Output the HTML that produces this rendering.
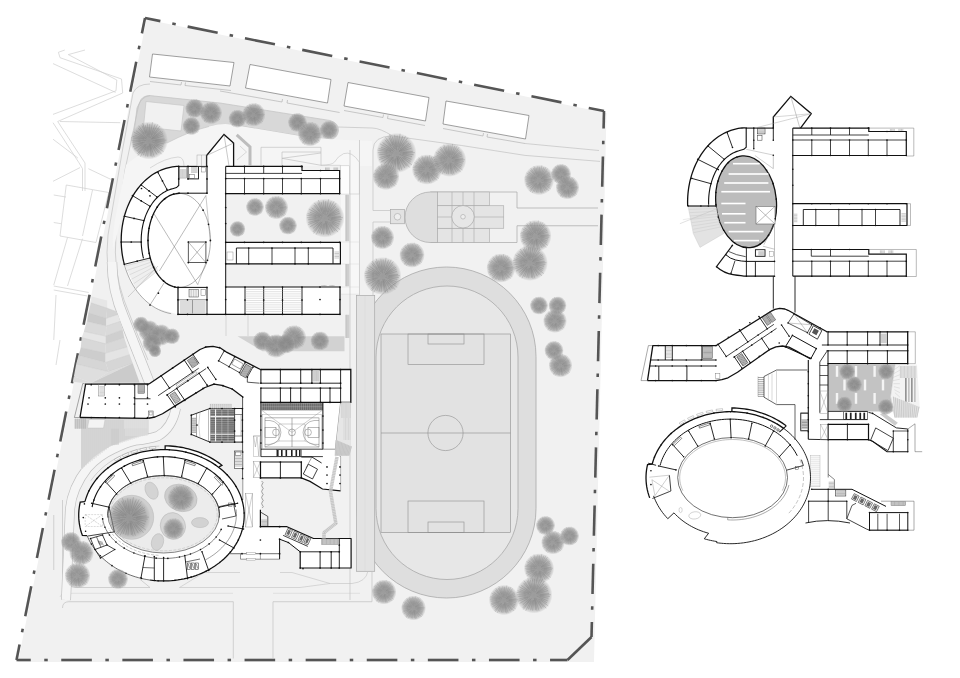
<!DOCTYPE html>
<html lang="en"><head><meta charset="utf-8"><title>Site plan</title>
<style>html,body{margin:0;padding:0;background:#fff;}body{width:960px;height:678px;overflow:hidden;font-family:"Liberation Sans",sans-serif;}svg{display:block;}</style>
</head><body>
<svg width="960" height="678" viewBox="0 0 960 678">
<defs><filter id="b1" x="-30%" y="-30%" width="160%" height="160%"><feGaussianBlur stdDeviation="0.6"/></filter><filter id="b2" x="-30%" y="-30%" width="160%" height="160%"><feGaussianBlur stdDeviation="1.2"/></filter></defs>
<g id="part_context">
<polyline points="64.8,50 58.4,52.3 60,57.7 121.5,79 122.7,93 57.7,121.5 85,163 85,191" fill="none" stroke="#cfcfcf" stroke-width="0.7" />
<polyline points="85,50 68.3,54.6 116.8,80 116,90.8 53,114.4" fill="none" stroke="#cfcfcf" stroke-width="0.7" />
<polyline points="53,63.6 115.6,92.4" fill="none" stroke="#cfcfcf" stroke-width="0.7" />
<polyline points="60,121.5 120.3,122.7" fill="none" stroke="#cfcfcf" stroke-width="0.7" />
<polyline points="53,122.7 79,162.8 82.5,168.7 82.5,191" fill="none" stroke="#cfcfcf" stroke-width="0.7" />
<polyline points="53,139.2 77.8,158" fill="none" stroke="#cfcfcf" stroke-width="0.7" />
<polyline points="53,181.3 80,167.6" fill="none" stroke="#cfcfcf" stroke-width="0.7" />
<polyline points="88.4,168.7 110.9,179.4" fill="none" stroke="#cfcfcf" stroke-width="0.7" />
<polygon points="66.25,185 108.75,192.5 96,242.5 60,236" fill="none" stroke="#cfcfcf" stroke-width="0.7" />
<polyline points="92.5,190 82.5,236" fill="none" stroke="#cfcfcf" stroke-width="0.7" />
<polyline points="53.75,195 66,197" fill="none" stroke="#cfcfcf" stroke-width="0.7" />
<polyline points="53.75,222.5 61,223.7" fill="none" stroke="#cfcfcf" stroke-width="0.7" />
<polyline points="67.5,237.5 53.75,285" fill="none" stroke="#cfcfcf" stroke-width="0.7" />
<polyline points="82.5,238.7 67.5,286" fill="none" stroke="#cfcfcf" stroke-width="0.7" />
<polyline points="53.75,286 88.75,292.5" fill="none" stroke="#cfcfcf" stroke-width="0.7" />
<polyline points="53.75,290 87.5,296" fill="none" stroke="#cfcfcf" stroke-width="0.7" />
<polyline points="56,295 53.75,340" fill="none" stroke="#cfcfcf" stroke-width="0.7" />
<polyline points="60,340 56,365" fill="none" stroke="#cfcfcf" stroke-width="0.7" />
</g>
<g id="part_base">
<polygon points="146.5,19.5 606.5,113 594,662 18,662" fill="#f1f1f1" stroke="none" stroke-width="1" filter="url(#b1)"/>
<path d="M357,356.5 A89.5,89.5 0 0 1 536,356.5 L536,508.5 A89.5,89.5 0 0 1 357,508.5 Z" fill="#dedede" stroke="#a8a8a8" stroke-width="0.8" />
<path d="M376,357 A71,71 0 0 1 518,357 L518,508.5 A71,71 0 0 1 376,508.5 Z" fill="#e7e7e7" stroke="#a8a8a8" stroke-width="0.8" />
<rect x="356.5" y="295.5" width="18.2" height="275.8" fill="#e3e3e3" stroke="#a8a8a8" stroke-width="0.7" />
<line x1="365" y1="296" x2="365" y2="571" stroke="#d6d6d6" stroke-width="0.5" />
<rect x="381" y="334" width="129.5" height="198.5" fill="#e2e2e2" stroke="#8e8e8e" stroke-width="0.6" />
<rect x="408" y="334" width="76" height="30.5" fill="none" stroke="#8e8e8e" stroke-width="0.6" />
<rect x="428" y="334" width="36" height="10" fill="none" stroke="#8e8e8e" stroke-width="0.6" />
<rect x="408" y="501" width="76" height="31.5" fill="none" stroke="#8e8e8e" stroke-width="0.6" />
<rect x="428" y="522" width="36" height="10.5" fill="none" stroke="#8e8e8e" stroke-width="0.6" />
<line x1="381" y1="433" x2="510.5" y2="433" stroke="#8e8e8e" stroke-width="0.6" />
<circle cx="445.5" cy="433" r="17.6" fill="none" stroke="#8e8e8e" stroke-width="0.6" />
<path d="M430.25,192 L517,192 L517,208 L598,208 M598,225.75 L517,225.75 L517,242.5 L430.25,242.5" fill="none" stroke="#a8a8a8" stroke-width="0.7" />
<path d="M430.25,192 A25.25,25.25 0 0 0 430.25,242.5 L437.5,242.5 L437.5,192 Z" fill="#dedede" stroke="#a8a8a8" stroke-width="0.7" />
<rect x="437.5" y="192" width="52" height="13.75" fill="#e4e4e4" stroke="#a8a8a8" stroke-width="0.6" />
<rect x="437.5" y="228.25" width="52" height="14.25" fill="#e4e4e4" stroke="#a8a8a8" stroke-width="0.6" />
<rect x="437.5" y="205.75" width="66.25" height="22.5" fill="#e4e4e4" stroke="#a8a8a8" stroke-width="0.6" />
<line x1="452" y1="192" x2="452" y2="242.5" stroke="#a8a8a8" stroke-width="0.6" />
<line x1="463" y1="192" x2="463" y2="242.5" stroke="#a8a8a8" stroke-width="0.6" />
<line x1="474" y1="192" x2="474" y2="242.5" stroke="#a8a8a8" stroke-width="0.6" />
<line x1="437.5" y1="217" x2="503.75" y2="217" stroke="#a8a8a8" stroke-width="0.6" />
<circle cx="463" cy="216.75" r="11.25" fill="#e6e6e6" stroke="#a8a8a8" stroke-width="0.7" />
<circle cx="463" cy="216.75" r="2.3" fill="#eee" stroke="#a8a8a8" stroke-width="0.6" />
<rect x="390.5" y="209.5" width="14" height="14.25" fill="#e2e2e2" stroke="#a8a8a8" stroke-width="0.7" />
<circle cx="397.5" cy="216.75" r="3.3" fill="#eee" stroke="#a8a8a8" stroke-width="0.6" />
<polygon points="152.5,54 234,62.5 230,86 149.5,77" fill="#fff" stroke="#777" stroke-width="0.7" />
<polygon points="250,64.5 331,79.5 327.5,103 245.5,88" fill="#fff" stroke="#777" stroke-width="0.7" />
<polygon points="348,82.5 429,97.5 425.5,121 344,106" fill="#fff" stroke="#777" stroke-width="0.7" />
<polygon points="446,101 529,115.5 525.5,139 443,124" fill="#fff" stroke="#777" stroke-width="0.7" />
<line x1="145" y1="18" x2="160.36" y2="21.11" stroke="#555" stroke-width="2.6" />
<line x1="172.3" y1="23.53" x2="175.73" y2="24.23" stroke="#555" stroke-width="2.6" />
<line x1="187.66" y1="26.64" x2="217.65" y2="32.72" stroke="#555" stroke-width="2.6" />
<line x1="229.59" y1="35.14" x2="233.02" y2="35.83" stroke="#555" stroke-width="2.6" />
<line x1="244.96" y1="38.25" x2="274.95" y2="44.33" stroke="#555" stroke-width="2.6" />
<line x1="286.89" y1="46.75" x2="290.32" y2="47.44" stroke="#555" stroke-width="2.6" />
<line x1="302.25" y1="49.86" x2="332.25" y2="55.94" stroke="#555" stroke-width="2.6" />
<line x1="344.18" y1="58.36" x2="347.61" y2="59.05" stroke="#555" stroke-width="2.6" />
<line x1="359.55" y1="61.47" x2="389.54" y2="67.55" stroke="#555" stroke-width="2.6" />
<line x1="401.48" y1="69.97" x2="404.91" y2="70.66" stroke="#555" stroke-width="2.6" />
<line x1="416.85" y1="73.08" x2="446.84" y2="79.16" stroke="#555" stroke-width="2.6" />
<line x1="458.77" y1="81.58" x2="462.2" y2="82.27" stroke="#555" stroke-width="2.6" />
<line x1="474.14" y1="84.69" x2="504.13" y2="90.77" stroke="#555" stroke-width="2.6" />
<line x1="516.07" y1="93.18" x2="519.5" y2="93.88" stroke="#555" stroke-width="2.6" />
<line x1="531.44" y1="96.3" x2="561.43" y2="102.37" stroke="#555" stroke-width="2.6" />
<line x1="573.37" y1="104.79" x2="576.8" y2="105.49" stroke="#555" stroke-width="2.6" />
<line x1="588.73" y1="107.91" x2="604" y2="111" stroke="#555" stroke-width="2.6" />
<line x1="145" y1="18" x2="141.92" y2="33.37" stroke="#555" stroke-width="2.6" />
<line x1="139.44" y1="45.8" x2="138.75" y2="49.23" stroke="#555" stroke-width="2.6" />
<line x1="136.26" y1="61.66" x2="130.26" y2="91.66" stroke="#555" stroke-width="2.6" />
<line x1="127.77" y1="104.09" x2="127.08" y2="107.52" stroke="#555" stroke-width="2.6" />
<line x1="124.59" y1="119.95" x2="118.59" y2="149.96" stroke="#555" stroke-width="2.6" />
<line x1="116.1" y1="162.39" x2="115.41" y2="165.82" stroke="#555" stroke-width="2.6" />
<line x1="112.93" y1="178.25" x2="106.92" y2="208.25" stroke="#555" stroke-width="2.6" />
<line x1="104.43" y1="220.68" x2="103.75" y2="224.11" stroke="#555" stroke-width="2.6" />
<line x1="101.26" y1="236.54" x2="95.25" y2="266.55" stroke="#555" stroke-width="2.6" />
<line x1="92.76" y1="278.97" x2="92.08" y2="282.41" stroke="#555" stroke-width="2.6" />
<line x1="89.59" y1="294.83" x2="83.58" y2="324.84" stroke="#555" stroke-width="2.6" />
<line x1="81.1" y1="337.27" x2="80.41" y2="340.7" stroke="#555" stroke-width="2.6" />
<line x1="77.92" y1="353.13" x2="71.92" y2="383.13" stroke="#555" stroke-width="2.6" />
<line x1="69.43" y1="395.56" x2="68.74" y2="398.99" stroke="#555" stroke-width="2.6" />
<line x1="66.25" y1="411.42" x2="60.25" y2="441.43" stroke="#555" stroke-width="2.6" />
<line x1="57.76" y1="453.86" x2="57.07" y2="457.29" stroke="#555" stroke-width="2.6" />
<line x1="54.59" y1="469.72" x2="48.58" y2="499.72" stroke="#555" stroke-width="2.6" />
<line x1="46.09" y1="512.15" x2="45.41" y2="515.58" stroke="#555" stroke-width="2.6" />
<line x1="42.92" y1="528.01" x2="36.91" y2="558.01" stroke="#555" stroke-width="2.6" />
<line x1="34.43" y1="570.44" x2="33.74" y2="573.87" stroke="#555" stroke-width="2.6" />
<line x1="31.25" y1="586.3" x2="25.25" y2="616.31" stroke="#555" stroke-width="2.6" />
<line x1="22.76" y1="628.74" x2="22.07" y2="632.17" stroke="#555" stroke-width="2.6" />
<line x1="19.58" y1="644.6" x2="16.5" y2="660" stroke="#555" stroke-width="2.6" />
<line x1="604" y1="111" x2="603.58" y2="128.55" stroke="#555" stroke-width="2.6" />
<line x1="603.29" y1="140.74" x2="603.21" y2="144.24" stroke="#555" stroke-width="2.6" />
<line x1="602.92" y1="156.44" x2="602.2" y2="186.73" stroke="#555" stroke-width="2.6" />
<line x1="601.91" y1="198.93" x2="601.83" y2="202.42" stroke="#555" stroke-width="2.6" />
<line x1="601.54" y1="214.62" x2="600.82" y2="244.91" stroke="#555" stroke-width="2.6" />
<line x1="600.53" y1="257.11" x2="600.44" y2="260.61" stroke="#555" stroke-width="2.6" />
<line x1="600.15" y1="272.8" x2="599.43" y2="303.1" stroke="#555" stroke-width="2.6" />
<line x1="599.15" y1="315.29" x2="599.06" y2="318.79" stroke="#555" stroke-width="2.6" />
<line x1="598.77" y1="330.99" x2="598.05" y2="361.28" stroke="#555" stroke-width="2.6" />
<line x1="597.76" y1="373.48" x2="597.68" y2="376.97" stroke="#555" stroke-width="2.6" />
<line x1="597.39" y1="389.17" x2="596.67" y2="419.46" stroke="#555" stroke-width="2.6" />
<line x1="596.38" y1="431.66" x2="596.3" y2="435.16" stroke="#555" stroke-width="2.6" />
<line x1="596.01" y1="447.36" x2="595.29" y2="477.65" stroke="#555" stroke-width="2.6" />
<line x1="595" y1="489.84" x2="594.91" y2="493.34" stroke="#555" stroke-width="2.6" />
<line x1="594.62" y1="505.54" x2="593.9" y2="535.83" stroke="#555" stroke-width="2.6" />
<line x1="593.61" y1="548.03" x2="593.53" y2="551.53" stroke="#555" stroke-width="2.6" />
<line x1="593.24" y1="563.72" x2="592.52" y2="594.01" stroke="#555" stroke-width="2.6" />
<line x1="592.23" y1="606.21" x2="592.15" y2="609.71" stroke="#555" stroke-width="2.6" />
<line x1="591.86" y1="621.91" x2="591.5" y2="637" stroke="#555" stroke-width="2.6" />
<line x1="16.5" y1="660" x2="30.75" y2="660" stroke="#555" stroke-width="2.6" />
<line x1="44.25" y1="660" x2="47.75" y2="660" stroke="#555" stroke-width="2.6" />
<line x1="61.25" y1="660" x2="91.85" y2="660" stroke="#555" stroke-width="2.6" />
<line x1="105.35" y1="660" x2="108.85" y2="660" stroke="#555" stroke-width="2.6" />
<line x1="122.35" y1="660" x2="152.95" y2="660" stroke="#555" stroke-width="2.6" />
<line x1="166.45" y1="660" x2="169.95" y2="660" stroke="#555" stroke-width="2.6" />
<line x1="183.45" y1="660" x2="214.05" y2="660" stroke="#555" stroke-width="2.6" />
<line x1="227.55" y1="660" x2="231.05" y2="660" stroke="#555" stroke-width="2.6" />
<line x1="244.55" y1="660" x2="275.15" y2="660" stroke="#555" stroke-width="2.6" />
<line x1="288.65" y1="660" x2="292.15" y2="660" stroke="#555" stroke-width="2.6" />
<line x1="305.65" y1="660" x2="336.25" y2="660" stroke="#555" stroke-width="2.6" />
<line x1="349.75" y1="660" x2="353.25" y2="660" stroke="#555" stroke-width="2.6" />
<line x1="366.75" y1="660" x2="397.35" y2="660" stroke="#555" stroke-width="2.6" />
<line x1="410.85" y1="660" x2="414.35" y2="660" stroke="#555" stroke-width="2.6" />
<line x1="427.85" y1="660" x2="458.45" y2="660" stroke="#555" stroke-width="2.6" />
<line x1="471.95" y1="660" x2="475.45" y2="660" stroke="#555" stroke-width="2.6" />
<line x1="488.95" y1="660" x2="519.55" y2="660" stroke="#555" stroke-width="2.6" />
<line x1="533.05" y1="660" x2="536.55" y2="660" stroke="#555" stroke-width="2.6" />
<line x1="550.05" y1="660" x2="567.5" y2="660" stroke="#555" stroke-width="2.6" />
<polyline points="591.5,637 567.5,660" fill="none" stroke="#555" stroke-width="2.6" />
</g>
<g id="part_roads">
<path d="M141,99.5 Q144,95.5 150,95.6 L220,103 L330,120.5 Q339,123 338.5,131 Q337,139 330,139.5 L300,136 L231,124.5 Q212,123 196,133 Q172,148 140,153 Q132,150 133,140 L137,108 Z" fill="#d8d8d8" stroke="#c2c2c2" stroke-width="0.7" />
<polygon points="146,101.5 184,105.5 181,131 143.5,127" fill="#f1f1f1" stroke="#c2c2c2" stroke-width="0.6" />
<path d="M150,81.5 L181,85 L181.5,82 M185.5,82.5 L185,85.5 L231,90.5 M220,91 L282,102 L282.5,99 M287.5,100 L287,103 L339.6,112.5 M344,110.5 L383,117.5 L383.5,114.5 M388,115.5 L387.5,118.5 L425,125.5 M443,128.5 L483,136 L483.5,133 M487.5,134 L487,137 L525,143.5" fill="none" stroke="#aaa" stroke-width="0.6" />
<path d="M338,127 L372,128 Q380,128 392.5,136 L461.7,145.5 L525,155.4 L600,161.4" fill="none" stroke="#c2c2c2" stroke-width="0.7" />
<path d="M525,143.5 L599,150.5" fill="none" stroke="#c2c2c2" stroke-width="0.7" />
<path d="M150,84 Q137,84 133,93 L122.5,150 L108,235 Q104,270 116,305 Q126,335 140,362" fill="none" stroke="#c2c2c2" stroke-width="0.7" />
<path d="M150,95.6 Q141,97 138.5,106 L125,170 L116,235 Q113,270 124,300 Q136,332 148,360" fill="none" stroke="#c2c2c2" stroke-width="0.7" />
<path d="M392.5,136 Q373,136 373,150 L373,210.5 L390.5,210.5 M390.5,222 L373,222 L373,295" fill="none" stroke="#c2c2c2" stroke-width="0.7" />
<path d="M167,143 Q190,131 209,126.5 Q222,123 231,124.5 L300,136 L333,139.5 L372,141 L372,166 L178,166 Q160,168 140,185 Q128,197 122,215 L113,250 Q112,235 116,215 L126,165 Q140,152 167,143 Z" fill="#f5f5f5" stroke="none" stroke-width="1" />
<path d="M167,143 Q190,131 209,126.5" fill="none" stroke="#c2c2c2" stroke-width="0.6" />
<path d="M150,168 Q165,158 178,157 Q184,157 184,166" fill="none" stroke="#c2c2c2" stroke-width="0.6" />
<path d="M236.7,134.8 L250,146.8 L250,165.3" fill="none" stroke="#bdbdbd" stroke-width="3.0" stroke-linejoin="miter"/>
<path d="M240,146 L246.5,152 L237,160" fill="none" stroke="#c4c4c4" stroke-width="0.6" />
<path d="M261,165.3 L261,147.3 L321,147.3 L321,165.3 M282,165.3 L282,152 L321,152 M321,153 L282,158.3 L321,165.3" fill="none" stroke="#b8b8b8" stroke-width="0.6" />
<path d="M340.4,165.3 L340.4,194.2 L359.4,194.2 L359.4,162.2 Q352,151 343.7,153.6 Q338,156 334.4,162.2 Q332,165 321,165.3 Z" fill="#f7f7f7" stroke="#c2c2c2" stroke-width="0.6" />
<rect x="340.4" y="165.8" width="9" height="28.4" fill="#fdfdfd" stroke="#c2c2c2" stroke-width="0.5" />
<rect x="341" y="194.2" width="17.8" height="100" fill="#f7f7f7" stroke="none" stroke-width="1" />
<line x1="341" y1="194.2" x2="358.8" y2="194.2" stroke="#d8d8d8" stroke-width="0.5" />
<line x1="341" y1="242" x2="358.8" y2="242" stroke="#d8d8d8" stroke-width="0.5" />
<line x1="341" y1="264" x2="358.8" y2="264" stroke="#d8d8d8" stroke-width="0.5" />
<line x1="341" y1="287" x2="358.8" y2="287" stroke="#d8d8d8" stroke-width="0.5" />
<line x1="341" y1="294.2" x2="358.8" y2="294.2" stroke="#d8d8d8" stroke-width="0.5" />
<rect x="345.2" y="194.8" width="4.1" height="46.4" fill="#cfcfcf" stroke="none" stroke-width="1" />
<line x1="346.6" y1="194.8" x2="346.6" y2="241.2" stroke="#bdbdbd" stroke-width="0.5" />
<rect x="345.2" y="264" width="4.1" height="22.3" fill="#cfcfcf" stroke="none" stroke-width="1" />
<line x1="346.6" y1="264" x2="346.6" y2="286.3" stroke="#bdbdbd" stroke-width="0.5" />
<rect x="345.2" y="314.8" width="4.1" height="23.2" fill="#cfcfcf" stroke="none" stroke-width="1" />
<line x1="346.6" y1="314.8" x2="346.6" y2="338" stroke="#bdbdbd" stroke-width="0.5" />
<polygon points="237.5,336.25 344.5,336.25 344.5,351.25 262.5,351.25" fill="#d2d2d2" stroke="none" stroke-width="1" />
<path d="M226,315 L226,336 M248,315 L248,336" fill="none" stroke="#c2c2c2" stroke-width="0.6" />
<path d="M62.5,608 Q62.5,601.7 69,601.7 L233.3,601.7 L233.3,658.5 M273,658.5 L273,601.7 L372,601.7 L372,571" fill="none" stroke="#c2c2c2" stroke-width="0.7" />
<path d="M60,597 Q61,593.3 67,593.3 L233,593.3 M273,593.3 L360,593.3" fill="none" stroke="#d4d4d4" stroke-width="0.6" />
<path d="M62.5,500 L62.5,572 Q63,587.5 76,587.5 L150,587.5 L140,579.3 M53.75,515 L53.75,570" fill="none" stroke="#c2c2c2" stroke-width="0.7" />
<path d="M179.5,587.5 L204,572.5 L240,572.5 M280,572.5 L292,572.5 L330,583.5 L352,583.5 Q366,582 368,571 M179.5,587.5 L300,587.5 L330,583.5" fill="none" stroke="#c2c2c2" stroke-width="0.6" />
<path d="M112,262 Q112,290 124,318 L150,384" fill="none" stroke="#c2c2c2" stroke-width="10.4" stroke-linecap="butt" stroke-linejoin="round"/>
<path d="M112,262 Q112,290 124,318 L150,384" fill="none" stroke="#f5f5f5" stroke-width="9" stroke-linecap="butt" stroke-linejoin="round"/>
<path d="M66,600 L70,509 Q72,488 87.5,468 Q98,456 113.75,448.75 Q125,443 135,440.6 Q150,439 158,436 Q172,428 176,408" fill="none" stroke="#c2c2c2" stroke-width="9.9" stroke-linecap="butt" stroke-linejoin="round"/>
<path d="M66,600 L70,509 Q72,488 87.5,468 Q98,456 113.75,448.75 Q125,443 135,440.6 Q150,439 158,436 Q172,428 176,408" fill="none" stroke="#f5f5f5" stroke-width="8.5" stroke-linecap="butt" stroke-linejoin="round"/>
<path d="M359.5,140 L359.5,295 M350,150 L350,600" fill="none" stroke="#c2c2c2" stroke-width="0.7" />
</g>
<g id="part_bldA">
<polygon points="179,166.2 176.16,166.5 173.14,166.81 170.13,167.31 167.14,168.02 164.19,168.92 161.28,170.02 158.41,171.32 155.61,172.8 152.87,174.47 150.2,176.31 147.61,178.34 145.11,180.53 142.7,182.89 140.39,185.41 138.19,188.07 136.1,190.88 134.13,193.83 132.28,196.9 130.56,200.1 128.97,203.4 127.52,206.8 126.21,210.3 125.05,213.88 124.04,217.53 123.18,221.25 122.47,225.01 121.91,228.82 121.52,232.66 121.28,236.53 121.2,240.4 121.28,244.27 121.52,248.14 121.91,251.98 122.47,255.79 123.18,259.55 124.04,263.27 125.05,266.92 126.21,270.5 127.52,274 128.97,277.4 130.56,280.7 132.28,283.9 134.13,286.97 136.1,289.92 138.19,292.73 140.39,295.39 142.7,297.91 145.11,300.27 147.61,302.46 150.2,304.49 152.87,306.33 155.61,308 178,314.5 340,314.5 340,287 226,287 226,263.8 340.4,263.8 340.4,242.3 226,242.3 226,193.6 339.6,193.6 339.6,170.5 302,170.5 302,166.4 233.6,166.4 233.6,143 224,134.4 206.6,155.5 206.6,166.2" fill="#fff" stroke="none" stroke-width="1" />
<rect x="226" y="193.6" width="115" height="48.7" fill="#f1f1f1" stroke="none" stroke-width="1" />
<polyline points="124.04,263.27 125.13,267.16 126.38,270.97 127.8,274.68 129.38,278.29 131.12,281.78 133,285.14 135.03,288.36 137.2,291.43 139.5,294.34 141.92,297.09 144.46,299.65 147.1,302.04 149.85,304.23 152.69,306.22 155.61,308 158.6,309.58 161.66,310.94 164.78,312.08 167.93,312.99 171.13,313.68" fill="none" stroke="#777" stroke-width="0.6" />
<polygon points="124.3,264.3 150,258 158,270 136,289" fill="#efefef" stroke="none" stroke-width="1" />
<line x1="125" y1="266" x2="151" y2="259.5" stroke="#c8c8c8" stroke-width="0.5" />
<line x1="127.2" y1="270.4" x2="152.4" y2="261.7" stroke="#c8c8c8" stroke-width="0.5" />
<line x1="129.4" y1="274.8" x2="153.8" y2="263.9" stroke="#c8c8c8" stroke-width="0.5" />
<line x1="131.6" y1="279.2" x2="155.2" y2="266.1" stroke="#c8c8c8" stroke-width="0.5" />
<line x1="133.8" y1="283.6" x2="156.6" y2="268.3" stroke="#c8c8c8" stroke-width="0.5" />
<line x1="136" y1="288" x2="158" y2="270.5" stroke="#c8c8c8" stroke-width="0.5" />
<line x1="128" y1="297" x2="158" y2="266" stroke="#aaa" stroke-width="0.5" />
<polyline points="178.9,166.4 176.71,166.47 174.52,166.64 172.34,166.92 170.17,167.3 168.01,167.79 165.87,168.38 163.75,169.07 161.65,169.87 159.58,170.76 157.53,171.76 155.51,172.85 153.53,174.04 151.59,175.33 149.68,176.7 147.81,178.17 146,179.73 144.22,181.37 142.5,183.1 140.83,184.91 139.22,186.79 137.66,188.76 136.16,190.8 134.72,192.9 133.35,195.08 132.04,197.32 130.8,199.63 129.63,201.99 128.53,204.4 127.5,206.87 126.54,209.38 125.66,211.94 124.86,214.54 124.13,217.18 123.48,219.85 122.91,222.55 122.42,225.27 122.02,228.02 121.69,230.78 121.45,233.56 121.29,236.35 121.21,239.14 121.21,241.93 121.3,244.73 121.47,247.51 121.72,250.29 122.05,253.05 122.47,255.8 122.97,258.52 123.54,261.21 124.2,263.88" fill="none" stroke="#111" stroke-width="1.3" />
<polyline points="178.75,166.2 178.75,185.5 176.5,187.6 172.6,188.7 170.98,189.14 169.36,189.69 167.77,190.33 166.2,191.07 164.66,191.9 163.14,192.82 161.65,193.83 160.2,194.93 158.78,196.12 157.4,197.39 156.07,198.75 154.77,200.18 153.53,201.69 152.33,203.28 151.18,204.93 150.09,206.65 149.05,208.44 148.07,210.29 147.15,212.19 146.29,214.15 145.49,216.16 144.76,218.21 144.09,220.31 143.49,222.44 142.96,224.61 142.49,226.81 142.1,229.04 141.78,231.28 141.53,233.55 141.34,235.82 141.24,238.11 141.2,240.4 141.24,242.69 141.34,244.98 141.53,247.25 141.78,249.52 142.1,251.76 142.49,253.99 142.96,256.19 143.49,258.36" fill="none" stroke="#111" stroke-width="1.1" />
<line x1="158" y1="172.5" x2="166.9" y2="189.4" stroke="#111" stroke-width="0.9" />
<line x1="141.25" y1="185" x2="156.9" y2="196.9" stroke="#111" stroke-width="0.9" />
<line x1="132.5" y1="195.6" x2="150" y2="206.25" stroke="#111" stroke-width="0.9" />
<line x1="124.4" y1="216.25" x2="143.75" y2="220.6" stroke="#111" stroke-width="0.9" />
<line x1="121.2" y1="242" x2="141.3" y2="242" stroke="#111" stroke-width="0.9" />
<line x1="124.3" y1="264.3" x2="150" y2="258" stroke="#111" stroke-width="0.9" />
<polyline points="179.2,193.4 177.24,193.49 175.29,193.77 173.35,194.23 171.44,194.88 169.56,195.7 167.71,196.7 165.92,197.87 164.17,199.21 162.48,200.72 160.86,202.38 159.31,204.19 157.84,206.14 156.46,208.23 155.16,210.44 153.96,212.77 152.86,215.22 151.86,217.76 150.97,220.39 150.19,223.1 149.53,225.88 148.98,228.71 148.55,231.59 148.25,234.51 148.06,237.45 148,240.4 148.06,243.35 148.25,246.29 148.55,249.21 148.98,252.09 149.53,254.92 150.19,257.7 150.97,260.41 151.86,263.04 152.86,265.58 153.96,268.03 155.16,270.36 156.46,272.57 157.84,274.66 159.31,276.61 160.86,278.42 162.48,280.08 164.17,281.59 165.92,282.93 167.71,284.1 169.56,285.1 171.44,285.92 173.35,286.57 175.29,287.03 177.24,287.31 179.2,287.4" fill="none" stroke="#111" stroke-width="1.3" />
<polyline points="179.2,193.4 181.16,193.49 183.11,193.77 185.05,194.23 186.96,194.88 188.84,195.7 190.69,196.7 192.48,197.87 194.23,199.21 195.92,200.72 197.54,202.38 199.09,204.19 200.56,206.14 201.94,208.23 203.24,210.44 204.44,212.77 205.54,215.22 206.54,217.76 207.43,220.39 208.21,223.1 208.87,225.88 209.42,228.71 209.85,231.59 210.15,234.51 210.34,237.45 210.4,240.4 210.34,243.35 210.15,246.29 209.85,249.21 209.42,252.09 208.87,254.92 208.21,257.7 207.43,260.41 206.54,263.04 205.54,265.58 204.44,268.03 203.24,270.36 201.94,272.57 200.56,274.66 199.09,276.61 197.54,278.42 195.92,280.08 194.23,281.59 192.48,282.93 190.69,284.1 188.84,285.1 186.96,285.92 185.05,286.57 183.11,287.03 181.16,287.31 179.2,287.4" fill="none" stroke="#777" stroke-width="0.6" />
<line x1="179" y1="193.2" x2="207" y2="193.2" stroke="#111" stroke-width="1.0" />
<line x1="154.2" y1="214" x2="197.6" y2="284.3" stroke="#777" stroke-width="0.5" />
<line x1="205.9" y1="195.5" x2="159.4" y2="270.9" stroke="#777" stroke-width="0.5" />
<line x1="205.9" y1="195.5" x2="210.4" y2="242" stroke="#777" stroke-width="0.4" />
<rect x="188.3" y="242" width="17.6" height="20.6" fill="none" stroke="#333" stroke-width="0.8" />
<line x1="188.3" y1="242" x2="205.9" y2="262.6" stroke="#777" stroke-width="0.5" />
<line x1="205.9" y1="242" x2="188.3" y2="262.6" stroke="#777" stroke-width="0.5" />
<line x1="205.9" y1="262.6" x2="197.6" y2="285" stroke="#777" stroke-width="0.4" />
<line x1="164.6" y1="282.2" x2="150" y2="305" stroke="#777" stroke-width="0.5" />
<polyline points="178,287.4 178,314.3 340,314.3" fill="none" stroke="#111" stroke-width="1.2" />
<line x1="178" y1="287.4" x2="207" y2="287.4" stroke="#111" stroke-width="1.0" />
<line x1="178" y1="299.8" x2="207" y2="299.8" stroke="#333" stroke-width="0.6" />
<line x1="180" y1="301.5" x2="205.5" y2="301.5" stroke="#999" stroke-width="0.35" />
<line x1="180" y1="302.5" x2="205.5" y2="302.5" stroke="#999" stroke-width="0.35" />
<line x1="180" y1="303.5" x2="205.5" y2="303.5" stroke="#999" stroke-width="0.35" />
<line x1="180" y1="304.5" x2="205.5" y2="304.5" stroke="#999" stroke-width="0.35" />
<line x1="180" y1="305.5" x2="205.5" y2="305.5" stroke="#999" stroke-width="0.35" />
<line x1="180" y1="306.5" x2="205.5" y2="306.5" stroke="#999" stroke-width="0.35" />
<line x1="180" y1="307.5" x2="205.5" y2="307.5" stroke="#999" stroke-width="0.35" />
<line x1="180" y1="308.5" x2="205.5" y2="308.5" stroke="#999" stroke-width="0.35" />
<line x1="180" y1="309.5" x2="205.5" y2="309.5" stroke="#999" stroke-width="0.35" />
<line x1="180" y1="310.5" x2="205.5" y2="310.5" stroke="#999" stroke-width="0.35" />
<line x1="180" y1="311.5" x2="205.5" y2="311.5" stroke="#999" stroke-width="0.35" />
<line x1="180" y1="312.5" x2="205.5" y2="312.5" stroke="#999" stroke-width="0.35" />
<line x1="192.5" y1="300" x2="192.5" y2="313.5" stroke="#555" stroke-width="0.5" />
<rect x="189" y="289.5" width="9.5" height="7.5" fill="none" stroke="#444" stroke-width="0.5" />
<line x1="190" y1="289.5" x2="190" y2="297" stroke="#666" stroke-width="0.35" />
<line x1="191.7" y1="289.5" x2="191.7" y2="297" stroke="#666" stroke-width="0.35" />
<line x1="193.4" y1="289.5" x2="193.4" y2="297" stroke="#666" stroke-width="0.35" />
<line x1="195.1" y1="289.5" x2="195.1" y2="297" stroke="#666" stroke-width="0.35" />
<line x1="196.8" y1="289.5" x2="196.8" y2="297" stroke="#666" stroke-width="0.35" />
<rect x="201" y="289.5" width="4.5" height="6" fill="none" stroke="#555" stroke-width="0.4" />
<polyline points="207,193.2 207,166.4" fill="none" stroke="#111" stroke-width="1.0" />
<polyline points="178.75,166.4 207,166.4" fill="none" stroke="#111" stroke-width="1.0" />
<line x1="207" y1="287.4" x2="207" y2="314.3" stroke="#111" stroke-width="0.9" />
<line x1="225.7" y1="166.4" x2="225.7" y2="314.3" stroke="#111" stroke-width="1.0" />
<polyline points="206.6,166.4 206.6,155.5 224,134.4 233.6,143 233.6,166.4" fill="none" stroke="#111" stroke-width="1.3" />
<line x1="224" y1="134.4" x2="229" y2="166" stroke="#777" stroke-width="0.4" />
<line x1="206.6" y1="155.5" x2="233.6" y2="143" stroke="#777" stroke-width="0.4" />
<rect x="179.5" y="167" width="7" height="11" fill="none" stroke="#555" stroke-width="0.4" />
<line x1="180.3" y1="169" x2="180.3" y2="177.5" stroke="#777" stroke-width="0.35" />
<line x1="181.4" y1="169" x2="181.4" y2="177.5" stroke="#777" stroke-width="0.35" />
<line x1="182.5" y1="169" x2="182.5" y2="177.5" stroke="#777" stroke-width="0.35" />
<line x1="183.6" y1="169" x2="183.6" y2="177.5" stroke="#777" stroke-width="0.35" />
<line x1="184.7" y1="169" x2="184.7" y2="177.5" stroke="#777" stroke-width="0.35" />
<line x1="185.8" y1="169" x2="185.8" y2="177.5" stroke="#777" stroke-width="0.35" />
<rect x="188" y="166.4" width="10.5" height="12.5" fill="none" stroke="#111" stroke-width="0.9" />
<line x1="191" y1="167.6" x2="197.5" y2="167.6" stroke="#666" stroke-width="0.35" />
<line x1="191" y1="168.8" x2="197.5" y2="168.8" stroke="#666" stroke-width="0.35" />
<line x1="191" y1="170" x2="197.5" y2="170" stroke="#666" stroke-width="0.35" />
<line x1="191" y1="171.2" x2="197.5" y2="171.2" stroke="#666" stroke-width="0.35" />
<line x1="191" y1="172.4" x2="197.5" y2="172.4" stroke="#666" stroke-width="0.35" />
<rect x="189.5" y="174.3" width="5" height="4" fill="none" stroke="#444" stroke-width="0.4" />
<rect x="201.5" y="167.5" width="4" height="4.5" fill="none" stroke="#666" stroke-width="0.4" />
<rect x="197" y="155" width="9" height="11" fill="#f4f4f4" stroke="#999" stroke-width="0.4" />
<line x1="201.5" y1="155" x2="201.5" y2="166" stroke="#999" stroke-width="0.4" />
<polyline points="225.7,166.4 302,166.4 302,170.5 339.6,170.5 339.6,193.6 225.7,193.6" fill="none" stroke="#111" stroke-width="1.2" />
<line x1="225.7" y1="173.4" x2="302" y2="173.4" stroke="#111" stroke-width="0.8" />
<line x1="225.7" y1="178.6" x2="339.6" y2="178.6" stroke="#111" stroke-width="0.8" />
<line x1="244.5" y1="166.4" x2="244.5" y2="173.4" stroke="#111" stroke-width="0.8" />
<line x1="263.7" y1="166.4" x2="263.7" y2="173.4" stroke="#111" stroke-width="0.8" />
<line x1="282.5" y1="166.4" x2="282.5" y2="173.4" stroke="#111" stroke-width="0.8" />
<line x1="244.5" y1="178.6" x2="244.5" y2="193.6" stroke="#111" stroke-width="0.8" />
<line x1="263.7" y1="178.6" x2="263.7" y2="193.6" stroke="#111" stroke-width="0.8" />
<line x1="282.5" y1="178.6" x2="282.5" y2="193.6" stroke="#111" stroke-width="0.8" />
<line x1="301.3" y1="178.6" x2="301.3" y2="193.6" stroke="#111" stroke-width="0.8" />
<line x1="320.5" y1="178.6" x2="320.5" y2="193.6" stroke="#111" stroke-width="0.8" />
<line x1="325.5" y1="167.5" x2="325.5" y2="170" stroke="#777" stroke-width="0.4" />
<line x1="326.7" y1="167.5" x2="326.7" y2="170" stroke="#777" stroke-width="0.4" />
<line x1="327.9" y1="167.5" x2="327.9" y2="170" stroke="#777" stroke-width="0.4" />
<line x1="329.1" y1="167.5" x2="329.1" y2="170" stroke="#777" stroke-width="0.4" />
<line x1="334" y1="167.5" x2="334" y2="170" stroke="#777" stroke-width="0.4" />
<line x1="335.2" y1="167.5" x2="335.2" y2="170" stroke="#777" stroke-width="0.4" />
<line x1="336.4" y1="167.5" x2="336.4" y2="170" stroke="#777" stroke-width="0.4" />
<line x1="337.6" y1="167.5" x2="337.6" y2="170" stroke="#777" stroke-width="0.4" />
<polyline points="225.7,242.3 340.4,242.3 340.4,263.8 225.7,263.8" fill="none" stroke="#111" stroke-width="1.2" />
<polyline points="236.4,263.8 236.4,248 333,248 333,263.8" fill="none" stroke="#111" stroke-width="0.9" />
<line x1="248.7" y1="248" x2="248.7" y2="263.8" stroke="#111" stroke-width="0.8" />
<line x1="272" y1="248" x2="272" y2="263.8" stroke="#111" stroke-width="0.8" />
<line x1="295" y1="248" x2="295" y2="263.8" stroke="#111" stroke-width="0.8" />
<line x1="308.3" y1="248" x2="308.3" y2="263.8" stroke="#111" stroke-width="0.8" />
<line x1="334.5" y1="252" x2="339" y2="252" stroke="#666" stroke-width="0.35" />
<line x1="334.5" y1="253.5" x2="339" y2="253.5" stroke="#666" stroke-width="0.35" />
<line x1="334.5" y1="255" x2="339" y2="255" stroke="#666" stroke-width="0.35" />
<line x1="334.5" y1="256.5" x2="339" y2="256.5" stroke="#666" stroke-width="0.35" />
<line x1="334.5" y1="258" x2="339" y2="258" stroke="#666" stroke-width="0.35" />
<rect x="227" y="252" width="6" height="8" fill="none" stroke="#777" stroke-width="0.4" />
<polyline points="225.7,287 340,287 340,314.3" fill="none" stroke="#111" stroke-width="1.2" />
<line x1="245" y1="287" x2="245" y2="314.3" stroke="#111" stroke-width="0.9" />
<line x1="263.7" y1="287" x2="263.7" y2="314.3" stroke="#111" stroke-width="0.9" />
<line x1="282.5" y1="287" x2="282.5" y2="314.3" stroke="#111" stroke-width="0.9" />
<line x1="302" y1="287" x2="302" y2="314.3" stroke="#111" stroke-width="0.9" />
<line x1="245.5" y1="289.5" x2="301.5" y2="289.5" stroke="#aaa" stroke-width="0.35" />
<line x1="245.5" y1="291.7" x2="301.5" y2="291.7" stroke="#aaa" stroke-width="0.35" />
<line x1="245.5" y1="293.9" x2="301.5" y2="293.9" stroke="#aaa" stroke-width="0.35" />
<line x1="245.5" y1="296.1" x2="301.5" y2="296.1" stroke="#aaa" stroke-width="0.35" />
<line x1="245.5" y1="298.3" x2="301.5" y2="298.3" stroke="#aaa" stroke-width="0.35" />
<line x1="245.5" y1="300.5" x2="301.5" y2="300.5" stroke="#aaa" stroke-width="0.35" />
<line x1="245.5" y1="302.7" x2="301.5" y2="302.7" stroke="#aaa" stroke-width="0.35" />
<line x1="245.5" y1="304.9" x2="301.5" y2="304.9" stroke="#aaa" stroke-width="0.35" />
<line x1="245.5" y1="307.1" x2="301.5" y2="307.1" stroke="#aaa" stroke-width="0.35" />
<line x1="245.5" y1="309.3" x2="301.5" y2="309.3" stroke="#aaa" stroke-width="0.35" />
<line x1="245.5" y1="311.5" x2="301.5" y2="311.5" stroke="#aaa" stroke-width="0.35" />
<line x1="322" y1="285" x2="322" y2="287" stroke="#777" stroke-width="0.4" />
<line x1="323.3" y1="285" x2="323.3" y2="287" stroke="#777" stroke-width="0.4" />
<line x1="324.6" y1="285" x2="324.6" y2="287" stroke="#777" stroke-width="0.4" />
<line x1="325.9" y1="285" x2="325.9" y2="287" stroke="#777" stroke-width="0.4" />
<line x1="330" y1="285" x2="330" y2="287" stroke="#777" stroke-width="0.4" />
<line x1="331.3" y1="285" x2="331.3" y2="287" stroke="#777" stroke-width="0.4" />
<line x1="332.6" y1="285" x2="332.6" y2="287" stroke="#777" stroke-width="0.4" />
<line x1="333.9" y1="285" x2="333.9" y2="287" stroke="#777" stroke-width="0.4" />
<circle cx="158" cy="172.5" r="0.85" fill="#111" stroke="none" stroke-width="1" />
<circle cx="166.9" cy="189.4" r="0.85" fill="#111" stroke="none" stroke-width="1" />
<circle cx="162.45" cy="180.95" r="0.85" fill="#111" stroke="none" stroke-width="1" />
<circle cx="141.25" cy="185" r="0.85" fill="#111" stroke="none" stroke-width="1" />
<circle cx="156.9" cy="196.9" r="0.85" fill="#111" stroke="none" stroke-width="1" />
<circle cx="149.07" cy="190.95" r="0.85" fill="#111" stroke="none" stroke-width="1" />
<circle cx="132.5" cy="195.6" r="0.85" fill="#111" stroke="none" stroke-width="1" />
<circle cx="150" cy="206.25" r="0.85" fill="#111" stroke="none" stroke-width="1" />
<circle cx="141.25" cy="200.93" r="0.85" fill="#111" stroke="none" stroke-width="1" />
<circle cx="124.4" cy="216.25" r="0.85" fill="#111" stroke="none" stroke-width="1" />
<circle cx="143.75" cy="220.6" r="0.85" fill="#111" stroke="none" stroke-width="1" />
<circle cx="134.07" cy="218.43" r="0.85" fill="#111" stroke="none" stroke-width="1" />
<circle cx="121.2" cy="242" r="0.85" fill="#111" stroke="none" stroke-width="1" />
<circle cx="141.3" cy="242" r="0.85" fill="#111" stroke="none" stroke-width="1" />
<circle cx="131.25" cy="242" r="0.85" fill="#111" stroke="none" stroke-width="1" />
<circle cx="124.3" cy="264.3" r="0.85" fill="#111" stroke="none" stroke-width="1" />
<circle cx="150" cy="258" r="0.85" fill="#111" stroke="none" stroke-width="1" />
<circle cx="137.15" cy="261.15" r="0.85" fill="#111" stroke="none" stroke-width="1" />
<circle cx="141.5" cy="188.5" r="0.85" fill="#111" stroke="none" stroke-width="1" />
<circle cx="150" cy="195.8" r="0.85" fill="#111" stroke="none" stroke-width="1" />
<circle cx="173.78" cy="194.11" r="0.85" fill="#111" stroke="none" stroke-width="1" />
<circle cx="164.55" cy="198.9" r="0.85" fill="#111" stroke="none" stroke-width="1" />
<circle cx="157.14" cy="207.17" r="0.85" fill="#111" stroke="none" stroke-width="1" />
<circle cx="152.18" cy="216.9" r="0.85" fill="#111" stroke="none" stroke-width="1" />
<circle cx="149.06" cy="228.24" r="0.85" fill="#111" stroke="none" stroke-width="1" />
<circle cx="148" cy="240.4" r="0.85" fill="#111" stroke="none" stroke-width="1" />
<circle cx="149.21" cy="253.35" r="0.85" fill="#111" stroke="none" stroke-width="1" />
<circle cx="153.64" cy="267.36" r="0.85" fill="#111" stroke="none" stroke-width="1" />
<circle cx="163.6" cy="281.1" r="0.85" fill="#111" stroke="none" stroke-width="1" />
<circle cx="174.86" cy="286.94" r="0.85" fill="#111" stroke="none" stroke-width="1" />
<circle cx="203.1" cy="210.19" r="0.85" fill="#111" stroke="none" stroke-width="1" />
<circle cx="208.52" cy="224.33" r="0.85" fill="#111" stroke="none" stroke-width="1" />
<circle cx="210.4" cy="240.4" r="0.85" fill="#111" stroke="none" stroke-width="1" />
<circle cx="207.48" cy="260.26" r="0.85" fill="#111" stroke="none" stroke-width="1" />
<circle cx="188.3" cy="242" r="0.85" fill="#111" stroke="none" stroke-width="1" />
<circle cx="205.9" cy="242" r="0.85" fill="#111" stroke="none" stroke-width="1" />
<circle cx="188.3" cy="262.6" r="0.85" fill="#111" stroke="none" stroke-width="1" />
<circle cx="205.9" cy="262.6" r="0.85" fill="#111" stroke="none" stroke-width="1" />
<circle cx="179" cy="193.2" r="0.85" fill="#111" stroke="none" stroke-width="1" />
<circle cx="188" cy="193.2" r="0.85" fill="#111" stroke="none" stroke-width="1" />
<circle cx="207" cy="193.2" r="0.85" fill="#111" stroke="none" stroke-width="1" />
<circle cx="158.4" cy="293.2" r="0.85" fill="#111" stroke="none" stroke-width="1" />
<circle cx="150" cy="305" r="0.85" fill="#111" stroke="none" stroke-width="1" />
<circle cx="178" cy="287.4" r="0.85" fill="#111" stroke="none" stroke-width="1" />
<circle cx="178" cy="299.8" r="0.85" fill="#111" stroke="none" stroke-width="1" />
<circle cx="178" cy="314.3" r="0.85" fill="#111" stroke="none" stroke-width="1" />
<circle cx="187.5" cy="299.8" r="0.85" fill="#111" stroke="none" stroke-width="1" />
<circle cx="187.5" cy="314.3" r="0.85" fill="#111" stroke="none" stroke-width="1" />
<circle cx="207" cy="299.8" r="0.85" fill="#111" stroke="none" stroke-width="1" />
<circle cx="207" cy="314.3" r="0.85" fill="#111" stroke="none" stroke-width="1" />
<circle cx="207" cy="287.4" r="0.85" fill="#111" stroke="none" stroke-width="1" />
<circle cx="225.5" cy="314.3" r="0.85" fill="#111" stroke="none" stroke-width="1" />
<circle cx="178.75" cy="166.4" r="0.85" fill="#111" stroke="none" stroke-width="1" />
<circle cx="188" cy="166.4" r="0.85" fill="#111" stroke="none" stroke-width="1" />
<circle cx="207" cy="166.4" r="0.85" fill="#111" stroke="none" stroke-width="1" />
<circle cx="178.75" cy="178.9" r="0.85" fill="#111" stroke="none" stroke-width="1" />
<circle cx="188" cy="178.9" r="0.85" fill="#111" stroke="none" stroke-width="1" />
<circle cx="207" cy="178.9" r="0.85" fill="#111" stroke="none" stroke-width="1" />
<circle cx="244.5" cy="178.6" r="0.85" fill="#111" stroke="none" stroke-width="1" />
<circle cx="244.5" cy="193.6" r="0.85" fill="#111" stroke="none" stroke-width="1" />
<circle cx="244.5" cy="166.4" r="0.85" fill="#111" stroke="none" stroke-width="1" />
<circle cx="263.7" cy="178.6" r="0.85" fill="#111" stroke="none" stroke-width="1" />
<circle cx="263.7" cy="193.6" r="0.85" fill="#111" stroke="none" stroke-width="1" />
<circle cx="263.7" cy="166.4" r="0.85" fill="#111" stroke="none" stroke-width="1" />
<circle cx="282.5" cy="178.6" r="0.85" fill="#111" stroke="none" stroke-width="1" />
<circle cx="282.5" cy="193.6" r="0.85" fill="#111" stroke="none" stroke-width="1" />
<circle cx="282.5" cy="166.4" r="0.85" fill="#111" stroke="none" stroke-width="1" />
<circle cx="301.3" cy="178.6" r="0.85" fill="#111" stroke="none" stroke-width="1" />
<circle cx="301.3" cy="193.6" r="0.85" fill="#111" stroke="none" stroke-width="1" />
<circle cx="301.3" cy="166.4" r="0.85" fill="#111" stroke="none" stroke-width="1" />
<circle cx="320.5" cy="178.6" r="0.85" fill="#111" stroke="none" stroke-width="1" />
<circle cx="320.5" cy="193.6" r="0.85" fill="#111" stroke="none" stroke-width="1" />
<circle cx="320.5" cy="170.5" r="0.85" fill="#111" stroke="none" stroke-width="1" />
<circle cx="225.7" cy="178.6" r="0.85" fill="#111" stroke="none" stroke-width="1" />
<circle cx="225.7" cy="193.6" r="0.85" fill="#111" stroke="none" stroke-width="1" />
<circle cx="339.6" cy="178.6" r="0.85" fill="#111" stroke="none" stroke-width="1" />
<circle cx="339.6" cy="193.6" r="0.85" fill="#111" stroke="none" stroke-width="1" />
<circle cx="302" cy="166.4" r="0.85" fill="#111" stroke="none" stroke-width="1" />
<circle cx="248.7" cy="248" r="0.85" fill="#111" stroke="none" stroke-width="1" />
<circle cx="248.7" cy="263.8" r="0.85" fill="#111" stroke="none" stroke-width="1" />
<circle cx="272" cy="248" r="0.85" fill="#111" stroke="none" stroke-width="1" />
<circle cx="272" cy="263.8" r="0.85" fill="#111" stroke="none" stroke-width="1" />
<circle cx="295" cy="248" r="0.85" fill="#111" stroke="none" stroke-width="1" />
<circle cx="295" cy="263.8" r="0.85" fill="#111" stroke="none" stroke-width="1" />
<circle cx="308.3" cy="248" r="0.85" fill="#111" stroke="none" stroke-width="1" />
<circle cx="308.3" cy="263.8" r="0.85" fill="#111" stroke="none" stroke-width="1" />
<circle cx="244.5" cy="242.3" r="0.85" fill="#111" stroke="none" stroke-width="1" />
<circle cx="263.7" cy="242.3" r="0.85" fill="#111" stroke="none" stroke-width="1" />
<circle cx="282.5" cy="242.3" r="0.85" fill="#111" stroke="none" stroke-width="1" />
<circle cx="301.3" cy="242.3" r="0.85" fill="#111" stroke="none" stroke-width="1" />
<circle cx="320.5" cy="242.3" r="0.85" fill="#111" stroke="none" stroke-width="1" />
<circle cx="339.6" cy="242.3" r="0.85" fill="#111" stroke="none" stroke-width="1" />
<circle cx="245" cy="287" r="0.85" fill="#111" stroke="none" stroke-width="1" />
<circle cx="245" cy="314.3" r="0.85" fill="#111" stroke="none" stroke-width="1" />
<circle cx="245" cy="300" r="0.85" fill="#111" stroke="none" stroke-width="1" />
<circle cx="263.7" cy="287" r="0.85" fill="#111" stroke="none" stroke-width="1" />
<circle cx="263.7" cy="314.3" r="0.85" fill="#111" stroke="none" stroke-width="1" />
<circle cx="263.7" cy="300" r="0.85" fill="#111" stroke="none" stroke-width="1" />
<circle cx="282.5" cy="287" r="0.85" fill="#111" stroke="none" stroke-width="1" />
<circle cx="282.5" cy="314.3" r="0.85" fill="#111" stroke="none" stroke-width="1" />
<circle cx="282.5" cy="300" r="0.85" fill="#111" stroke="none" stroke-width="1" />
<circle cx="302" cy="287" r="0.85" fill="#111" stroke="none" stroke-width="1" />
<circle cx="302" cy="314.3" r="0.85" fill="#111" stroke="none" stroke-width="1" />
<circle cx="302" cy="300" r="0.85" fill="#111" stroke="none" stroke-width="1" />
<circle cx="320" cy="299.5" r="0.85" fill="#111" stroke="none" stroke-width="1" />
<circle cx="320" cy="314.3" r="0.85" fill="#111" stroke="none" stroke-width="1" />
<circle cx="340" cy="299.5" r="0.85" fill="#111" stroke="none" stroke-width="1" />
<circle cx="340" cy="314.3" r="0.85" fill="#111" stroke="none" stroke-width="1" />
<circle cx="340" cy="287" r="0.85" fill="#111" stroke="none" stroke-width="1" />
<circle cx="320" cy="287" r="0.85" fill="#111" stroke="none" stroke-width="1" />
<circle cx="225.7" cy="299.5" r="0.85" fill="#111" stroke="none" stroke-width="1" />
<circle cx="225.7" cy="207.5" r="0.85" fill="#111" stroke="none" stroke-width="1" />
<circle cx="225.7" cy="223.5" r="0.85" fill="#111" stroke="none" stroke-width="1" />
<circle cx="225.7" cy="242.3" r="0.85" fill="#111" stroke="none" stroke-width="1" />
<circle cx="225.7" cy="263.8" r="0.85" fill="#111" stroke="none" stroke-width="1" />
<circle cx="225.7" cy="287" r="0.85" fill="#111" stroke="none" stroke-width="1" />
</g>
<g id="part_bldB">
<polygon points="91.67,296.61 107.15,300.48 107.15,308.22 90.9,302.8" fill="#e6e6e6" stroke="none" stroke-width="1" />
<polygon points="90.9,302.8 107.15,308.22 106.38,318.28 88.58,312.86" fill="#d4d4d4" stroke="none" stroke-width="1" />
<polygon points="107.15,308.22 116.44,311.63 117.99,314.41 106.38,318.28" fill="#d4d4d4" stroke="none" stroke-width="1" />
<polygon points="88.58,312.86 106.38,318.28 106.38,326.02 87.03,321.38" fill="#cbcbcb" stroke="none" stroke-width="1" />
<polygon points="106.38,318.28 117.99,314.41 120.31,321.38 106.38,326.02" fill="#e6e6e6" stroke="none" stroke-width="1" />
<polygon points="87.03,321.38 106.38,326.02 105.6,336.08 83.93,331.44" fill="#dadada" stroke="none" stroke-width="1" />
<polygon points="106.38,326.02 120.31,321.38 122.63,329.89 105.6,336.08" fill="#dadada" stroke="none" stroke-width="1" />
<polygon points="83.93,331.44 105.6,336.08 105.6,343.82 81.61,337.63" fill="#e6e6e6" stroke="none" stroke-width="1" />
<polygon points="105.6,336.08 122.63,329.89 124.18,337.63 105.6,343.82" fill="#cfcfcf" stroke="none" stroke-width="1" />
<polygon points="81.61,337.63 105.6,343.82 105.6,353.11 80.84,347.69" fill="#d8d8d8" stroke="none" stroke-width="1" />
<polygon points="105.6,343.82 124.18,337.63 127.28,346.92 105.6,353.11" fill="#d8d8d8" stroke="none" stroke-width="1" />
<polygon points="80.84,347.69 105.6,353.11 105.6,362.4 78.51,355.43" fill="#cdcdcd" stroke="none" stroke-width="1" />
<polygon points="105.6,353.11 127.28,346.92 129.6,354.66 105.6,362.4" fill="#e4e4e4" stroke="none" stroke-width="1" />
<polygon points="78.51,355.43 105.6,362.4 108.7,371.69 76.19,363.95" fill="#d6d6d6" stroke="none" stroke-width="1" />
<polygon points="105.6,362.4 129.6,354.66 132.69,363.17 108.7,371.69" fill="#d6d6d6" stroke="none" stroke-width="1" />
<polygon points="76.19,363.95 108.7,371.69 91.67,382.83 73.87,376.33" fill="#dedede" stroke="none" stroke-width="1" />
<polyline points="90.9,302.8 107.15,308.22 116.44,311.63" fill="none" stroke="#c4c4c4" stroke-width="0.4" />
<polyline points="88.58,312.86 106.38,318.28 117.99,314.41" fill="none" stroke="#c4c4c4" stroke-width="0.4" />
<polyline points="87.03,321.38 106.38,326.02 120.31,321.38" fill="none" stroke="#c4c4c4" stroke-width="0.4" />
<polyline points="83.93,331.44 105.6,336.08 122.63,329.89" fill="none" stroke="#c4c4c4" stroke-width="0.4" />
<polyline points="81.61,337.63 105.6,343.82 124.18,337.63" fill="none" stroke="#c4c4c4" stroke-width="0.4" />
<polyline points="80.84,347.69 105.6,353.11 127.28,346.92" fill="none" stroke="#c4c4c4" stroke-width="0.4" />
<polyline points="78.51,355.43 105.6,362.4 129.6,354.66" fill="none" stroke="#c4c4c4" stroke-width="0.4" />
<polyline points="76.19,363.95 108.7,371.69 132.69,363.17" fill="none" stroke="#c4c4c4" stroke-width="0.4" />
<polygon points="73.87,376.33 91.67,382.83 80.84,382.83 72.79,381.75" fill="#dcdcdc" stroke="none" stroke-width="1" />
<polygon points="108.7,371.69 132.69,363.17 91.67,382.83" fill="#dcdcdc" stroke="none" stroke-width="1" />
<polygon points="91.67,382.83 132.69,363.17 139.66,382.83" fill="#cbcbcb" stroke="none" stroke-width="1" />
<path d="M81,418.7 L147.5,418.7 L147.5,434.5 Q128,438 110,446.5 Q92,456 82.5,469 L81,469 Z" fill="#e0e0e0" stroke="none" stroke-width="1" />
<rect x="74.5" y="418.7" width="11.5" height="10" fill="#cccccc" stroke="none" stroke-width="1" />
<line x1="75.5" y1="418.7" x2="75.5" y2="428.7" stroke="#b0b0b0" stroke-width="0.45" />
<line x1="77.5" y1="418.7" x2="77.5" y2="428.7" stroke="#b0b0b0" stroke-width="0.45" />
<line x1="79.5" y1="418.7" x2="79.5" y2="428.7" stroke="#b0b0b0" stroke-width="0.45" />
<line x1="81.5" y1="418.7" x2="81.5" y2="428.7" stroke="#b0b0b0" stroke-width="0.45" />
<line x1="83.5" y1="418.7" x2="83.5" y2="428.7" stroke="#b0b0b0" stroke-width="0.45" />
<line x1="85.5" y1="418.7" x2="85.5" y2="428.7" stroke="#b0b0b0" stroke-width="0.45" />
<rect x="111" y="428.7" width="8" height="16.3" fill="#d0d0d0" stroke="none" stroke-width="1" fill-opacity="0.6"/>
<rect x="124" y="420" width="23.5" height="8.7" fill="#eeeeee" stroke="none" stroke-width="1" />
<rect x="125" y="428.7" width="22.5" height="7.3" fill="#e8e8e8" stroke="none" stroke-width="1" />
<line x1="82" y1="419.5" x2="82" y2="468.39" stroke="#b4b4b4" stroke-width="0.55" />
<line x1="84" y1="419.5" x2="84" y2="466.83" stroke="#b4b4b4" stroke-width="0.55" />
<line x1="86" y1="419.5" x2="86" y2="465.27" stroke="#b4b4b4" stroke-width="0.55" />
<line x1="88" y1="419.5" x2="88" y2="463.71" stroke="#b4b4b4" stroke-width="0.55" />
<line x1="90" y1="419.5" x2="90" y2="462.15" stroke="#b4b4b4" stroke-width="0.55" />
<line x1="92" y1="419.5" x2="92" y2="460.59" stroke="#b4b4b4" stroke-width="0.55" />
<line x1="94" y1="419.5" x2="94" y2="459.03" stroke="#b4b4b4" stroke-width="0.55" />
<line x1="96" y1="419.5" x2="96" y2="457.47" stroke="#b4b4b4" stroke-width="0.55" />
<line x1="98" y1="419.5" x2="98" y2="455.91" stroke="#b4b4b4" stroke-width="0.55" />
<line x1="100" y1="419.5" x2="100" y2="454.35" stroke="#b4b4b4" stroke-width="0.55" />
<line x1="102" y1="419.5" x2="102" y2="452.79" stroke="#b4b4b4" stroke-width="0.55" />
<line x1="104" y1="419.5" x2="104" y2="451.23" stroke="#b4b4b4" stroke-width="0.55" />
<line x1="106" y1="419.5" x2="106" y2="449.67" stroke="#b4b4b4" stroke-width="0.55" />
<line x1="108" y1="419.5" x2="108" y2="448.11" stroke="#b4b4b4" stroke-width="0.55" />
<line x1="110" y1="419.5" x2="110" y2="446.5" stroke="#b4b4b4" stroke-width="0.55" />
<line x1="112" y1="419.5" x2="112" y2="445.86" stroke="#b4b4b4" stroke-width="0.55" />
<line x1="114" y1="419.5" x2="114" y2="445.22" stroke="#b4b4b4" stroke-width="0.55" />
<line x1="116" y1="419.5" x2="116" y2="444.58" stroke="#b4b4b4" stroke-width="0.55" />
<line x1="118" y1="419.5" x2="118" y2="443.94" stroke="#b4b4b4" stroke-width="0.55" />
<line x1="120" y1="419.5" x2="120" y2="443.3" stroke="#b4b4b4" stroke-width="0.55" />
<line x1="122" y1="419.5" x2="122" y2="442.66" stroke="#b4b4b4" stroke-width="0.55" />
<line x1="124" y1="419.5" x2="124" y2="442.02" stroke="#b4b4b4" stroke-width="0.55" />
<line x1="126" y1="419.5" x2="126" y2="441.38" stroke="#b4b4b4" stroke-width="0.55" />
<line x1="128" y1="419.5" x2="128" y2="440.74" stroke="#b4b4b4" stroke-width="0.55" />
<line x1="130" y1="419.5" x2="130" y2="440.1" stroke="#b4b4b4" stroke-width="0.55" />
<line x1="132" y1="419.5" x2="132" y2="439.46" stroke="#b4b4b4" stroke-width="0.55" />
<line x1="134" y1="419.5" x2="134" y2="438.82" stroke="#b4b4b4" stroke-width="0.55" />
<line x1="136" y1="419.5" x2="136" y2="438.18" stroke="#b4b4b4" stroke-width="0.55" />
<line x1="138" y1="419.5" x2="138" y2="437.54" stroke="#b4b4b4" stroke-width="0.55" />
<line x1="140" y1="419.5" x2="140" y2="436.9" stroke="#b4b4b4" stroke-width="0.55" />
<line x1="142" y1="419.5" x2="142" y2="436.26" stroke="#b4b4b4" stroke-width="0.55" />
<line x1="144" y1="419.5" x2="144" y2="435.62" stroke="#b4b4b4" stroke-width="0.55" />
<line x1="146" y1="419.5" x2="146" y2="434.98" stroke="#b4b4b4" stroke-width="0.55" />
<line x1="148" y1="419.5" x2="148" y2="434.34" stroke="#b4b4b4" stroke-width="0.55" />
<polygon points="89,419.5 105,419.5 103.5,428 87.5,428" fill="#f4f4f4" stroke="#bbb" stroke-width="0.4" />
<polygon points="85.6,384.1 149,384 200,349.5 206,347 213,346.4 220,347.8 226,351.8 260.5,369.5 350.8,369.5 350.8,402.3 340.6,402.3 335.5,449 340.6,457 340.6,490.8 322.5,489 310,481.4 301.3,477.9 260.5,477.9 260.5,526.7 287,526.7 313.5,538.5 351.1,538.5 351.1,568 300.2,568 300.2,551.8 288.4,542.5 279.6,539.2 279.6,559.2 240.5,559.2 240.5,553.7 229.4,553.7 242.8,520 242.4,442.1 209.9,442.1 191.3,434.4 191.3,415.2 209.9,408.5 242.4,408.5 242.8,397 232.2,389 222,385.4 214,384.2 205,387.5 177.5,404.4 162.5,413.75 155,417 148.4,418.4 80,417.5" fill="#fff" stroke="none" stroke-width="1" />
<polyline points="80,417.5 85.6,384.1 149,384" fill="none" stroke="#111" stroke-width="1.3" />
<polyline points="80,417.5 148.4,418.4" fill="none" stroke="#111" stroke-width="1.3" />
<polyline points="82.8,383.4 74.4,417.5 80,417.5" fill="none" stroke="#555" stroke-width="0.5" />
<line x1="82.8" y1="383.4" x2="85.6" y2="384.1" stroke="#555" stroke-width="0.5" />
<line x1="134.75" y1="384.3" x2="134.75" y2="417.5" stroke="#111" stroke-width="0.9" />
<line x1="134.75" y1="398.75" x2="150.5" y2="398.75" stroke="#111" stroke-width="0.8" />
<rect x="138" y="385" width="6.7" height="8.5" fill="none" stroke="#333" stroke-width="0.4" />
<line x1="138.2" y1="386" x2="144.5" y2="386" stroke="#333" stroke-width="0.45" />
<line x1="138.2" y1="387.1" x2="144.5" y2="387.1" stroke="#333" stroke-width="0.45" />
<line x1="138.2" y1="388.2" x2="144.5" y2="388.2" stroke="#333" stroke-width="0.45" />
<line x1="138.2" y1="389.3" x2="144.5" y2="389.3" stroke="#333" stroke-width="0.45" />
<line x1="138.2" y1="390.4" x2="144.5" y2="390.4" stroke="#333" stroke-width="0.45" />
<line x1="138.2" y1="391.5" x2="144.5" y2="391.5" stroke="#333" stroke-width="0.45" />
<line x1="138.2" y1="392.6" x2="144.5" y2="392.6" stroke="#333" stroke-width="0.45" />
<rect x="98.75" y="384.7" width="6" height="11.3" fill="none" stroke="#666" stroke-width="0.4" />
<line x1="99.3" y1="386.5" x2="104.2" y2="386.5" stroke="#888" stroke-width="0.35" />
<line x1="99.3" y1="387.7" x2="104.2" y2="387.7" stroke="#888" stroke-width="0.35" />
<line x1="99.3" y1="388.9" x2="104.2" y2="388.9" stroke="#888" stroke-width="0.35" />
<line x1="99.3" y1="390.1" x2="104.2" y2="390.1" stroke="#888" stroke-width="0.35" />
<line x1="99.3" y1="391.3" x2="104.2" y2="391.3" stroke="#888" stroke-width="0.35" />
<line x1="99.3" y1="392.5" x2="104.2" y2="392.5" stroke="#888" stroke-width="0.35" />
<line x1="99.3" y1="393.7" x2="104.2" y2="393.7" stroke="#888" stroke-width="0.35" />
<line x1="99.3" y1="394.9" x2="104.2" y2="394.9" stroke="#888" stroke-width="0.35" />
<rect x="148.6" y="411" width="4.5" height="6.5" fill="none" stroke="#444" stroke-width="0.5" />
<rect x="149.6" y="412" width="2.5" height="3" fill="none" stroke="#666" stroke-width="0.4" />
<line x1="147.5" y1="384.3" x2="147.5" y2="398.75" stroke="#444" stroke-width="0.6" />
<polyline points="149,384 200,349.5 206,347 213,346.4 220,347.8 226,351.8 260.5,369.5" fill="none" stroke="#111" stroke-width="1.3" stroke-linejoin="round"/>
<polyline points="148.4,418.4 155,417 162.5,413.75 177.5,404.4 205,387.5 214,384.2 222,385.4 232.2,389 242.8,397" fill="none" stroke="#111" stroke-width="1.3" stroke-linejoin="round"/>
<polyline points="158.12,395.69 198.69,368.25" fill="none" stroke="#111" stroke-width="0.8" />
<polyline points="166.38,395.42 206.12,368.54" fill="none" stroke="#111" stroke-width="0.8" />
<polygon points="176.18,384.93 196.05,371.49 197.17,373.14 177.3,386.58" fill="none" stroke="#555" stroke-width="0.4" />
<line x1="161.17" y1="375.77" x2="169.46" y2="388.02" stroke="#111" stroke-width="0.9" />
<line x1="184.27" y1="360.14" x2="192.56" y2="372.4" stroke="#111" stroke-width="0.9" />
<line x1="192.88" y1="354.32" x2="199.04" y2="363.43" stroke="#111" stroke-width="0.8" />
<line x1="167.2" y1="394.86" x2="175.27" y2="406.78" stroke="#111" stroke-width="0.9" />
<line x1="176.73" y1="388.42" x2="184.79" y2="400.34" stroke="#111" stroke-width="0.9" />
<line x1="199.08" y1="373.3" x2="207.15" y2="385.22" stroke="#111" stroke-width="0.9" />
<line x1="207.78" y1="367.42" x2="215.84" y2="379.34" stroke="#111" stroke-width="0.9" />
<polygon points="187.38,360.46 193.18,356.54 198.22,363.99 192.42,367.91" fill="none" stroke="#222" stroke-width="0.5" />
<line x1="187.96" y1="360.42" x2="192.67" y2="367.38" stroke="#333" stroke-width="0.45" />
<line x1="188.67" y1="359.95" x2="193.37" y2="366.9" stroke="#333" stroke-width="0.45" />
<line x1="189.37" y1="359.47" x2="194.07" y2="366.43" stroke="#333" stroke-width="0.45" />
<line x1="190.07" y1="359" x2="194.78" y2="365.95" stroke="#333" stroke-width="0.45" />
<line x1="190.78" y1="358.52" x2="195.48" y2="365.48" stroke="#333" stroke-width="0.45" />
<line x1="191.48" y1="358.04" x2="196.18" y2="365" stroke="#333" stroke-width="0.45" />
<line x1="192.18" y1="357.57" x2="196.89" y2="364.52" stroke="#333" stroke-width="0.45" />
<line x1="192.89" y1="357.09" x2="197.59" y2="364.05" stroke="#333" stroke-width="0.45" />
<polygon points="169.87,395.23 174.84,391.87 180.44,400.15 175.47,403.51" fill="none" stroke="#222" stroke-width="0.5" />
<line x1="170.45" y1="395.2" x2="175.71" y2="402.98" stroke="#333" stroke-width="0.45" />
<line x1="171.28" y1="394.64" x2="176.54" y2="402.42" stroke="#333" stroke-width="0.45" />
<line x1="172.11" y1="394.08" x2="177.37" y2="401.86" stroke="#333" stroke-width="0.45" />
<line x1="172.93" y1="393.52" x2="178.2" y2="401.3" stroke="#333" stroke-width="0.45" />
<line x1="173.76" y1="392.96" x2="179.03" y2="400.74" stroke="#333" stroke-width="0.45" />
<line x1="174.59" y1="392.4" x2="179.85" y2="400.18" stroke="#333" stroke-width="0.45" />
<line x1="224.26" y1="350.82" x2="218.61" y2="360.83" stroke="#111" stroke-width="0.8" />
<line x1="234.71" y1="356.71" x2="229.06" y2="366.73" stroke="#111" stroke-width="0.8" />
<line x1="245.16" y1="362.6" x2="239.52" y2="372.62" stroke="#111" stroke-width="0.8" />
<line x1="253" y1="367.02" x2="247.35" y2="377.04" stroke="#111" stroke-width="0.8" />
<polyline points="218.61,360.83 239.52,372.62" fill="none" stroke="#111" stroke-width="0.7" />
<polygon points="234.6,358.94 243.31,363.85 240.36,369.08 231.65,364.17" fill="none" stroke="#444" stroke-width="0.5" />
<polygon points="245.98,364.21 251.64,367.4 245.75,377.85 240.09,374.66" fill="none" stroke="#222" stroke-width="0.6" />
<line x1="246.27" y1="364.72" x2="240.67" y2="374.65" stroke="#333" stroke-width="0.45" />
<line x1="247.05" y1="365.16" x2="241.45" y2="375.09" stroke="#333" stroke-width="0.45" />
<line x1="247.83" y1="365.6" x2="242.24" y2="375.53" stroke="#333" stroke-width="0.45" />
<line x1="248.62" y1="366.04" x2="243.02" y2="375.97" stroke="#333" stroke-width="0.45" />
<line x1="249.4" y1="366.48" x2="243.8" y2="376.41" stroke="#333" stroke-width="0.45" />
<line x1="250.19" y1="366.93" x2="244.59" y2="376.86" stroke="#333" stroke-width="0.45" />
<line x1="250.97" y1="367.37" x2="245.37" y2="377.3" stroke="#333" stroke-width="0.45" />
<polyline points="247.35,377.04 247.32,382.18 259.6,383.2" fill="none" stroke="#111" stroke-width="0.7" />
<polyline points="260.9,369.5 350.8,369.5 350.8,402.3 260.9,402.3" fill="none" stroke="#111" stroke-width="1.3" />
<line x1="260.9" y1="369.5" x2="260.9" y2="383.2" stroke="#111" stroke-width="1.0" />
<line x1="260.9" y1="388.1" x2="260.9" y2="402.3" stroke="#111" stroke-width="1.0" />
<line x1="260.9" y1="383.2" x2="340.6" y2="383.2" stroke="#111" stroke-width="0.9" />
<line x1="260.9" y1="388.1" x2="340.6" y2="388.1" stroke="#111" stroke-width="0.9" />
<line x1="340.6" y1="369.5" x2="340.6" y2="402.3" stroke="#111" stroke-width="0.9" />
<line x1="280.4" y1="369.5" x2="280.4" y2="383.2" stroke="#111" stroke-width="0.9" />
<line x1="300.7" y1="369.5" x2="300.7" y2="383.2" stroke="#111" stroke-width="0.9" />
<line x1="311.9" y1="369.5" x2="311.9" y2="383.2" stroke="#111" stroke-width="0.9" />
<line x1="320.4" y1="369.5" x2="320.4" y2="383.2" stroke="#111" stroke-width="0.9" />
<line x1="280.4" y1="388.1" x2="280.4" y2="402.3" stroke="#111" stroke-width="0.9" />
<line x1="290.6" y1="388.1" x2="290.6" y2="402.3" stroke="#111" stroke-width="0.9" />
<line x1="300.7" y1="388.1" x2="300.7" y2="402.3" stroke="#111" stroke-width="0.9" />
<line x1="320.4" y1="388.1" x2="320.4" y2="402.3" stroke="#111" stroke-width="0.9" />
<line x1="330" y1="388.1" x2="330" y2="402.3" stroke="#111" stroke-width="0.9" />
<line x1="313.2" y1="371" x2="313.2" y2="381.5" stroke="#777" stroke-width="0.4" />
<line x1="314.3" y1="371" x2="314.3" y2="381.5" stroke="#777" stroke-width="0.4" />
<line x1="315.4" y1="371" x2="315.4" y2="381.5" stroke="#777" stroke-width="0.4" />
<line x1="316.5" y1="371" x2="316.5" y2="381.5" stroke="#777" stroke-width="0.4" />
<line x1="317.6" y1="371" x2="317.6" y2="381.5" stroke="#777" stroke-width="0.4" />
<line x1="318.7" y1="371" x2="318.7" y2="381.5" stroke="#777" stroke-width="0.4" />
<rect x="261.5" y="403.2" width="61.4" height="7.1" fill="#6a6a6a" stroke="none" stroke-width="1" />
<line x1="262.5" y1="403.2" x2="262.5" y2="410.3" stroke="#bbb" stroke-width="0.35" />
<line x1="264.55" y1="403.2" x2="264.55" y2="410.3" stroke="#bbb" stroke-width="0.35" />
<line x1="266.6" y1="403.2" x2="266.6" y2="410.3" stroke="#bbb" stroke-width="0.35" />
<line x1="268.65" y1="403.2" x2="268.65" y2="410.3" stroke="#bbb" stroke-width="0.35" />
<line x1="270.7" y1="403.2" x2="270.7" y2="410.3" stroke="#bbb" stroke-width="0.35" />
<line x1="272.75" y1="403.2" x2="272.75" y2="410.3" stroke="#bbb" stroke-width="0.35" />
<line x1="274.8" y1="403.2" x2="274.8" y2="410.3" stroke="#bbb" stroke-width="0.35" />
<line x1="276.85" y1="403.2" x2="276.85" y2="410.3" stroke="#bbb" stroke-width="0.35" />
<line x1="278.9" y1="403.2" x2="278.9" y2="410.3" stroke="#bbb" stroke-width="0.35" />
<line x1="280.95" y1="403.2" x2="280.95" y2="410.3" stroke="#bbb" stroke-width="0.35" />
<line x1="283" y1="403.2" x2="283" y2="410.3" stroke="#bbb" stroke-width="0.35" />
<line x1="285.05" y1="403.2" x2="285.05" y2="410.3" stroke="#bbb" stroke-width="0.35" />
<line x1="287.1" y1="403.2" x2="287.1" y2="410.3" stroke="#bbb" stroke-width="0.35" />
<line x1="289.15" y1="403.2" x2="289.15" y2="410.3" stroke="#bbb" stroke-width="0.35" />
<line x1="291.2" y1="403.2" x2="291.2" y2="410.3" stroke="#bbb" stroke-width="0.35" />
<line x1="293.25" y1="403.2" x2="293.25" y2="410.3" stroke="#bbb" stroke-width="0.35" />
<line x1="295.3" y1="403.2" x2="295.3" y2="410.3" stroke="#bbb" stroke-width="0.35" />
<line x1="297.35" y1="403.2" x2="297.35" y2="410.3" stroke="#bbb" stroke-width="0.35" />
<line x1="299.4" y1="403.2" x2="299.4" y2="410.3" stroke="#bbb" stroke-width="0.35" />
<line x1="301.45" y1="403.2" x2="301.45" y2="410.3" stroke="#bbb" stroke-width="0.35" />
<line x1="303.5" y1="403.2" x2="303.5" y2="410.3" stroke="#bbb" stroke-width="0.35" />
<line x1="305.55" y1="403.2" x2="305.55" y2="410.3" stroke="#bbb" stroke-width="0.35" />
<line x1="307.6" y1="403.2" x2="307.6" y2="410.3" stroke="#bbb" stroke-width="0.35" />
<line x1="309.65" y1="403.2" x2="309.65" y2="410.3" stroke="#bbb" stroke-width="0.35" />
<line x1="311.7" y1="403.2" x2="311.7" y2="410.3" stroke="#bbb" stroke-width="0.35" />
<line x1="313.75" y1="403.2" x2="313.75" y2="410.3" stroke="#bbb" stroke-width="0.35" />
<line x1="315.8" y1="403.2" x2="315.8" y2="410.3" stroke="#bbb" stroke-width="0.35" />
<line x1="317.85" y1="403.2" x2="317.85" y2="410.3" stroke="#bbb" stroke-width="0.35" />
<line x1="319.9" y1="403.2" x2="319.9" y2="410.3" stroke="#bbb" stroke-width="0.35" />
<line x1="321.95" y1="403.2" x2="321.95" y2="410.3" stroke="#bbb" stroke-width="0.35" />
<line x1="261" y1="406.7" x2="323" y2="406.7" stroke="#ccc" stroke-width="0.3" />
<line x1="260.9" y1="402.3" x2="260.9" y2="456.6" stroke="#111" stroke-width="1.0" />
<line x1="322.9" y1="402.3" x2="322.9" y2="449.2" stroke="#111" stroke-width="1.0" />
<line x1="260.9" y1="449.2" x2="322.9" y2="449.2" stroke="#111" stroke-width="0.9" />
<rect x="265" y="417.9" width="54" height="29.1" fill="none" stroke="#666" stroke-width="0.5" />
<rect x="262.5" y="414.5" width="59" height="35" fill="none" stroke="#999" stroke-width="0.4" />
<line x1="292" y1="417.9" x2="292" y2="447" stroke="#666" stroke-width="0.5" />
<circle cx="292" cy="432.4" r="3.4" fill="none" stroke="#666" stroke-width="0.5" />
<rect x="265" y="427.3" width="11" height="10.2" fill="none" stroke="#666" stroke-width="0.45" />
<rect x="308" y="427.3" width="11" height="10.2" fill="none" stroke="#666" stroke-width="0.45" />
<circle cx="276" cy="432.4" r="3.4" fill="none" stroke="#666" stroke-width="0.45" />
<circle cx="308" cy="432.4" r="3.4" fill="none" stroke="#666" stroke-width="0.45" />
<path d="M265,420.5 L270,420.5 A12,12 0 0 1 270,444.4 L265,444.4 M319,420.5 L314,420.5 A12,12 0 0 0 314,444.4 L319,444.4" fill="none" stroke="#666" stroke-width="0.45" />
<rect x="279" y="424" width="26" height="17" fill="none" stroke="#888" stroke-width="0.4" />
<line x1="262" y1="410.5" x2="292" y2="432.4" stroke="#888" stroke-width="0.4" />
<line x1="322" y1="410.5" x2="292" y2="432.4" stroke="#888" stroke-width="0.4" />
<line x1="265" y1="447" x2="279" y2="441" stroke="#888" stroke-width="0.4" />
<line x1="319" y1="447" x2="305" y2="441" stroke="#888" stroke-width="0.4" />
<line x1="260.9" y1="456.6" x2="322.9" y2="456.6" stroke="#111" stroke-width="0.8" />
<rect x="277" y="450" width="1.6" height="6" fill="#222" stroke="none" stroke-width="1" />
<rect x="281" y="450" width="1.6" height="6" fill="#222" stroke="none" stroke-width="1" />
<rect x="285.5" y="450" width="1.6" height="6" fill="#222" stroke="none" stroke-width="1" />
<rect x="291" y="450" width="1.6" height="6" fill="#222" stroke="none" stroke-width="1" />
<rect x="295.5" y="450" width="1.6" height="6" fill="#222" stroke="none" stroke-width="1" />
<rect x="299" y="450" width="1.6" height="6" fill="#222" stroke="none" stroke-width="1" />
<rect x="276.5" y="449.8" width="25" height="6.6" fill="none" stroke="#333" stroke-width="0.5" />
<polyline points="340.6,402.3 335.5,449 340.6,457" fill="none" stroke="#555" stroke-width="0.6" />
<line x1="322.9" y1="449.2" x2="335.5" y2="449.2" stroke="#555" stroke-width="0.6" />
<polyline points="253.4,436 260.5,436" fill="none" stroke="#888" stroke-width="0.4" />
<polyline points="253.6,436 255.4,447 257,437 258.8,456 260.3,437" fill="none" stroke="#888" stroke-width="0.4" />
<rect x="253.4" y="436" width="7.1" height="20.5" fill="none" stroke="#999" stroke-width="0.4" />
<rect x="253.4" y="461.6" width="7.1" height="16" fill="none" stroke="#888" stroke-width="0.4" />
<line x1="253.4" y1="461.6" x2="260.5" y2="477.6" stroke="#888" stroke-width="0.4" />
<line x1="260.5" y1="461.6" x2="253.4" y2="477.6" stroke="#888" stroke-width="0.4" />
<polyline points="260.5,462 301.3,462 301.3,477.9 260.5,477.9 260.5,462" fill="none" stroke="#111" stroke-width="1.2" />
<line x1="280.4" y1="462" x2="280.4" y2="477.9" stroke="#111" stroke-width="0.9" />
<polyline points="301.3,457 311.9,457 321.6,463" fill="none" stroke="#111" stroke-width="0.9" />
<polyline points="301.3,477.9 310,481.4 322.5,489 340.6,490.8" fill="none" stroke="#111" stroke-width="1.2" />
<polygon points="308.3,464.2 317.5,469.2 312.5,479 303.3,474" fill="none" stroke="#111" stroke-width="0.8" />
<polyline points="311.9,457 306,468" fill="none" stroke="#444" stroke-width="0.5" />
<line x1="340.6" y1="457" x2="340.6" y2="490.8" stroke="#777" stroke-width="0.5" />
<path d="M261.6,481 Q264.2,482.5 262.3,484 Q261,485.5 262.3,487 Q264.2,488.5 262.3,490 Q261,491.5 262.3,493 Q264.2,494.5 262.3,496 Q261,497.5 262.3,499 Q264.2,500.5 262.3,502 Q261,503.5 262.3,505 Q264.2,506.5 262.3,508" fill="none" stroke="#555" stroke-width="0.5" />
<line x1="242.6" y1="397" x2="242.6" y2="478.5" stroke="#111" stroke-width="0.7" />
<line x1="242.8" y1="478.5" x2="242.8" y2="500" stroke="#555" stroke-width="0.6" />
<rect x="234.3" y="451" width="8.5" height="17.6" fill="#fff" stroke="#333" stroke-width="0.6" />
<line x1="235" y1="457" x2="242" y2="457" stroke="#555" stroke-width="0.4" />
<line x1="235" y1="458.5" x2="242" y2="458.5" stroke="#555" stroke-width="0.4" />
<line x1="235" y1="460" x2="242" y2="460" stroke="#555" stroke-width="0.4" />
<line x1="235" y1="461.5" x2="242" y2="461.5" stroke="#555" stroke-width="0.4" />
<line x1="235" y1="463" x2="242" y2="463" stroke="#555" stroke-width="0.4" />
<line x1="235" y1="464.5" x2="242" y2="464.5" stroke="#555" stroke-width="0.4" />
<line x1="235" y1="466" x2="242" y2="466" stroke="#555" stroke-width="0.4" />
<rect x="235.5" y="452" width="5.5" height="3.5" fill="none" stroke="#444" stroke-width="0.5" />
<rect x="245.5" y="493.4" width="7" height="33.6" fill="none" stroke="#888" stroke-width="0.4" />
<line x1="245.5" y1="493.4" x2="252.5" y2="527" stroke="#888" stroke-width="0.4" />
<line x1="252.5" y1="493.4" x2="245.5" y2="527" stroke="#888" stroke-width="0.4" />
<polygon points="209.9,408.5 242.4,408.5 242.4,442.1 209.9,442.1 191.3,434.4 191.3,415.2" fill="#fff" stroke="#111" stroke-width="0.9" />
<rect x="209.9" y="403.9" width="22" height="4.4" fill="#c4c4c4" stroke="none" stroke-width="1" />
<line x1="211.5" y1="403.9" x2="211.5" y2="408.3" stroke="#fff" stroke-width="0.45" />
<line x1="213.45" y1="403.9" x2="213.45" y2="408.3" stroke="#fff" stroke-width="0.45" />
<line x1="215.4" y1="403.9" x2="215.4" y2="408.3" stroke="#fff" stroke-width="0.45" />
<line x1="217.35" y1="403.9" x2="217.35" y2="408.3" stroke="#fff" stroke-width="0.45" />
<line x1="219.3" y1="403.9" x2="219.3" y2="408.3" stroke="#fff" stroke-width="0.45" />
<line x1="221.25" y1="403.9" x2="221.25" y2="408.3" stroke="#fff" stroke-width="0.45" />
<line x1="223.2" y1="403.9" x2="223.2" y2="408.3" stroke="#fff" stroke-width="0.45" />
<line x1="225.15" y1="403.9" x2="225.15" y2="408.3" stroke="#fff" stroke-width="0.45" />
<line x1="227.1" y1="403.9" x2="227.1" y2="408.3" stroke="#fff" stroke-width="0.45" />
<line x1="229.05" y1="403.9" x2="229.05" y2="408.3" stroke="#fff" stroke-width="0.45" />
<line x1="231" y1="403.9" x2="231" y2="408.3" stroke="#fff" stroke-width="0.45" />
<line x1="209.9" y1="406.1" x2="231.9" y2="406.1" stroke="#eee" stroke-width="0.4" />
<rect x="210.3" y="409.4" width="24.1" height="31.9" fill="#686868" stroke="none" stroke-width="1" />
<line x1="210.3" y1="411.2" x2="234.4" y2="411.2" stroke="#cfcfcf" stroke-width="0.45" />
<line x1="210.3" y1="413.3" x2="234.4" y2="413.3" stroke="#cfcfcf" stroke-width="0.45" />
<line x1="210.3" y1="415.4" x2="234.4" y2="415.4" stroke="#cfcfcf" stroke-width="0.45" />
<line x1="210.3" y1="417.5" x2="234.4" y2="417.5" stroke="#cfcfcf" stroke-width="0.45" />
<line x1="210.3" y1="419.6" x2="234.4" y2="419.6" stroke="#cfcfcf" stroke-width="0.45" />
<line x1="210.3" y1="421.7" x2="234.4" y2="421.7" stroke="#cfcfcf" stroke-width="0.45" />
<line x1="210.3" y1="423.8" x2="234.4" y2="423.8" stroke="#cfcfcf" stroke-width="0.45" />
<line x1="210.3" y1="425.9" x2="234.4" y2="425.9" stroke="#cfcfcf" stroke-width="0.45" />
<line x1="210.3" y1="428" x2="234.4" y2="428" stroke="#cfcfcf" stroke-width="0.45" />
<line x1="210.3" y1="430.1" x2="234.4" y2="430.1" stroke="#cfcfcf" stroke-width="0.45" />
<line x1="210.3" y1="432.2" x2="234.4" y2="432.2" stroke="#cfcfcf" stroke-width="0.45" />
<line x1="210.3" y1="434.3" x2="234.4" y2="434.3" stroke="#cfcfcf" stroke-width="0.45" />
<line x1="210.3" y1="436.4" x2="234.4" y2="436.4" stroke="#cfcfcf" stroke-width="0.45" />
<line x1="210.3" y1="438.5" x2="234.4" y2="438.5" stroke="#cfcfcf" stroke-width="0.45" />
<line x1="210.3" y1="440.6" x2="234.4" y2="440.6" stroke="#cfcfcf" stroke-width="0.45" />
<line x1="215.6" y1="409.4" x2="215.6" y2="441.3" stroke="#fff" stroke-width="1.0" />
<line x1="210.3" y1="416.5" x2="234.4" y2="416.5" stroke="#eee" stroke-width="1.0" />
<line x1="210.3" y1="434.2" x2="234.4" y2="434.2" stroke="#eee" stroke-width="1.0" />
<line x1="221.8" y1="409.4" x2="221.8" y2="441.3" stroke="#ddd" stroke-width="0.4" />
<line x1="228" y1="409.4" x2="228" y2="441.3" stroke="#ddd" stroke-width="0.4" />
<line x1="234.6" y1="408.5" x2="234.6" y2="442.1" stroke="#111" stroke-width="0.7" />
<line x1="234.6" y1="414.5" x2="242.4" y2="414.5" stroke="#333" stroke-width="0.6" />
<line x1="234.6" y1="436" x2="242.4" y2="436" stroke="#333" stroke-width="0.6" />
<line x1="241" y1="414.5" x2="241" y2="436" stroke="#666" stroke-width="0.4" />
<rect x="192" y="417.5" width="4" height="15.5" fill="#d8d8d8" stroke="none" stroke-width="1" />
<line x1="192" y1="418.5" x2="196" y2="418.5" stroke="#777" stroke-width="0.4" />
<line x1="192" y1="420.25" x2="196" y2="420.25" stroke="#777" stroke-width="0.4" />
<line x1="192" y1="422" x2="196" y2="422" stroke="#777" stroke-width="0.4" />
<line x1="192" y1="423.75" x2="196" y2="423.75" stroke="#777" stroke-width="0.4" />
<line x1="192" y1="425.5" x2="196" y2="425.5" stroke="#777" stroke-width="0.4" />
<line x1="192" y1="427.25" x2="196" y2="427.25" stroke="#777" stroke-width="0.4" />
<line x1="192" y1="429" x2="196" y2="429" stroke="#777" stroke-width="0.4" />
<line x1="192" y1="430.75" x2="196" y2="430.75" stroke="#777" stroke-width="0.4" />
<line x1="192" y1="432.5" x2="196" y2="432.5" stroke="#777" stroke-width="0.4" />
<line x1="196.5" y1="413.5" x2="196.5" y2="436.3" stroke="#444" stroke-width="0.5" />
<path d="M200,412 Q197.5,425 200,437.5" fill="none" stroke="#999" stroke-width="0.4" />
<line x1="208.5" y1="409" x2="208.5" y2="441.5" stroke="#666" stroke-width="0.45" />
<polyline points="260.4,509.7 260.4,526.7 287,526.7 313.5,538.5 351.1,538.5 351.1,568 300.2,568 300.2,551.8" fill="none" stroke="#111" stroke-width="1.2" stroke-linejoin="round"/>
<polyline points="260.4,512 267.8,516.4 267.8,526.7" fill="none" stroke="#111" stroke-width="0.7" />
<line x1="261.2" y1="520" x2="267" y2="520" stroke="#666" stroke-width="0.4" />
<line x1="261.2" y1="521.4" x2="267" y2="521.4" stroke="#666" stroke-width="0.4" />
<line x1="261.2" y1="522.8" x2="267" y2="522.8" stroke="#666" stroke-width="0.4" />
<line x1="261.2" y1="524.2" x2="267" y2="524.2" stroke="#666" stroke-width="0.4" />
<line x1="261.2" y1="525.6" x2="267" y2="525.6" stroke="#666" stroke-width="0.4" />
<polyline points="300.2,551.8 288.4,542.5 279.6,539.2 279.6,559.2" fill="none" stroke="#111" stroke-width="1.0" />
<line x1="300.2" y1="551.8" x2="339.3" y2="551.8" stroke="#111" stroke-width="0.9" />
<line x1="339.3" y1="538.5" x2="339.3" y2="568" stroke="#111" stroke-width="0.9" />
<line x1="320.1" y1="551.8" x2="320.1" y2="568" stroke="#111" stroke-width="0.9" />
<line x1="331.2" y1="551.8" x2="331.2" y2="568" stroke="#111" stroke-width="0.9" />
<polyline points="229.4,553.7 279.6,553.7" fill="none" stroke="#333" stroke-width="0.7" />
<polyline points="240.5,553.7 240.5,559.2 279.6,559.2" fill="none" stroke="#555" stroke-width="0.6" />
<line x1="260.4" y1="553.7" x2="260.4" y2="559.2" stroke="#555" stroke-width="0.5" />
<rect x="246.5" y="552.8" width="9" height="1.8" fill="#fff" stroke="#777" stroke-width="0.35" />
<rect x="246.5" y="558.3" width="9" height="1.8" fill="#fff" stroke="#777" stroke-width="0.35" />
<polygon points="287.88,528.41 292.45,530.44 289.68,536.65 285.12,534.62" fill="#fff" stroke="#222" stroke-width="0.6" />
<polygon points="288.39,529.73 290.95,530.87 288.99,535.25 286.44,534.11" fill="#666" stroke="none" stroke-width="1" />
<polygon points="294.28,531.25 298.84,533.29 296.08,539.5 291.51,537.46" fill="#fff" stroke="#222" stroke-width="0.6" />
<polygon points="294.78,532.57 297.34,533.71 295.39,538.1 292.83,536.96" fill="#666" stroke="none" stroke-width="1" />
<polygon points="300.67,534.1 305.24,536.13 302.47,542.35 297.91,540.31" fill="#fff" stroke="#222" stroke-width="0.6" />
<polygon points="301.18,535.42 303.74,536.56 301.78,540.94 299.23,539.81" fill="#666" stroke="none" stroke-width="1" />
<polygon points="306.61,536.74 310.72,538.57 307.95,544.79 303.84,542.96" fill="#fff" stroke="#222" stroke-width="0.6" />
<polygon points="307.12,538.06 309.22,539 307.26,543.38 305.16,542.45" fill="#666" stroke="none" stroke-width="1" />
<polyline points="283.14,535.38 307.8,546.36" fill="none" stroke="#111" stroke-width="0.8" />
<rect x="321.6" y="538.9" width="17" height="5.5" fill="#ddd" stroke="#777" stroke-width="0.4" />
<line x1="322.5" y1="538.9" x2="322.5" y2="544.4" stroke="#777" stroke-width="0.4" />
<line x1="323.85" y1="538.9" x2="323.85" y2="544.4" stroke="#777" stroke-width="0.4" />
<line x1="325.2" y1="538.9" x2="325.2" y2="544.4" stroke="#777" stroke-width="0.4" />
<line x1="326.55" y1="538.9" x2="326.55" y2="544.4" stroke="#777" stroke-width="0.4" />
<line x1="327.9" y1="538.9" x2="327.9" y2="544.4" stroke="#777" stroke-width="0.4" />
<line x1="329.25" y1="538.9" x2="329.25" y2="544.4" stroke="#777" stroke-width="0.4" />
<line x1="330.6" y1="538.9" x2="330.6" y2="544.4" stroke="#777" stroke-width="0.4" />
<line x1="331.95" y1="538.9" x2="331.95" y2="544.4" stroke="#777" stroke-width="0.4" />
<line x1="333.3" y1="538.9" x2="333.3" y2="544.4" stroke="#777" stroke-width="0.4" />
<line x1="334.65" y1="538.9" x2="334.65" y2="544.4" stroke="#777" stroke-width="0.4" />
<line x1="336" y1="538.9" x2="336" y2="544.4" stroke="#777" stroke-width="0.4" />
<line x1="337.35" y1="538.9" x2="337.35" y2="544.4" stroke="#777" stroke-width="0.4" />
<polygon points="340.6,402.3 350.4,402.3 350.4,445 351.8,446.4 349,455.7 334.9,455.7 335.5,449" fill="#e6e6e6" stroke="none" stroke-width="1" />
<line x1="341.6" y1="403" x2="341.6" y2="418" stroke="#bcbcbc" stroke-width="0.4" />
<line x1="342.85" y1="403" x2="342.85" y2="418" stroke="#bcbcbc" stroke-width="0.4" />
<line x1="344.1" y1="403" x2="344.1" y2="418" stroke="#bcbcbc" stroke-width="0.4" />
<line x1="345.35" y1="403" x2="345.35" y2="418" stroke="#bcbcbc" stroke-width="0.4" />
<line x1="346.6" y1="403" x2="346.6" y2="418" stroke="#bcbcbc" stroke-width="0.4" />
<line x1="347.85" y1="403" x2="347.85" y2="418" stroke="#bcbcbc" stroke-width="0.4" />
<line x1="349.1" y1="403" x2="349.1" y2="418" stroke="#bcbcbc" stroke-width="0.4" />
<line x1="350.35" y1="403" x2="350.35" y2="418" stroke="#bcbcbc" stroke-width="0.4" />
<line x1="344" y1="418" x2="344" y2="440" stroke="#c8c8c8" stroke-width="0.5" />
<line x1="345.5" y1="418" x2="345.5" y2="440" stroke="#c8c8c8" stroke-width="0.5" />
<line x1="347" y1="418" x2="347" y2="440" stroke="#c8c8c8" stroke-width="0.5" />
<line x1="348.5" y1="418" x2="348.5" y2="440" stroke="#c8c8c8" stroke-width="0.5" />
<line x1="350" y1="418" x2="350" y2="440" stroke="#c8c8c8" stroke-width="0.5" />
<polygon points="335.8,439.7 351.8,446.4 349,455.7 334.9,455.7" fill="#d2d2d2" stroke="none" stroke-width="1" />
<line x1="335" y1="455.7" x2="336" y2="440" stroke="#a8a8a8" stroke-width="0.35" />
<line x1="336.27" y1="455.7" x2="337.41" y2="440.58" stroke="#a8a8a8" stroke-width="0.35" />
<line x1="337.55" y1="455.7" x2="338.82" y2="441.16" stroke="#a8a8a8" stroke-width="0.35" />
<line x1="338.82" y1="455.7" x2="340.23" y2="441.75" stroke="#a8a8a8" stroke-width="0.35" />
<line x1="340.09" y1="455.7" x2="341.64" y2="442.33" stroke="#a8a8a8" stroke-width="0.35" />
<line x1="341.36" y1="455.7" x2="343.05" y2="442.91" stroke="#a8a8a8" stroke-width="0.35" />
<line x1="342.64" y1="455.7" x2="344.45" y2="443.49" stroke="#a8a8a8" stroke-width="0.35" />
<line x1="343.91" y1="455.7" x2="345.86" y2="444.07" stroke="#a8a8a8" stroke-width="0.35" />
<line x1="345.18" y1="455.7" x2="347.27" y2="444.65" stroke="#a8a8a8" stroke-width="0.35" />
<line x1="346.45" y1="455.7" x2="348.68" y2="445.24" stroke="#a8a8a8" stroke-width="0.35" />
<line x1="347.73" y1="455.7" x2="350.09" y2="445.82" stroke="#a8a8a8" stroke-width="0.35" />
<line x1="349" y1="455.7" x2="351.5" y2="446.4" stroke="#a8a8a8" stroke-width="0.35" />
<path d="M337,457 L330.5,491.5 L335.8,523.3 L324,532.6 L324,538.5" fill="none" stroke="#cdcdcd" stroke-width="3.6" stroke-opacity="0.75" stroke-linejoin="round"/>
<path d="M337,457 L330.5,491.5 L335.8,523.3 L324,532.6 L324,538.5" fill="none" stroke="#b0b0b0" stroke-width="3.2" stroke-dasharray="0.5 1.1" stroke-opacity="0.8" stroke-linejoin="round"/>
<circle cx="91.25" cy="384.7" r="0.85" fill="#111" stroke="none" stroke-width="1" />
<circle cx="89.05" cy="397.8" r="0.85" fill="#111" stroke="none" stroke-width="1" />
<circle cx="88.01" cy="404" r="0.85" fill="#111" stroke="none" stroke-width="1" />
<circle cx="91.25" cy="417.5" r="0.85" fill="#111" stroke="none" stroke-width="1" />
<circle cx="105.3" cy="384.7" r="0.85" fill="#111" stroke="none" stroke-width="1" />
<circle cx="105.3" cy="397.8" r="0.85" fill="#111" stroke="none" stroke-width="1" />
<circle cx="105.3" cy="404" r="0.85" fill="#111" stroke="none" stroke-width="1" />
<circle cx="105.3" cy="417.5" r="0.85" fill="#111" stroke="none" stroke-width="1" />
<circle cx="119.4" cy="384.7" r="0.85" fill="#111" stroke="none" stroke-width="1" />
<circle cx="119.4" cy="397.8" r="0.85" fill="#111" stroke="none" stroke-width="1" />
<circle cx="119.4" cy="404" r="0.85" fill="#111" stroke="none" stroke-width="1" />
<circle cx="119.4" cy="417.5" r="0.85" fill="#111" stroke="none" stroke-width="1" />
<circle cx="134.4" cy="384.7" r="0.85" fill="#111" stroke="none" stroke-width="1" />
<circle cx="134.4" cy="397.8" r="0.85" fill="#111" stroke="none" stroke-width="1" />
<circle cx="134.4" cy="404" r="0.85" fill="#111" stroke="none" stroke-width="1" />
<circle cx="134.4" cy="417.5" r="0.85" fill="#111" stroke="none" stroke-width="1" />
<circle cx="147.5" cy="384.7" r="0.85" fill="#111" stroke="none" stroke-width="1" />
<circle cx="147.5" cy="397.8" r="0.85" fill="#111" stroke="none" stroke-width="1" />
<circle cx="147.5" cy="404" r="0.85" fill="#111" stroke="none" stroke-width="1" />
<circle cx="147.5" cy="417.5" r="0.85" fill="#111" stroke="none" stroke-width="1" />
<circle cx="161.17" cy="375.77" r="0.85" fill="#111" stroke="none" stroke-width="1" />
<circle cx="169.46" cy="388.02" r="0.85" fill="#111" stroke="none" stroke-width="1" />
<circle cx="184.27" cy="360.14" r="0.85" fill="#111" stroke="none" stroke-width="1" />
<circle cx="192.56" cy="372.4" r="0.85" fill="#111" stroke="none" stroke-width="1" />
<circle cx="192.88" cy="354.32" r="0.85" fill="#111" stroke="none" stroke-width="1" />
<circle cx="172.6" cy="368.04" r="0.85" fill="#111" stroke="none" stroke-width="1" />
<circle cx="167.2" cy="394.86" r="0.85" fill="#111" stroke="none" stroke-width="1" />
<circle cx="175.27" cy="406.78" r="0.85" fill="#111" stroke="none" stroke-width="1" />
<circle cx="176.73" cy="388.42" r="0.85" fill="#111" stroke="none" stroke-width="1" />
<circle cx="184.79" cy="400.34" r="0.85" fill="#111" stroke="none" stroke-width="1" />
<circle cx="199.08" cy="373.3" r="0.85" fill="#111" stroke="none" stroke-width="1" />
<circle cx="207.15" cy="385.22" r="0.85" fill="#111" stroke="none" stroke-width="1" />
<circle cx="207.78" cy="367.42" r="0.85" fill="#111" stroke="none" stroke-width="1" />
<circle cx="215.84" cy="379.34" r="0.85" fill="#111" stroke="none" stroke-width="1" />
<circle cx="187.9" cy="380.86" r="0.85" fill="#111" stroke="none" stroke-width="1" />
<circle cx="195.97" cy="392.78" r="0.85" fill="#111" stroke="none" stroke-width="1" />
<circle cx="224.26" cy="350.82" r="0.85" fill="#111" stroke="none" stroke-width="1" />
<circle cx="218.61" cy="360.83" r="0.85" fill="#111" stroke="none" stroke-width="1" />
<circle cx="234.71" cy="356.71" r="0.85" fill="#111" stroke="none" stroke-width="1" />
<circle cx="229.06" cy="366.73" r="0.85" fill="#111" stroke="none" stroke-width="1" />
<circle cx="245.16" cy="362.6" r="0.85" fill="#111" stroke="none" stroke-width="1" />
<circle cx="239.52" cy="372.62" r="0.85" fill="#111" stroke="none" stroke-width="1" />
<circle cx="253" cy="367.02" r="0.85" fill="#111" stroke="none" stroke-width="1" />
<circle cx="247.35" cy="377.04" r="0.85" fill="#111" stroke="none" stroke-width="1" />
<circle cx="205.5" cy="347.2" r="0.85" fill="#111" stroke="none" stroke-width="1" />
<circle cx="219.5" cy="347.6" r="0.85" fill="#111" stroke="none" stroke-width="1" />
<circle cx="203" cy="388.4" r="0.85" fill="#111" stroke="none" stroke-width="1" />
<circle cx="214" cy="384.2" r="0.85" fill="#111" stroke="none" stroke-width="1" />
<circle cx="223" cy="385.7" r="0.85" fill="#111" stroke="none" stroke-width="1" />
<circle cx="232.2" cy="389" r="0.85" fill="#111" stroke="none" stroke-width="1" />
<circle cx="242.8" cy="397" r="0.85" fill="#111" stroke="none" stroke-width="1" />
<circle cx="280.4" cy="369.5" r="0.85" fill="#111" stroke="none" stroke-width="1" />
<circle cx="280.4" cy="383.2" r="0.85" fill="#111" stroke="none" stroke-width="1" />
<circle cx="300.7" cy="369.5" r="0.85" fill="#111" stroke="none" stroke-width="1" />
<circle cx="300.7" cy="383.2" r="0.85" fill="#111" stroke="none" stroke-width="1" />
<circle cx="311.9" cy="369.5" r="0.85" fill="#111" stroke="none" stroke-width="1" />
<circle cx="311.9" cy="383.2" r="0.85" fill="#111" stroke="none" stroke-width="1" />
<circle cx="320.4" cy="369.5" r="0.85" fill="#111" stroke="none" stroke-width="1" />
<circle cx="320.4" cy="383.2" r="0.85" fill="#111" stroke="none" stroke-width="1" />
<circle cx="280.4" cy="388.1" r="0.85" fill="#111" stroke="none" stroke-width="1" />
<circle cx="280.4" cy="402.3" r="0.85" fill="#111" stroke="none" stroke-width="1" />
<circle cx="290.6" cy="388.1" r="0.85" fill="#111" stroke="none" stroke-width="1" />
<circle cx="290.6" cy="402.3" r="0.85" fill="#111" stroke="none" stroke-width="1" />
<circle cx="300.7" cy="388.1" r="0.85" fill="#111" stroke="none" stroke-width="1" />
<circle cx="300.7" cy="402.3" r="0.85" fill="#111" stroke="none" stroke-width="1" />
<circle cx="320.4" cy="388.1" r="0.85" fill="#111" stroke="none" stroke-width="1" />
<circle cx="320.4" cy="402.3" r="0.85" fill="#111" stroke="none" stroke-width="1" />
<circle cx="330" cy="388.1" r="0.85" fill="#111" stroke="none" stroke-width="1" />
<circle cx="330" cy="402.3" r="0.85" fill="#111" stroke="none" stroke-width="1" />
<circle cx="260.9" cy="369.5" r="0.85" fill="#111" stroke="none" stroke-width="1" />
<circle cx="260.9" cy="383.2" r="0.85" fill="#111" stroke="none" stroke-width="1" />
<circle cx="260.9" cy="388.1" r="0.85" fill="#111" stroke="none" stroke-width="1" />
<circle cx="260.9" cy="402.3" r="0.85" fill="#111" stroke="none" stroke-width="1" />
<circle cx="340.6" cy="369.5" r="0.85" fill="#111" stroke="none" stroke-width="1" />
<circle cx="340.6" cy="383.2" r="0.85" fill="#111" stroke="none" stroke-width="1" />
<circle cx="340.6" cy="388.1" r="0.85" fill="#111" stroke="none" stroke-width="1" />
<circle cx="340.6" cy="402.3" r="0.85" fill="#111" stroke="none" stroke-width="1" />
<circle cx="260.9" cy="416" r="0.85" fill="#111" stroke="none" stroke-width="1" />
<circle cx="322.9" cy="416" r="0.85" fill="#111" stroke="none" stroke-width="1" />
<circle cx="260.9" cy="430" r="0.85" fill="#111" stroke="none" stroke-width="1" />
<circle cx="322.9" cy="430" r="0.85" fill="#111" stroke="none" stroke-width="1" />
<circle cx="260.9" cy="443" r="0.85" fill="#111" stroke="none" stroke-width="1" />
<circle cx="322.9" cy="443" r="0.85" fill="#111" stroke="none" stroke-width="1" />
<circle cx="260.5" cy="462" r="0.85" fill="#111" stroke="none" stroke-width="1" />
<circle cx="280.4" cy="462" r="0.85" fill="#111" stroke="none" stroke-width="1" />
<circle cx="301.3" cy="462" r="0.85" fill="#111" stroke="none" stroke-width="1" />
<circle cx="260.5" cy="477.9" r="0.85" fill="#111" stroke="none" stroke-width="1" />
<circle cx="280.4" cy="477.9" r="0.85" fill="#111" stroke="none" stroke-width="1" />
<circle cx="301.3" cy="477.9" r="0.85" fill="#111" stroke="none" stroke-width="1" />
<circle cx="327" cy="466.9" r="0.85" fill="#111" stroke="none" stroke-width="1" />
<circle cx="327" cy="475" r="0.85" fill="#111" stroke="none" stroke-width="1" />
<circle cx="327" cy="483.5" r="0.85" fill="#111" stroke="none" stroke-width="1" />
<circle cx="340" cy="466.9" r="0.85" fill="#111" stroke="none" stroke-width="1" />
<circle cx="340" cy="475" r="0.85" fill="#111" stroke="none" stroke-width="1" />
<circle cx="340" cy="483.5" r="0.85" fill="#111" stroke="none" stroke-width="1" />
<circle cx="242.6" cy="452" r="0.85" fill="#111" stroke="none" stroke-width="1" />
<circle cx="242.6" cy="468.6" r="0.85" fill="#111" stroke="none" stroke-width="1" />
<circle cx="242.6" cy="478.5" r="0.85" fill="#111" stroke="none" stroke-width="1" />
<circle cx="209.9" cy="408.5" r="0.85" fill="#111" stroke="none" stroke-width="1" />
<circle cx="222" cy="408.5" r="0.85" fill="#111" stroke="none" stroke-width="1" />
<circle cx="234.6" cy="408.5" r="0.85" fill="#111" stroke="none" stroke-width="1" />
<circle cx="242.4" cy="408.5" r="0.85" fill="#111" stroke="none" stroke-width="1" />
<circle cx="209.9" cy="442.1" r="0.85" fill="#111" stroke="none" stroke-width="1" />
<circle cx="222" cy="442.1" r="0.85" fill="#111" stroke="none" stroke-width="1" />
<circle cx="234.6" cy="442.1" r="0.85" fill="#111" stroke="none" stroke-width="1" />
<circle cx="242.4" cy="442.1" r="0.85" fill="#111" stroke="none" stroke-width="1" />
<circle cx="191.3" cy="415.2" r="0.85" fill="#111" stroke="none" stroke-width="1" />
<circle cx="191.3" cy="434.4" r="0.85" fill="#111" stroke="none" stroke-width="1" />
<circle cx="197" cy="425" r="0.85" fill="#111" stroke="none" stroke-width="1" />
<circle cx="234.6" cy="420" r="0.85" fill="#111" stroke="none" stroke-width="1" />
<circle cx="234.6" cy="431" r="0.85" fill="#111" stroke="none" stroke-width="1" />
<circle cx="242.4" cy="420" r="0.85" fill="#111" stroke="none" stroke-width="1" />
<circle cx="242.4" cy="431" r="0.85" fill="#111" stroke="none" stroke-width="1" />
<circle cx="320.1" cy="551.8" r="0.85" fill="#111" stroke="none" stroke-width="1" />
<circle cx="320.1" cy="568" r="0.85" fill="#111" stroke="none" stroke-width="1" />
<circle cx="331.2" cy="551.8" r="0.85" fill="#111" stroke="none" stroke-width="1" />
<circle cx="331.2" cy="568" r="0.85" fill="#111" stroke="none" stroke-width="1" />
<circle cx="300.2" cy="551.8" r="0.85" fill="#111" stroke="none" stroke-width="1" />
<circle cx="300.2" cy="568" r="0.85" fill="#111" stroke="none" stroke-width="1" />
<circle cx="339.3" cy="551.8" r="0.85" fill="#111" stroke="none" stroke-width="1" />
<circle cx="339.3" cy="568" r="0.85" fill="#111" stroke="none" stroke-width="1" />
<circle cx="339.3" cy="545" r="0.85" fill="#111" stroke="none" stroke-width="1" />
<circle cx="260.4" cy="526.7" r="0.85" fill="#111" stroke="none" stroke-width="1" />
<circle cx="279.6" cy="526.7" r="0.85" fill="#111" stroke="none" stroke-width="1" />
<circle cx="260.4" cy="540" r="0.85" fill="#111" stroke="none" stroke-width="1" />
<circle cx="279.6" cy="539.2" r="0.85" fill="#111" stroke="none" stroke-width="1" />
<circle cx="288.4" cy="542.5" r="0.85" fill="#111" stroke="none" stroke-width="1" />
<circle cx="260.4" cy="553.7" r="0.85" fill="#111" stroke="none" stroke-width="1" />
<circle cx="279.6" cy="553.7" r="0.85" fill="#111" stroke="none" stroke-width="1" />
<circle cx="242" cy="553.7" r="0.85" fill="#111" stroke="none" stroke-width="1" />
<circle cx="303" cy="568.6" r="0.85" fill="#111" stroke="none" stroke-width="1" />
</g>
<g id="part_bldC">
<ellipse cx="163.7" cy="515.3" rx="80.5" ry="65.7" fill="#fff" stroke="none" stroke-width="1" />
<polygon points="165.16,445.81 168.3,445.91 171.44,446.1 174.57,446.39 177.68,446.77 180.77,447.26 183.83,447.84 186.87,448.51 189.87,449.28 192.84,450.14 195.77,451.09 198.65,452.13 201.48,453.27 204.26,454.48 206.99,455.79 209.65,457.18 212.24,458.65 214.77,460.2 217.23,461.83 219.61,463.53 221.91,465.31 219.62,468.04 217.41,466.36 215.12,464.75 212.76,463.21 210.33,461.75 207.84,460.36 205.28,459.04 202.67,457.81 200,456.66 197.27,455.59 194.51,454.6 191.69,453.7 188.84,452.89 185.96,452.16 183.04,451.52 180.09,450.98 177.12,450.52 174.14,450.15 171.14,449.88 168.12,449.7 165.1,449.61" fill="#fff" stroke="none" stroke-width="1" />
<ellipse cx="163.6" cy="514.3" rx="55.8" ry="38.7" fill="#ececec" stroke="#555" stroke-width="0.7" />
<ellipse cx="163.6" cy="514.3" rx="53.6" ry="36.5" fill="none" stroke="#aaa" stroke-width="0.4" stroke-dasharray="3 1.5"/>
<circle cx="131.7" cy="517.3" r="22" fill="#cfcfcf" stroke="#b5b5b5" stroke-width="0.5" />
<ellipse cx="180.8" cy="497.9" rx="16.6" ry="13.3" fill="#cdcdcd" stroke="#b5b5b5" stroke-width="0.5" transform="rotate(20 180.8 497.9)" />
<ellipse cx="151.6" cy="490.7" rx="6" ry="9" fill="#d4d4d4" stroke="#b5b5b5" stroke-width="0.5" transform="rotate(-25 151.6 490.7)" />
<ellipse cx="172.9" cy="526" rx="12.5" ry="13.5" fill="#d6d6d6" stroke="#b5b5b5" stroke-width="0.5" transform="rotate(-20 172.9 526)" />
<ellipse cx="200" cy="522.6" rx="8.5" ry="5" fill="#d2d2d2" stroke="#b5b5b5" stroke-width="0.5" />
<ellipse cx="157.5" cy="542" rx="6" ry="8.5" fill="#d4d4d4" stroke="#b5b5b5" stroke-width="0.5" transform="rotate(15 157.5 542)" />
<polyline points="84.96,501.64 85.67,499.15 86.5,496.68 87.45,494.24 88.51,491.83 89.69,489.45 90.98,487.12 92.38,484.83 93.89,482.58 95.51,480.39 97.23,478.24 99.05,476.16 100.96,474.13 102.98,472.17 105.08,470.27 107.28,468.44 109.56,466.68 111.92,465 114.36,463.39 116.88,461.86 119.46,460.41 122.12,459.04 124.84,457.76 127.61,456.57 130.45,455.47 133.33,454.46 136.26,453.54 139.23,452.71 142.23,451.98 145.27,451.34 148.34,450.81 151.43,450.37 154.54,450.03 157.66,449.78 160.8,449.64 163.93,449.6 167.07,449.66 170.2,449.81 173.32,450.07 176.43,450.43 179.52,450.88 182.58,451.43 185.62,452.08 188.62,452.83 191.58,453.67 194.51,454.6 197.38,455.63 200.2,456.74 202.97,457.95 205.68,459.24 208.33,460.62 210.9,462.08 213.41,463.62 215.84,465.24 218.19,466.94 220.46,468.71 222.64,470.55 224.73,472.46 226.73,474.43 228.63,476.47 230.44,478.56 232.14,480.71 233.74,482.91 235.23,485.17 236.62,487.46 237.89,489.8 239.05,492.18 240.1,494.6 241.03,497.04 241.84,499.52 242.54,502.01 243.11,504.53 243.57,507.07 243.9,509.61 244.11,512.17 244.2,514.73 244.16,517.29 244.01,519.84 243.73,522.4 243.33,524.94 242.81,527.46 242.17,529.97 241.41,532.45 240.53,534.91 239.54,537.34 238.43,539.73 237.2,542.09 235.87,544.41 234.42,546.68 232.87,548.91 231.21,551.08 229.45,553.2 227.59,555.27 225.64,557.27 223.59,559.21 221.44,561.08 219.21,562.88 216.9,564.61 214.51,566.26 212.03,567.84 209.49,569.34 206.87,570.75 204.19,572.08 201.45,573.33 198.65,574.48 195.8,575.55 192.9,576.53 189.95,577.41 186.97,578.2 183.95,578.89 180.89,579.48 177.82,579.98 174.72,580.38 171.6,580.68 168.47,580.88 165.34,580.99 162.2,580.99 159.07,580.89 155.94,580.69 152.82,580.4 149.72,580" fill="none" stroke="#111" stroke-width="1.25" />
<polyline points="149.72,580 146.87,579.55 144.04,579.01 141.24,578.39 138.47,577.69 135.73,576.91 133.02,576.04 130.36,575.1 127.74,574.08 125.17,572.98 122.64,571.81 120.17,570.57 117.76,569.25 115.4,567.86 113.11,566.41 110.89,564.88 108.73,563.3 106.65,561.65 104.63,559.94 102.7,558.17 100.85,556.35 99.07,554.47 97.38,552.54 95.78,550.57 94.27,548.55 92.84,546.48 91.51,544.38 90.27,542.23 89.13,540.05 88.09,537.84 87.14,535.6" fill="none" stroke="#333" stroke-width="0.7" />
<polygon points="84.96,501.64 80.26,502.19 79.67,504.95 79.22,507.72 78.91,510.51 78.74,513.3 78.71,516.1 78.82,518.9 79.07,521.69 79.46,524.47 79.99,527.23 80.66,529.97 81.47,532.69 82.41,535.39 87.14,535.6" fill="#fff" stroke="none" stroke-width="1" />
<polyline points="84.96,501.64 80.26,502.19 79.67,504.95 79.22,507.72 78.91,510.51 78.74,513.3 78.71,516.1 78.82,518.9 79.07,521.69 79.46,524.47 79.99,527.23 80.66,529.97 81.47,532.69 82.41,535.39 87.14,535.6" fill="none" stroke="#111" stroke-width="1.3" />
<polyline points="165.1,449.61 165.16,445.81 167.78,445.88 170.4,446.02 173,446.23 175.6,446.5 178.19,446.85 180.77,447.26 183.32,447.73 185.86,448.27 188.38,448.88 190.87,449.55 193.33,450.29 195.77,451.09 198.17,451.95 200.55,452.88 202.88,453.86 205.18,454.91 207.43,456.02 209.65,457.18 211.82,458.4 213.94,459.67 216.01,461 218.03,462.39 220,463.82 221.91,465.31 218.94,466.88" fill="none" stroke="#111" stroke-width="1.3" />
<polyline points="90.87,480.65 92.3,478.68 93.81,476.75 95.4,474.86 97.07,473.02 98.81,471.22 100.62,469.47 102.49,467.77 104.44,466.13 106.45,464.53 108.53,463 110.66,461.52 112.85,460.1 115.1,458.74 117.4,457.45 119.76,456.21 122.16,455.04 124.61,453.94 127.1,452.91 129.63,451.94 132.2,451.05 134.8,450.22 137.43,449.47 140.1,448.79 142.79,448.18 145.5,447.64 148.23,447.18 150.98,446.8 153.74,446.49 156.52,446.25 159.3,446.09" fill="none" stroke="#999" stroke-width="0.4" />
<polygon points="114.38,459.4 119.86,456.38 120.8,457.92 115.44,460.85" fill="#fff" stroke="#777" stroke-width="0.35" />
<polygon points="122.39,455.16 128.24,452.67 129,454.31 123.27,456.73" fill="#fff" stroke="#777" stroke-width="0.35" />
<polygon points="130.92,451.69 137.08,449.77 137.65,451.48 131.62,453.35" fill="#fff" stroke="#777" stroke-width="0.35" />
<polygon points="139.87,449.05 146.26,447.71 146.63,449.47 140.38,450.77" fill="#fff" stroke="#777" stroke-width="0.35" />
<polygon points="149.13,447.25 155.66,446.52 155.83,448.31 149.44,449.02" fill="#fff" stroke="#777" stroke-width="0.35" />
<polyline points="92.1,507.14 92.57,504.78 93.16,502.43 93.87,500.1 94.7,497.8 95.64,495.53 96.69,493.29 97.86,491.09 99.13,488.93 100.52,486.81 102.01,484.74 103.6,482.73 105.29,480.76 107.08,478.85 108.97,477.01 110.95,475.23 113.01,473.51 115.16,471.87 117.39,470.3 119.7,468.8 122.08,467.38 124.53,466.04 127.05,464.79 129.63,463.61 132.27,462.53 134.95,461.53 137.69,460.62 140.47,459.81 143.29,459.08 146.14,458.45 149.02,457.92 151.93,457.48 154.85,457.14 157.79,456.9 160.74,456.75 163.7,456.7 166.66,456.75 169.61,456.9 172.55,457.14 175.47,457.48 178.38,457.92 181.26,458.45 184.11,459.08 186.93,459.81 189.71,460.62 192.45,461.53 195.13,462.53 197.77,463.61 200.35,464.79 202.87,466.04 205.32,467.38 207.7,468.8 210.01,470.3 212.24,471.87 214.39,473.51 216.45,475.23 218.43,477.01 220.32,478.85 222.11,480.76 223.8,482.73 225.39,484.74 226.88,486.81 228.27,488.93 229.54,491.09 230.71,493.29 231.76,495.53 232.7,497.8 233.53,500.1 234.24,502.43 234.83,504.78 235.3,507.14" fill="none" stroke="#111" stroke-width="1.1" />
<polyline points="108.01,517.67 107.83,515.54 107.82,513.4 107.97,511.26 108.3,509.14 108.79,507.03 109.46,504.94 110.29,502.88 111.28,500.85 112.43,498.87 113.74,496.93 115.19,495.05 116.8,493.22 118.55,491.46 120.44,489.77 122.46,488.15 124.61,486.62 126.87,485.17 129.25,483.8 131.73,482.53 134.31,481.36 136.97,480.29 139.72,479.32 142.55,478.46 145.43,477.71 148.38,477.07 151.36,476.54 154.39,476.13 157.44,475.84 160.52,475.66 163.6,475.6 166.68,475.66 169.76,475.84 172.81,476.13 175.84,476.54 178.82,477.07 181.77,477.71 184.65,478.46 187.48,479.32 190.23,480.29 192.89,481.36 195.47,482.53 197.95,483.8 200.33,485.17 202.59,486.62 204.74,488.15 206.76,489.77 208.65,491.46 210.4,493.22 212.01,495.05 213.46,496.93 214.77,498.87 215.92,500.85 216.91,502.88 217.74,504.94 218.41,507.03 218.9,509.14 219.23,511.26 219.38,513.4 219.37,515.54 219.19,517.67" fill="none" stroke="#222" stroke-width="0.8" />
<line x1="121.7" y1="468.3" x2="130.8" y2="483.3" stroke="#111" stroke-width="0.9" />
<line x1="143.3" y1="460.5" x2="147.5" y2="476.3" stroke="#111" stroke-width="0.9" />
<line x1="163.3" y1="456.7" x2="164.2" y2="475.6" stroke="#111" stroke-width="0.9" />
<line x1="185" y1="460.6" x2="181.7" y2="476.2" stroke="#111" stroke-width="0.9" />
<line x1="206.7" y1="468.3" x2="198.3" y2="483.3" stroke="#111" stroke-width="0.9" />
<line x1="223.3" y1="482" x2="212.5" y2="494" stroke="#111" stroke-width="0.9" />
<line x1="237.5" y1="503.3" x2="219.4" y2="507.2" stroke="#111" stroke-width="0.9" />
<line x1="105.8" y1="482" x2="116.7" y2="494" stroke="#111" stroke-width="0.9" />
<line x1="91.7" y1="503.3" x2="109.1" y2="507.2" stroke="#111" stroke-width="0.9" />
<rect x="104.65" y="478.28" width="11" height="1.8" fill="#fff" stroke="#222" stroke-width="0.5" transform="rotate(-44.01 110.15 479.18)"/>
<rect x="132.01" y="462.29" width="11" height="1.8" fill="#fff" stroke="#222" stroke-width="0.5" transform="rotate(-18.13 137.51 463.19)"/>
<rect x="184.39" y="462.29" width="11" height="1.8" fill="#fff" stroke="#222" stroke-width="0.5" transform="rotate(18.13 189.89 463.19)"/>
<rect x="213.28" y="479.8" width="11" height="1.8" fill="#fff" stroke="#222" stroke-width="0.5" transform="rotate(46.05 218.78 480.7)"/>
<polyline points="109.1,507.2 114.4,531.9 88,536" fill="none" stroke="#111" stroke-width="0.8" />
<path d="M85.2,514.6 L102.5,526.5 M102.5,514.6 L85.2,526.5" stroke="#999" stroke-width="0.4" stroke-dasharray="2 1"/>
<rect x="85.2" y="514.6" width="17.3" height="11.9" fill="none" stroke="#aaa" stroke-width="0.4" stroke-dasharray="2 1"/>
<polygon points="90.5,538.5 102.5,535 107,545 95,549.5" fill="none" stroke="#111" stroke-width="0.8" />
<line x1="96.5" y1="536.8" x2="101" y2="547.3" stroke="#111" stroke-width="0.6" />
<line x1="97.8" y1="540.5" x2="99.5" y2="544.5" stroke="#333" stroke-width="0.45" />
<line x1="99.1" y1="540.8" x2="100.8" y2="544.8" stroke="#333" stroke-width="0.45" />
<line x1="100.4" y1="541.1" x2="102.1" y2="545.1" stroke="#333" stroke-width="0.45" />
<line x1="101.7" y1="541.4" x2="103.4" y2="545.4" stroke="#333" stroke-width="0.45" />
<polyline points="95,549.5 100.5,558 114.8,549.5 107,545" fill="none" stroke="#111" stroke-width="0.8" />
<polyline points="221.2,529.42 219.99,531.64 218.6,533.81 217.06,535.93 215.36,537.98 213.51,539.97 211.51,541.88 209.37,543.7 207.1,545.44 204.7,547.1 202.18,548.65 199.54,550.1 196.81,551.45 193.97,552.69 191.05,553.82 188.04,554.83 184.97,555.73 181.83,556.5 178.64,557.15 175.4,557.67 172.13,558.07 168.84,558.34 165.53,558.48 162.21,558.49 158.9,558.37 155.6,558.12 152.32,557.75 149.08,557.24 145.88,556.61 142.73,555.86 139.65,554.99 136.63,553.99 133.69,552.88 130.84,551.66 128.09,550.33 125.44,548.89 122.9,547.35 120.48,545.72 118.19,543.99 116.03,542.18 114.01,540.28 112.13,538.31 110.41,536.27 108.84,534.16 107.43,532 106.18,529.78 105.11,527.52 104.2,525.22 103.47,522.89 102.91,520.53 102.53,518.15" fill="none" stroke="#333" stroke-width="0.6" />
<polyline points="158.52,555.34 156.33,555.18 154.15,554.95 151.98,554.67 149.83,554.33 147.69,553.94 145.58,553.48 143.5,552.97 141.45,552.41 139.42,551.79 137.44,551.12 135.48,550.39 133.57,549.62 131.71,548.79 129.88,547.91 128.11,546.99 126.39,546.01 124.72,545 123.1,543.94 121.54,542.83 120.05,541.69 118.61,540.51 117.24,539.29 115.94,538.03 114.71,536.74 113.54,535.42 112.45,534.06 111.43,532.68 110.48,531.28 109.61,529.84 108.82,528.39" fill="none" stroke="#777" stroke-width="0.4" stroke-dasharray="3 1.5"/>
<line x1="145" y1="555.8" x2="141" y2="577.8" stroke="#111" stroke-width="0.9" />
<line x1="154.3" y1="556.5" x2="154.3" y2="580.5" stroke="#111" stroke-width="0.9" />
<line x1="163.6" y1="557.5" x2="163.6" y2="581" stroke="#111" stroke-width="0.9" />
<line x1="184.8" y1="555.5" x2="187.5" y2="578.6" stroke="#111" stroke-width="0.9" />
<line x1="202" y1="551.8" x2="208.7" y2="570.5" stroke="#111" stroke-width="0.9" />
<line x1="219.5" y1="540" x2="234" y2="548" stroke="#111" stroke-width="0.9" />
<line x1="228" y1="526" x2="243.5" y2="529" stroke="#111" stroke-width="0.9" />
<polyline points="142.8,567.5 154.3,568" fill="none" stroke="#111" stroke-width="0.6" />
<rect x="187.5" y="563" width="3" height="6.5" fill="none" stroke="#222" stroke-width="0.5" />
<line x1="188.3" y1="564" x2="189.7" y2="568.5" stroke="#222" stroke-width="0.5" />
<rect x="191.5" y="563" width="3" height="6.5" fill="none" stroke="#222" stroke-width="0.5" />
<line x1="192.3" y1="564" x2="193.7" y2="568.5" stroke="#222" stroke-width="0.5" />
<rect x="195.5" y="563" width="3" height="6.5" fill="none" stroke="#222" stroke-width="0.5" />
<line x1="196.3" y1="564" x2="197.7" y2="568.5" stroke="#222" stroke-width="0.5" />
<line x1="185.5" y1="562" x2="200" y2="559" stroke="#111" stroke-width="0.6" />
<polyline points="236.12,509.45 236.3,511.38 236.39,513.33 236.39,515.27 236.3,517.22 236.12,519.15 235.86,521.09 235.5,523.01 235.06,524.93 234.53,526.83 233.92,528.72 233.22,530.59 232.43,532.43 231.56,534.26 230.61,536.06 229.58,537.84 228.47,539.59 227.27,541.3 226,542.99 224.66,544.64 223.23,546.25 221.74,547.82 220.18,549.35 218.54,550.84 216.84,552.29 215.08,553.69 213.25,555.04 211.36,556.34 209.41,557.59 207.41,558.78 205.36,559.93" fill="none" stroke="#444" stroke-width="0.5" />
<polyline points="219.4,506.6 233.5,503.5 236,516 222,519" fill="none" stroke="#111" stroke-width="0.7" />
<rect x="228.5" y="503" width="3.5" height="3.2" fill="none" stroke="#333" stroke-width="0.4" />
<circle cx="121.7" cy="468.3" r="0.8" fill="#111" stroke="none" stroke-width="1" />
<circle cx="130.8" cy="483.3" r="0.8" fill="#111" stroke="none" stroke-width="1" />
<circle cx="143.3" cy="460.5" r="0.8" fill="#111" stroke="none" stroke-width="1" />
<circle cx="147.5" cy="476.3" r="0.8" fill="#111" stroke="none" stroke-width="1" />
<circle cx="163.3" cy="456.7" r="0.8" fill="#111" stroke="none" stroke-width="1" />
<circle cx="164.2" cy="475.6" r="0.8" fill="#111" stroke="none" stroke-width="1" />
<circle cx="185" cy="460.6" r="0.8" fill="#111" stroke="none" stroke-width="1" />
<circle cx="181.7" cy="476.2" r="0.8" fill="#111" stroke="none" stroke-width="1" />
<circle cx="206.7" cy="468.3" r="0.8" fill="#111" stroke="none" stroke-width="1" />
<circle cx="198.3" cy="483.3" r="0.8" fill="#111" stroke="none" stroke-width="1" />
<circle cx="223.3" cy="482" r="0.8" fill="#111" stroke="none" stroke-width="1" />
<circle cx="212.5" cy="494" r="0.8" fill="#111" stroke="none" stroke-width="1" />
<circle cx="237.5" cy="503.3" r="0.8" fill="#111" stroke="none" stroke-width="1" />
<circle cx="219.4" cy="507.2" r="0.8" fill="#111" stroke="none" stroke-width="1" />
<circle cx="105.8" cy="482" r="0.8" fill="#111" stroke="none" stroke-width="1" />
<circle cx="116.7" cy="494" r="0.8" fill="#111" stroke="none" stroke-width="1" />
<circle cx="91.7" cy="503.3" r="0.8" fill="#111" stroke="none" stroke-width="1" />
<circle cx="109.1" cy="507.2" r="0.8" fill="#111" stroke="none" stroke-width="1" />
<circle cx="90.5" cy="538.5" r="0.8" fill="#111" stroke="none" stroke-width="1" />
<circle cx="102.5" cy="535" r="0.8" fill="#111" stroke="none" stroke-width="1" />
<circle cx="107" cy="545" r="0.8" fill="#111" stroke="none" stroke-width="1" />
<circle cx="95" cy="549.5" r="0.8" fill="#111" stroke="none" stroke-width="1" />
<circle cx="100.5" cy="558" r="0.8" fill="#111" stroke="none" stroke-width="1" />
<circle cx="114.8" cy="549.5" r="0.8" fill="#111" stroke="none" stroke-width="1" />
<circle cx="145" cy="555.8" r="0.8" fill="#111" stroke="none" stroke-width="1" />
<circle cx="141" cy="577.8" r="0.8" fill="#111" stroke="none" stroke-width="1" />
<circle cx="154.3" cy="556.5" r="0.8" fill="#111" stroke="none" stroke-width="1" />
<circle cx="154.3" cy="580.5" r="0.8" fill="#111" stroke="none" stroke-width="1" />
<circle cx="163.6" cy="557.5" r="0.8" fill="#111" stroke="none" stroke-width="1" />
<circle cx="163.6" cy="581" r="0.8" fill="#111" stroke="none" stroke-width="1" />
<circle cx="184.8" cy="555.5" r="0.8" fill="#111" stroke="none" stroke-width="1" />
<circle cx="187.5" cy="578.6" r="0.8" fill="#111" stroke="none" stroke-width="1" />
<circle cx="202" cy="551.8" r="0.8" fill="#111" stroke="none" stroke-width="1" />
<circle cx="208.7" cy="570.5" r="0.8" fill="#111" stroke="none" stroke-width="1" />
<circle cx="219.5" cy="540" r="0.8" fill="#111" stroke="none" stroke-width="1" />
<circle cx="234" cy="548" r="0.8" fill="#111" stroke="none" stroke-width="1" />
<circle cx="228" cy="526" r="0.8" fill="#111" stroke="none" stroke-width="1" />
<circle cx="243.5" cy="529" r="0.8" fill="#111" stroke="none" stroke-width="1" />
<circle cx="84.42" cy="503.89" r="0.8" fill="#111" stroke="none" stroke-width="1" />
<circle cx="89.06" cy="490.69" r="0.8" fill="#111" stroke="none" stroke-width="1" />
<circle cx="96.96" cy="478.56" r="0.8" fill="#111" stroke="none" stroke-width="1" />
<circle cx="107.78" cy="468.04" r="0.8" fill="#111" stroke="none" stroke-width="1" />
<circle cx="121.04" cy="459.58" r="0.8" fill="#111" stroke="none" stroke-width="1" />
<circle cx="136.17" cy="453.56" r="0.8" fill="#111" stroke="none" stroke-width="1" />
<circle cx="152.5" cy="450.24" r="0.8" fill="#111" stroke="none" stroke-width="1" />
<circle cx="169.32" cy="449.76" r="0.8" fill="#111" stroke="none" stroke-width="1" />
<circle cx="185.89" cy="452.15" r="0.8" fill="#111" stroke="none" stroke-width="1" />
<circle cx="201.49" cy="457.29" r="0.8" fill="#111" stroke="none" stroke-width="1" />
<circle cx="215.44" cy="464.97" r="0.8" fill="#111" stroke="none" stroke-width="1" />
<circle cx="227.13" cy="474.85" r="0.8" fill="#111" stroke="none" stroke-width="1" />
<circle cx="236.05" cy="486.5" r="0.8" fill="#111" stroke="none" stroke-width="1" />
<circle cx="241.81" cy="499.41" r="0.8" fill="#111" stroke="none" stroke-width="1" />
<circle cx="244.15" cy="513.01" r="0.8" fill="#111" stroke="none" stroke-width="1" />
<circle cx="242.98" cy="526.71" r="0.8" fill="#111" stroke="none" stroke-width="1" />
<circle cx="238.34" cy="539.91" r="0.8" fill="#111" stroke="none" stroke-width="1" />
<circle cx="230.44" cy="552.04" r="0.8" fill="#111" stroke="none" stroke-width="1" />
<circle cx="219.62" cy="562.56" r="0.8" fill="#111" stroke="none" stroke-width="1" />
<circle cx="206.36" cy="571.02" r="0.8" fill="#111" stroke="none" stroke-width="1" />
<circle cx="191.23" cy="577.04" r="0.8" fill="#111" stroke="none" stroke-width="1" />
<circle cx="174.9" cy="580.36" r="0.8" fill="#111" stroke="none" stroke-width="1" />
<circle cx="158.08" cy="580.84" r="0.8" fill="#111" stroke="none" stroke-width="1" />
<circle cx="141.51" cy="578.45" r="0.8" fill="#111" stroke="none" stroke-width="1" />
<circle cx="125.91" cy="573.31" r="0.8" fill="#111" stroke="none" stroke-width="1" />
<circle cx="111.96" cy="565.63" r="0.8" fill="#111" stroke="none" stroke-width="1" />
<circle cx="100.27" cy="555.75" r="0.8" fill="#111" stroke="none" stroke-width="1" />
<circle cx="91.35" cy="544.1" r="0.8" fill="#111" stroke="none" stroke-width="1" />
<circle cx="85.59" cy="531.19" r="0.8" fill="#111" stroke="none" stroke-width="1" />
<circle cx="83.25" cy="517.59" r="0.8" fill="#111" stroke="none" stroke-width="1" />
<circle cx="221.2" cy="529.42" r="0.8" fill="#111" stroke="none" stroke-width="1" />
<circle cx="216.14" cy="537.06" r="0.8" fill="#111" stroke="none" stroke-width="1" />
<circle cx="209.15" cy="543.88" r="0.8" fill="#111" stroke="none" stroke-width="1" />
<circle cx="200.49" cy="549.6" r="0.8" fill="#111" stroke="none" stroke-width="1" />
<circle cx="190.47" cy="554.03" r="0.8" fill="#111" stroke="none" stroke-width="1" />
<circle cx="179.47" cy="556.99" r="0.8" fill="#111" stroke="none" stroke-width="1" />
<circle cx="167.88" cy="558.39" r="0.8" fill="#111" stroke="none" stroke-width="1" />
<circle cx="156.13" cy="558.17" r="0.8" fill="#111" stroke="none" stroke-width="1" />
<circle cx="144.66" cy="556.34" r="0.8" fill="#111" stroke="none" stroke-width="1" />
<circle cx="133.88" cy="552.96" r="0.8" fill="#111" stroke="none" stroke-width="1" />
<circle cx="124.2" cy="548.16" r="0.8" fill="#111" stroke="none" stroke-width="1" />
<circle cx="115.96" cy="542.12" r="0.8" fill="#111" stroke="none" stroke-width="1" />
<circle cx="109.48" cy="535.05" r="0.8" fill="#111" stroke="none" stroke-width="1" />
<circle cx="104.98" cy="527.22" r="0.8" fill="#111" stroke="none" stroke-width="1" />
<circle cx="102.64" cy="518.92" r="0.8" fill="#111" stroke="none" stroke-width="1" />
<circle cx="93.86" cy="500.13" r="0.8" fill="#111" stroke="none" stroke-width="1" />
<circle cx="100.46" cy="486.89" r="0.8" fill="#111" stroke="none" stroke-width="1" />
<circle cx="110.82" cy="475.33" r="0.8" fill="#111" stroke="none" stroke-width="1" />
<circle cx="124.32" cy="466.15" r="0.8" fill="#111" stroke="none" stroke-width="1" />
<circle cx="140.16" cy="459.89" r="0.8" fill="#111" stroke="none" stroke-width="1" />
<circle cx="157.4" cy="456.92" r="0.8" fill="#111" stroke="none" stroke-width="1" />
<circle cx="175.01" cy="457.42" r="0.8" fill="#111" stroke="none" stroke-width="1" />
<circle cx="191.95" cy="461.36" r="0.8" fill="#111" stroke="none" stroke-width="1" />
<circle cx="207.21" cy="468.5" r="0.8" fill="#111" stroke="none" stroke-width="1" />
<circle cx="219.89" cy="478.42" r="0.8" fill="#111" stroke="none" stroke-width="1" />
<circle cx="229.23" cy="490.53" r="0.8" fill="#111" stroke="none" stroke-width="1" />
<circle cx="234.67" cy="504.12" r="0.8" fill="#111" stroke="none" stroke-width="1" />
</g>
<g id="part_trees">
<defs>
<radialGradient id="tg"><stop offset="0" stop-color="#8c8c8c" stop-opacity="0.85"/><stop offset="0.5" stop-color="#929292" stop-opacity="0.8"/><stop offset="0.78" stop-color="#9c9c9c" stop-opacity="0.6"/><stop offset="0.92" stop-color="#aaa" stop-opacity="0.3"/><stop offset="1" stop-color="#b0b0b0" stop-opacity="0"/></radialGradient>
<g id="tree"><circle r="10.9" fill="url(#tg)"/><path d="M2.03,-0.04L9.97,-0.18M3.36,0.32L9.33,0.88M3.19,0.74L8.45,1.97M1.6,0.68L8.09,3.45M3.77,2.25L7.6,4.55M2.93,2.25L8.4,6.45M1.96,2.13L7.21,7.84M2.76,3.56L5.65,7.27M0.94,1.67L4.54,8.05M0.65,2.03L2.99,9.35M0.53,2.75L1.85,9.57M0.19,1.7L1.01,8.98M-0.26,2.99L-0.8,9.23M-0.65,3.02L-1.96,9.02M-1.43,3.68L-3.3,8.49M-1.56,2.95L-4.87,9.23M-1.49,2.02L-6.34,8.56M-1.94,2.24L-6.67,7.71M-2.42,2.11L-6.54,5.71M-3.6,2.11L-8.46,4.95M-2.42,0.94L-9.37,3.66M-3.41,0.92L-9.23,2.49M-4.78,0.49L-9.55,0.98M-1.71,-0.03L-10.07,-0.17M-4.92,-0.75L-10.21,-1.56M-2.76,-0.71L-9.69,-2.49M-2.91,-1.1L-8.37,-3.17M-1.49,-0.83L-8.92,-4.97M-1.89,-1.42L-7.52,-5.67M-1.17,-1.35L-6.25,-7.21M-2.63,-3.76L-5.91,-8.46M-1.06,-2.24L-4.05,-8.56M-1.6,-4.31L-3.69,-9.95M-0.5,-2.06L-2.16,-8.83M-0.3,-3.18L-0.93,-9.79M0.07,-1.51L0.42,-9.47M0.66,-3.42L2.02,-10.41M1.17,-3.09L3.49,-9.26M0.8,-1.49L4.99,-9.23M2.73,-3.65L6.16,-8.23M1.95,-2.14L5.95,-6.51M1.35,-1.07L6.85,-5.43M1.73,-1.13L7.81,-5.07M1.35,-0.66L8.01,-3.92M2.64,-0.85L8.23,-2.66M3.63,-0.36L8.87,-0.88" stroke="#777" stroke-opacity="0.35" stroke-width="0.5" fill="none"/></g>
</defs>
<use href="#tree" transform="translate(149 140.5) scale(1.75)"/>
<use href="#tree" transform="translate(194.7 108.4) scale(0.9)"/>
<use href="#tree" transform="translate(211 113) scale(1.05)"/>
<use href="#tree" transform="translate(191.5 126) scale(0.85)"/>
<use href="#tree" transform="translate(237.5 118.7) scale(0.85)"/>
<use href="#tree" transform="translate(253.7 114.7) scale(1.1)"/>
<use href="#tree" transform="translate(297.5 122.5) scale(0.9)"/>
<use href="#tree" transform="translate(310 134) scale(1.15)"/>
<use href="#tree" transform="translate(329 130) scale(0.88)"/>
<use href="#tree" transform="translate(255 207) scale(0.85)"/>
<use href="#tree" transform="translate(276.5 207.5) scale(1.1)"/>
<use href="#tree" transform="translate(325 218) scale(1.8)"/>
<use href="#tree" transform="translate(288 225.6) scale(0.85)"/>
<use href="#tree" transform="translate(237.5 229) scale(0.75)"/>
<use href="#tree" transform="translate(396.4 153) scale(1.85)"/>
<use href="#tree" transform="translate(386 176.5) scale(1.25)"/>
<use href="#tree" transform="translate(427 169.5) scale(1.4)"/>
<use href="#tree" transform="translate(449.5 160) scale(1.55)"/>
<use href="#tree" transform="translate(539 180) scale(1.4)"/>
<use href="#tree" transform="translate(561 174) scale(0.95)"/>
<use href="#tree" transform="translate(567.5 187.5) scale(1.1)"/>
<use href="#tree" transform="translate(382.5 237.5) scale(1.1)"/>
<use href="#tree" transform="translate(412 255) scale(1.18)"/>
<use href="#tree" transform="translate(382.5 276) scale(1.75)"/>
<use href="#tree" transform="translate(535.5 236) scale(1.48)"/>
<use href="#tree" transform="translate(530 263) scale(1.65)"/>
<use href="#tree" transform="translate(501 268) scale(1.35)"/>
<use href="#tree" transform="translate(539 305.5) scale(0.85)"/>
<use href="#tree" transform="translate(557.5 305.5) scale(0.85)"/>
<use href="#tree" transform="translate(555 321) scale(1.1)"/>
<use href="#tree" transform="translate(554 350.5) scale(0.9)"/>
<use href="#tree" transform="translate(560.5 365.5) scale(1.1)"/>
<use href="#tree" transform="translate(545.5 525.5) scale(0.9)"/>
<use href="#tree" transform="translate(553 542.5) scale(1.1)"/>
<use href="#tree" transform="translate(569.5 536) scale(0.9)"/>
<use href="#tree" transform="translate(539 568.5) scale(1.4)"/>
<use href="#tree" transform="translate(534 595) scale(1.7)"/>
<use href="#tree" transform="translate(504 600) scale(1.4)"/>
<use href="#tree" transform="translate(384 592) scale(1.15)"/>
<use href="#tree" transform="translate(413.5 608) scale(1.15)"/>
<use href="#tree" transform="translate(129.5 517.5) scale(1.95)"/>
<use href="#tree" transform="translate(181 498) scale(1.25)"/>
<use href="#tree" transform="translate(173.7 528.7) scale(1)"/>
<use href="#tree" transform="translate(141 324.5) scale(0.75)"/>
<use href="#tree" transform="translate(149 331) scale(1)"/>
<use href="#tree" transform="translate(161 335) scale(1)"/>
<use href="#tree" transform="translate(172 336.3) scale(0.75)"/>
<use href="#tree" transform="translate(152 343) scale(0.9)"/>
<use href="#tree" transform="translate(155 351) scale(0.6)"/>
<use href="#tree" transform="translate(262.5 341) scale(0.9)"/>
<use href="#tree" transform="translate(276 346) scale(1.1)"/>
<use href="#tree" transform="translate(294 337.5) scale(1.15)"/>
<use href="#tree" transform="translate(286 344) scale(0.9)"/>
<use href="#tree" transform="translate(320 341) scale(0.9)"/>
<use href="#tree" transform="translate(71 542) scale(0.95)"/>
<use href="#tree" transform="translate(81.5 553) scale(1.15)"/>
<use href="#tree" transform="translate(77.5 575.5) scale(1.2)"/>
<use href="#tree" transform="translate(118 579) scale(0.95)"/>
</g>
<g id="part_right">
<g transform="translate(566.9 -38.3)">
<ellipse cx="179.2" cy="240.1" rx="30.3" ry="46" fill="#bcbcbc" stroke="#111" stroke-width="1.3" transform="rotate(-5 179.2 240.1)" />
<rect x="166.1" y="201.2" width="26.6" height="1.6" fill="#fff" stroke="none" stroke-width="1" />
<rect x="161.7" y="211.5" width="39.8" height="1.6" fill="#fff" stroke="none" stroke-width="1" />
<rect x="157.3" y="220.5" width="44.2" height="1.6" fill="#fff" stroke="none" stroke-width="1" />
<rect x="154.4" y="229.2" width="48.7" height="1.6" fill="#fff" stroke="none" stroke-width="1" />
<rect x="154.4" y="241" width="24.2" height="1.6" fill="#fff" stroke="none" stroke-width="1" />
<rect x="155.1" y="251.3" width="23.5" height="1.6" fill="#fff" stroke="none" stroke-width="1" />
<rect x="157.4" y="260.2" width="21.2" height="1.6" fill="#fff" stroke="none" stroke-width="1" />
<rect x="161.7" y="269.1" width="34.9" height="1.6" fill="#fff" stroke="none" stroke-width="1" />
<rect x="167.1" y="278.1" width="25" height="1.6" fill="#fff" stroke="none" stroke-width="1" />
<rect x="189.1" y="244.6" width="19" height="17.7" fill="#fff" stroke="#666" stroke-width="0.6" />
<line x1="189.1" y1="244.6" x2="208.1" y2="262.3" stroke="#777" stroke-width="0.5" />
<line x1="208.1" y1="244.6" x2="189.1" y2="262.3" stroke="#777" stroke-width="0.5" />
<polygon points="121.1,244.3 149.1,244.3 152,262 156.9,271.8 133.1,285.7 126.4,271.8" fill="#e3e3e3" stroke="#c4c4c4" stroke-width="0.4" />
<line x1="121.81" y1="247.63" x2="149.77" y2="246.9" stroke="#c9c9c9" stroke-width="0.45" />
<line x1="122.51" y1="250.97" x2="150.43" y2="249.5" stroke="#c9c9c9" stroke-width="0.45" />
<line x1="123.22" y1="254.3" x2="151.1" y2="252.1" stroke="#c9c9c9" stroke-width="0.45" />
<line x1="123.93" y1="257.63" x2="151.77" y2="254.7" stroke="#c9c9c9" stroke-width="0.45" />
<line x1="124.63" y1="260.97" x2="152.43" y2="257.3" stroke="#c9c9c9" stroke-width="0.45" />
<line x1="125.34" y1="264.3" x2="153.1" y2="259.9" stroke="#c9c9c9" stroke-width="0.45" />
<line x1="126.05" y1="267.63" x2="153.77" y2="262.5" stroke="#c9c9c9" stroke-width="0.45" />
<line x1="126.75" y1="270.97" x2="154.43" y2="265.1" stroke="#c9c9c9" stroke-width="0.45" />
<line x1="113" y1="262" x2="150" y2="247" stroke="#bbb" stroke-width="0.45" />
<line x1="116" y1="258" x2="152" y2="252" stroke="#ccc" stroke-width="0.4" />
<polyline points="178.89,166.1 177,166.15 175.11,166.28 173.23,166.49 171.35,166.77 169.47,167.13 167.61,167.57 165.76,168.09 163.93,168.68 162.11,169.34 160.31,170.08 158.53,170.89 156.77,171.78 155.03,172.74 153.32,173.77 151.64,174.86 149.98,176.03 148.36,177.27 146.77,178.57 145.21,179.93 143.68,181.36 142.2,182.85 140.75,184.4 139.35,186.01 137.98,187.68 136.66,189.4 135.38,191.17 134.15,193 132.97,194.87 131.83,196.8 130.75,198.77 129.71,200.78 128.73,202.83 127.8,204.93 126.92,207.06 126.1,209.22 125.33,211.42 124.62,213.65 123.97,215.91 123.38,218.19 122.84,220.49 122.36,222.82 121.94,225.17 121.58,227.53 121.29,229.9 121.05,232.29 120.87,234.68 120.76,237.08 120.7,239.48 120.71,241.89 120.78,244.29" fill="none" stroke="#111" stroke-width="1.3" />
<polyline points="179.3,166.2 179.3,185.5 177,187.6 172.69,188.89 171.36,189.26 170.03,189.69 168.72,190.18 167.43,190.75 166.14,191.37 164.88,192.06 163.63,192.82 162.41,193.64 161.21,194.51 160.03,195.45 158.87,196.45 157.74,197.51 156.65,198.62 155.58,199.78 154.54,201 153.53,202.27 152.56,203.6 151.62,204.97 150.72,206.38 149.85,207.84 149.03,209.35 148.24,210.89 147.49,212.47 146.79,214.09 146.13,215.75 145.51,217.43 144.94,219.15 144.41,220.89 143.92,222.66 143.49,224.46 143.09,226.27 142.75,228.1 142.46,229.95 142.21,231.81 142.01,233.69 141.86,235.57 141.76,237.46 141.71,239.35 141.7,241.24 141.75,243.14" fill="none" stroke="#111" stroke-width="1.1" />
<line x1="121.1" y1="244.3" x2="149.1" y2="244.3" stroke="#111" stroke-width="1.1" />
<line x1="160.3" y1="171" x2="165.6" y2="185.8" stroke="#111" stroke-width="0.9" />
<line x1="141.1" y1="184.3" x2="157.3" y2="197.6" stroke="#111" stroke-width="0.9" />
<line x1="130.8" y1="197.6" x2="151.4" y2="207.9" stroke="#111" stroke-width="0.9" />
<line x1="124.9" y1="216.7" x2="144.1" y2="222" stroke="#111" stroke-width="0.9" />
<path d="M149.6,305 Q157,311.5 166.1,312.9 T179.5,314.5 L207.6,314.5" fill="none" stroke="#111" stroke-width="1.2" />
<path d="M158.9,293 Q163,297 168.8,298.3 T179.5,299.7 L207.6,299.7" fill="none" stroke="#111" stroke-width="1.0" />
<path d="M161.6,289.7 Q169,293.5 178.8,295" fill="none" stroke="#111" stroke-width="0.7" />
<line x1="149.6" y1="305" x2="165.5" y2="283.7" stroke="#111" stroke-width="1.1" />
<line x1="168.1" y1="299" x2="164.1" y2="311.6" stroke="#111" stroke-width="0.8" />
<line x1="179.5" y1="286.3" x2="179.5" y2="314.5" stroke="#111" stroke-width="0.9" />
<line x1="188.5" y1="299.7" x2="188.5" y2="314.5" stroke="#111" stroke-width="0.9" />
<rect x="188.5" y="288" width="9.6" height="6.6" fill="none" stroke="#111" stroke-width="0.9" />
<line x1="192" y1="289.5" x2="192" y2="293.8" stroke="#555" stroke-width="0.35" />
<line x1="193.1" y1="289.5" x2="193.1" y2="293.8" stroke="#555" stroke-width="0.35" />
<line x1="194.2" y1="289.5" x2="194.2" y2="293.8" stroke="#555" stroke-width="0.35" />
<line x1="195.3" y1="289.5" x2="195.3" y2="293.8" stroke="#555" stroke-width="0.35" />
<line x1="196.4" y1="289.5" x2="196.4" y2="293.8" stroke="#555" stroke-width="0.35" />
<rect x="202.3" y="289.5" width="4.5" height="5.5" fill="none" stroke="#777" stroke-width="0.4" />
<line x1="196" y1="284.5" x2="207.6" y2="287.5" stroke="#777" stroke-width="0.4" />
<line x1="207.6" y1="262" x2="207.6" y2="314.5" stroke="#777" stroke-width="0.45" />
<line x1="207.6" y1="262" x2="197" y2="283" stroke="#777" stroke-width="0.4" />
<line x1="179.3" y1="166.4" x2="206.4" y2="166.4" stroke="#111" stroke-width="1.1" />
<line x1="186.9" y1="166.4" x2="186.9" y2="187" stroke="#111" stroke-width="0.9" />
<rect x="190.6" y="166.4" width="7.5" height="5.8" fill="none" stroke="#333" stroke-width="0.6" />
<line x1="191.2" y1="167.3" x2="197.5" y2="167.3" stroke="#555" stroke-width="0.35" />
<line x1="191.2" y1="168.5" x2="197.5" y2="168.5" stroke="#555" stroke-width="0.35" />
<line x1="191.2" y1="169.7" x2="197.5" y2="169.7" stroke="#555" stroke-width="0.35" />
<line x1="191.2" y1="170.9" x2="197.5" y2="170.9" stroke="#555" stroke-width="0.35" />
<rect x="190.6" y="174" width="4.5" height="4.5" fill="none" stroke="#333" stroke-width="0.5" />
<line x1="179.3" y1="187.6" x2="207" y2="193.5" stroke="#777" stroke-width="0.35" />
<line x1="206.4" y1="193.5" x2="206.4" y2="207" stroke="#777" stroke-width="0.4" />
<line x1="188" y1="193.8" x2="206.4" y2="207" stroke="#777" stroke-width="0.35" />
<polyline points="206.4,166.4 206.4,155.3 223.9,134.6 244.4,152 233.6,166.4" fill="none" stroke="#111" stroke-width="1.3" />
<line x1="223.9" y1="134.6" x2="233" y2="166.4" stroke="#777" stroke-width="0.4" />
<line x1="188" y1="166.4" x2="244.4" y2="152" stroke="#999" stroke-width="0.4" />
<line x1="206.4" y1="155.3" x2="244.4" y2="152" stroke="#999" stroke-width="0.4" />
<line x1="225.9" y1="166.4" x2="225.9" y2="314.5" stroke="#111" stroke-width="1.0" />
<line x1="206.4" y1="166.4" x2="206.4" y2="178.5" stroke="#111" stroke-width="0.9" />
<polyline points="225.9,166.4 301.9,166.4 301.9,169.8 339.4,169.8 339.4,193.8 225.9,193.8" fill="none" stroke="#111" stroke-width="1.2" />
<polyline points="301.9,166.4 346.9,166.4 346.9,194.3 339.4,194.3" fill="none" stroke="#666" stroke-width="0.45" />
<line x1="225.9" y1="173.3" x2="301.9" y2="173.3" stroke="#111" stroke-width="0.8" />
<line x1="225.9" y1="178.3" x2="339.4" y2="178.3" stroke="#111" stroke-width="0.8" />
<line x1="244.9" y1="166.4" x2="244.9" y2="173.3" stroke="#111" stroke-width="0.8" />
<line x1="263.6" y1="166.4" x2="263.6" y2="173.3" stroke="#111" stroke-width="0.8" />
<line x1="282.6" y1="166.4" x2="282.6" y2="173.3" stroke="#111" stroke-width="0.8" />
<line x1="244.9" y1="178.3" x2="244.9" y2="193.8" stroke="#111" stroke-width="0.8" />
<line x1="263.6" y1="178.3" x2="263.6" y2="193.8" stroke="#111" stroke-width="0.8" />
<line x1="282.6" y1="178.3" x2="282.6" y2="193.8" stroke="#111" stroke-width="0.8" />
<line x1="301.4" y1="178.3" x2="301.4" y2="193.8" stroke="#111" stroke-width="0.8" />
<line x1="320.1" y1="178.3" x2="320.1" y2="193.8" stroke="#111" stroke-width="0.8" />
<line x1="323.5" y1="167.2" x2="323.5" y2="169.4" stroke="#777" stroke-width="0.4" />
<line x1="324.8" y1="167.2" x2="324.8" y2="169.4" stroke="#777" stroke-width="0.4" />
<line x1="326.1" y1="167.2" x2="326.1" y2="169.4" stroke="#777" stroke-width="0.4" />
<line x1="327.4" y1="167.2" x2="327.4" y2="169.4" stroke="#777" stroke-width="0.4" />
<line x1="332" y1="167.2" x2="332" y2="169.4" stroke="#777" stroke-width="0.4" />
<line x1="333.3" y1="167.2" x2="333.3" y2="169.4" stroke="#777" stroke-width="0.4" />
<line x1="334.6" y1="167.2" x2="334.6" y2="169.4" stroke="#777" stroke-width="0.4" />
<line x1="335.9" y1="167.2" x2="335.9" y2="169.4" stroke="#777" stroke-width="0.4" />
<polyline points="225.9,242 340.1,242 340.1,263.8 225.9,263.8" fill="none" stroke="#111" stroke-width="1.2" />
<polyline points="340.1,242 343.6,242 343.6,263.8 340.1,263.8" fill="none" stroke="#666" stroke-width="0.45" />
<polyline points="236.4,263.8 236.4,247.8 333.1,247.8 333.1,263.8" fill="none" stroke="#111" stroke-width="0.9" />
<line x1="248.9" y1="247.8" x2="248.9" y2="263.8" stroke="#111" stroke-width="0.8" />
<line x1="271.9" y1="247.8" x2="271.9" y2="263.8" stroke="#111" stroke-width="0.8" />
<line x1="295.1" y1="247.8" x2="295.1" y2="263.8" stroke="#111" stroke-width="0.8" />
<line x1="308.6" y1="247.8" x2="308.6" y2="263.8" stroke="#111" stroke-width="0.8" />
<line x1="227" y1="252.5" x2="230.5" y2="252.5" stroke="#666" stroke-width="0.35" />
<line x1="227" y1="254" x2="230.5" y2="254" stroke="#666" stroke-width="0.35" />
<line x1="227" y1="255.5" x2="230.5" y2="255.5" stroke="#666" stroke-width="0.35" />
<line x1="227" y1="257" x2="230.5" y2="257" stroke="#666" stroke-width="0.35" />
<line x1="227" y1="258.5" x2="230.5" y2="258.5" stroke="#666" stroke-width="0.35" />
<line x1="227" y1="260" x2="230.5" y2="260" stroke="#666" stroke-width="0.35" />
<line x1="334.5" y1="252" x2="339" y2="252" stroke="#666" stroke-width="0.35" />
<line x1="334.5" y1="253.5" x2="339" y2="253.5" stroke="#666" stroke-width="0.35" />
<line x1="334.5" y1="255" x2="339" y2="255" stroke="#666" stroke-width="0.35" />
<line x1="334.5" y1="256.5" x2="339" y2="256.5" stroke="#666" stroke-width="0.35" />
<line x1="334.5" y1="258" x2="339" y2="258" stroke="#666" stroke-width="0.35" />
<line x1="334.5" y1="259.5" x2="339" y2="259.5" stroke="#666" stroke-width="0.35" />
<polyline points="225.9,287.8 301.9,287.8 301.9,292.5 339.4,292.5 339.4,314.5 225.9,314.5" fill="none" stroke="#111" stroke-width="1.2" />
<polyline points="301.9,287.8 349.4,287.8 349.4,314.8 339.4,314.8" fill="none" stroke="#666" stroke-width="0.45" />
<polyline points="244.4,287.8 244.4,294.5 301.9,294.5" fill="none" stroke="#111" stroke-width="0.8" />
<line x1="263.6" y1="287.8" x2="263.6" y2="294.5" stroke="#111" stroke-width="0.8" />
<line x1="225.9" y1="299.5" x2="339.4" y2="299.5" stroke="#111" stroke-width="0.8" />
<line x1="244.9" y1="299.5" x2="244.9" y2="314.5" stroke="#111" stroke-width="0.8" />
<line x1="263.6" y1="299.5" x2="263.6" y2="314.5" stroke="#111" stroke-width="0.8" />
<line x1="282.6" y1="299.5" x2="282.6" y2="314.5" stroke="#111" stroke-width="0.8" />
<line x1="301.4" y1="299.5" x2="301.4" y2="314.5" stroke="#111" stroke-width="0.8" />
<line x1="320.1" y1="299.5" x2="320.1" y2="314.5" stroke="#111" stroke-width="0.8" />
<line x1="313.5" y1="288.6" x2="313.5" y2="291.6" stroke="#777" stroke-width="0.4" />
<line x1="314.8" y1="288.6" x2="314.8" y2="291.6" stroke="#777" stroke-width="0.4" />
<line x1="316.1" y1="288.6" x2="316.1" y2="291.6" stroke="#777" stroke-width="0.4" />
<line x1="317.4" y1="288.6" x2="317.4" y2="291.6" stroke="#777" stroke-width="0.4" />
<line x1="322" y1="288.6" x2="322" y2="291.6" stroke="#777" stroke-width="0.4" />
<line x1="323.3" y1="288.6" x2="323.3" y2="291.6" stroke="#777" stroke-width="0.4" />
<line x1="324.6" y1="288.6" x2="324.6" y2="291.6" stroke="#777" stroke-width="0.4" />
<line x1="325.9" y1="288.6" x2="325.9" y2="291.6" stroke="#777" stroke-width="0.4" />
<line x1="206.4" y1="314.5" x2="206.4" y2="347" stroke="#111" stroke-width="0.9" />
<line x1="228.1" y1="314.5" x2="228.1" y2="350.8" stroke="#111" stroke-width="0.9" />
<polyline points="80.6,418.9 85.9,383.9 149.1,383.9" fill="none" stroke="#111" stroke-width="1.3" />
<polyline points="80.6,418.9 149.1,418.9" fill="none" stroke="#111" stroke-width="1.3" />
<polyline points="81.5,383.9 74.1,418.9 80.6,418.9" fill="none" stroke="#555" stroke-width="0.5" />
<line x1="81.5" y1="383.9" x2="85.9" y2="383.9" stroke="#555" stroke-width="0.5" />
<line x1="83.5" y1="398.3" x2="149.1" y2="398.3" stroke="#111" stroke-width="0.9" />
<line x1="82.5" y1="404.3" x2="149.1" y2="404.3" stroke="#111" stroke-width="0.9" />
<line x1="98.4" y1="383.9" x2="98.4" y2="398.3" stroke="#111" stroke-width="0.9" />
<line x1="105.4" y1="383.9" x2="105.4" y2="398.3" stroke="#111" stroke-width="0.9" />
<line x1="135" y1="383.9" x2="135" y2="398.3" stroke="#111" stroke-width="0.9" />
<line x1="91.9" y1="404.3" x2="91.9" y2="418.9" stroke="#111" stroke-width="0.9" />
<line x1="120" y1="404.3" x2="120" y2="418.9" stroke="#111" stroke-width="0.9" />
<line x1="99" y1="386" x2="104.8" y2="386" stroke="#777" stroke-width="0.35" />
<line x1="99" y1="387.4" x2="104.8" y2="387.4" stroke="#777" stroke-width="0.35" />
<line x1="99" y1="388.8" x2="104.8" y2="388.8" stroke="#777" stroke-width="0.35" />
<line x1="99" y1="390.2" x2="104.8" y2="390.2" stroke="#777" stroke-width="0.35" />
<line x1="99" y1="391.6" x2="104.8" y2="391.6" stroke="#777" stroke-width="0.35" />
<line x1="99" y1="393" x2="104.8" y2="393" stroke="#777" stroke-width="0.35" />
<line x1="99" y1="394.4" x2="104.8" y2="394.4" stroke="#777" stroke-width="0.35" />
<line x1="99" y1="395.8" x2="104.8" y2="395.8" stroke="#777" stroke-width="0.35" />
<rect x="135.9" y="385" width="9.4" height="12" fill="none" stroke="#222" stroke-width="0.5" />
<line x1="136.3" y1="386" x2="145" y2="386" stroke="#333" stroke-width="0.45" />
<line x1="136.3" y1="387.2" x2="145" y2="387.2" stroke="#333" stroke-width="0.45" />
<line x1="136.3" y1="388.4" x2="145" y2="388.4" stroke="#333" stroke-width="0.45" />
<line x1="136.3" y1="389.6" x2="145" y2="389.6" stroke="#333" stroke-width="0.45" />
<line x1="136.3" y1="390.8" x2="145" y2="390.8" stroke="#333" stroke-width="0.45" />
<line x1="136.3" y1="392" x2="145" y2="392" stroke="#333" stroke-width="0.45" />
<line x1="136.3" y1="393.2" x2="145" y2="393.2" stroke="#333" stroke-width="0.45" />
<line x1="136.3" y1="394.4" x2="145" y2="394.4" stroke="#333" stroke-width="0.45" />
<line x1="136.3" y1="395.6" x2="145" y2="395.6" stroke="#333" stroke-width="0.45" />
<rect x="148.5" y="411.5" width="4.5" height="5.5" fill="none" stroke="#666" stroke-width="0.4" />
<polyline points="149,384 204.3,349.5 208,347.6 212.8,346.7 218,347.3 221.1,348.6 260,370.1" fill="none" stroke="#111" stroke-width="1.3" stroke-linejoin="round"/>
<polyline points="149.1,418.9 155,418 161.1,416.1 170.6,410.5 202.5,388 209,385.2 215.6,384.3 222,385.5 228.7,388.9 243.7,397.3" fill="none" stroke="#111" stroke-width="1.3" stroke-linejoin="round"/>
<polyline points="158.94,395.13 206.97,362.65" fill="none" stroke="#111" stroke-width="0.8" />
<polyline points="166.6,395.75 209.66,366.63" fill="none" stroke="#111" stroke-width="0.8" />
<line x1="151.07" y1="382.6" x2="159.36" y2="394.85" stroke="#111" stroke-width="0.9" />
<line x1="172.6" y1="368.04" x2="180.89" y2="380.29" stroke="#111" stroke-width="0.9" />
<line x1="192.06" y1="354.88" x2="200.34" y2="367.13" stroke="#111" stroke-width="0.9" />
<line x1="167.43" y1="395.19" x2="175.04" y2="406.45" stroke="#111" stroke-width="0.9" />
<line x1="175.71" y1="389.59" x2="183.32" y2="400.85" stroke="#111" stroke-width="0.9" />
<line x1="194.75" y1="376.71" x2="202.37" y2="387.97" stroke="#111" stroke-width="0.9" />
<line x1="214.62" y1="363.27" x2="222.24" y2="374.53" stroke="#111" stroke-width="0.9" />
<polygon points="169.87,395.23 174.84,391.87 181,400.98 176.03,404.34" fill="none" stroke="#222" stroke-width="0.5" />
<line x1="170.45" y1="395.2" x2="176.27" y2="403.81" stroke="#222" stroke-width="0.5" />
<line x1="171.28" y1="394.64" x2="177.1" y2="403.25" stroke="#222" stroke-width="0.5" />
<line x1="172.11" y1="394.08" x2="177.93" y2="402.69" stroke="#222" stroke-width="0.5" />
<line x1="172.93" y1="393.52" x2="178.76" y2="402.13" stroke="#222" stroke-width="0.5" />
<line x1="173.76" y1="392.96" x2="179.59" y2="401.57" stroke="#222" stroke-width="0.5" />
<line x1="174.59" y1="392.4" x2="180.41" y2="401.01" stroke="#222" stroke-width="0.5" />
<polygon points="194.83,355.42 198.56,352.9 204.16,361.18 200.43,363.7" fill="none" stroke="#222" stroke-width="0.5" />
<line x1="195.41" y1="355.38" x2="200.68" y2="363.17" stroke="#333" stroke-width="0.45" />
<line x1="196.12" y1="354.91" x2="201.38" y2="362.69" stroke="#333" stroke-width="0.45" />
<line x1="196.82" y1="354.43" x2="202.09" y2="362.22" stroke="#333" stroke-width="0.45" />
<line x1="197.53" y1="353.96" x2="202.79" y2="361.74" stroke="#333" stroke-width="0.45" />
<line x1="198.23" y1="353.48" x2="203.49" y2="361.26" stroke="#333" stroke-width="0.45" />
<polygon points="199.39,352.34 203.11,349.82 208.71,358.1 204.99,360.62" fill="none" stroke="#222" stroke-width="0.5" />
<line x1="199.97" y1="352.3" x2="205.23" y2="360.09" stroke="#333" stroke-width="0.45" />
<line x1="200.67" y1="351.83" x2="205.94" y2="359.61" stroke="#333" stroke-width="0.45" />
<line x1="201.38" y1="351.35" x2="206.64" y2="359.14" stroke="#333" stroke-width="0.45" />
<line x1="202.08" y1="350.88" x2="207.34" y2="358.66" stroke="#333" stroke-width="0.45" />
<line x1="202.78" y1="350.4" x2="208.05" y2="358.18" stroke="#333" stroke-width="0.45" />
<polygon points="227.1,352.3 244.9,363.1 240.5,371 221.1,361.3" fill="none" stroke="#111" stroke-width="0.7" />
<line x1="227.1" y1="352.3" x2="240.5" y2="371" stroke="#777" stroke-width="0.4" />
<line x1="244.9" y1="363.1" x2="221.1" y2="361.3" stroke="#777" stroke-width="0.4" />
<polygon points="246.5,364 255,368.8 250.5,377.5 242,372.5" fill="none" stroke="#111" stroke-width="0.8" />
<polygon points="247.5,366.5 252,369 249.5,373.5 245,371" fill="#555" stroke="none" stroke-width="1" />
<polygon points="225.5,373.7 249.4,386.9 244.1,396.7 218.4,385.2" fill="none" stroke="#111" stroke-width="1.0" />
<polyline points="260,389.6 252.9,400.3 252.9,451" fill="none" stroke="#111" stroke-width="0.8" />
<polyline points="261.1,370.1 340.8,370.1 340.8,402 261.1,402" fill="none" stroke="#111" stroke-width="1.3" />
<polyline points="340.8,370.1 348.4,370.1 348.4,402 340.8,402" fill="none" stroke="#666" stroke-width="0.45" />
<line x1="261.1" y1="370.1" x2="261.1" y2="383.3" stroke="#111" stroke-width="1.0" />
<line x1="261.1" y1="389.1" x2="261.1" y2="402" stroke="#111" stroke-width="1.0" />
<line x1="255" y1="383.3" x2="340.8" y2="383.3" stroke="#111" stroke-width="0.9" />
<line x1="259.5" y1="389.1" x2="340.8" y2="389.1" stroke="#111" stroke-width="0.9" />
<line x1="280.3" y1="370.1" x2="280.3" y2="383.3" stroke="#111" stroke-width="0.9" />
<line x1="300.7" y1="370.1" x2="300.7" y2="383.3" stroke="#111" stroke-width="0.9" />
<line x1="313.1" y1="370.1" x2="313.1" y2="383.3" stroke="#111" stroke-width="0.9" />
<line x1="320.5" y1="370.1" x2="320.5" y2="383.3" stroke="#111" stroke-width="0.9" />
<line x1="280.3" y1="389.1" x2="280.3" y2="402" stroke="#111" stroke-width="0.9" />
<line x1="300.7" y1="389.1" x2="300.7" y2="402" stroke="#111" stroke-width="0.9" />
<line x1="320.5" y1="389.1" x2="320.5" y2="402" stroke="#111" stroke-width="0.9" />
<line x1="314.2" y1="372" x2="314.2" y2="381.5" stroke="#777" stroke-width="0.4" />
<line x1="315.2" y1="372" x2="315.2" y2="381.5" stroke="#777" stroke-width="0.4" />
<line x1="316.2" y1="372" x2="316.2" y2="381.5" stroke="#777" stroke-width="0.4" />
<line x1="317.2" y1="372" x2="317.2" y2="381.5" stroke="#777" stroke-width="0.4" />
<line x1="318.2" y1="372" x2="318.2" y2="381.5" stroke="#777" stroke-width="0.4" />
<line x1="319.2" y1="372" x2="319.2" y2="381.5" stroke="#777" stroke-width="0.4" />
<polygon points="261.1,402.9 328.1,402.9 323.6,434.7 326.1,449.7 261.1,449.7" fill="#c3c3c3" stroke="none" stroke-width="1" />
<rect x="268.9" y="404.3" width="2.4" height="10.8" fill="#f4f4f4" stroke="none" stroke-width="1" />
<rect x="287.9" y="404.3" width="2.4" height="10.8" fill="#f4f4f4" stroke="none" stroke-width="1" />
<rect x="306.5" y="404.3" width="2.4" height="10.8" fill="#f4f4f4" stroke="none" stroke-width="1" />
<rect x="276.4" y="417.9" width="2.4" height="10.8" fill="#f4f4f4" stroke="none" stroke-width="1" />
<rect x="296.9" y="417.9" width="2.4" height="10.8" fill="#f4f4f4" stroke="none" stroke-width="1" />
<rect x="314.9" y="417.9" width="2.4" height="10.8" fill="#f4f4f4" stroke="none" stroke-width="1" />
<rect x="268.9" y="431.3" width="2.4" height="10.8" fill="#f4f4f4" stroke="none" stroke-width="1" />
<rect x="287.9" y="431.3" width="2.4" height="10.8" fill="#f4f4f4" stroke="none" stroke-width="1" />
<rect x="306.5" y="431.3" width="2.4" height="10.8" fill="#f4f4f4" stroke="none" stroke-width="1" />
<polygon points="328.1,402.9 350.1,402.9 352.8,445.3 350.1,455.9 328.1,455.9 326.1,449.7 323.6,434.7" fill="#f3f3f3" stroke="none" stroke-width="1" />
<line x1="333.5" y1="404.3" x2="333.5" y2="416.3" stroke="#999" stroke-width="0.4" />
<line x1="334.9" y1="404.3" x2="334.9" y2="416.3" stroke="#999" stroke-width="0.4" />
<line x1="336.3" y1="404.3" x2="336.3" y2="416.3" stroke="#999" stroke-width="0.4" />
<line x1="337.7" y1="404.3" x2="337.7" y2="416.3" stroke="#999" stroke-width="0.4" />
<line x1="339.1" y1="404.3" x2="339.1" y2="416.3" stroke="#999" stroke-width="0.4" />
<line x1="340.5" y1="404.3" x2="340.5" y2="416.3" stroke="#999" stroke-width="0.4" />
<line x1="341.9" y1="404.3" x2="341.9" y2="416.3" stroke="#999" stroke-width="0.4" />
<line x1="343.3" y1="404.3" x2="343.3" y2="416.3" stroke="#999" stroke-width="0.4" />
<line x1="344.7" y1="404.3" x2="344.7" y2="416.3" stroke="#999" stroke-width="0.4" />
<line x1="346.1" y1="404.3" x2="346.1" y2="416.3" stroke="#999" stroke-width="0.4" />
<line x1="347.5" y1="404.3" x2="347.5" y2="416.3" stroke="#999" stroke-width="0.4" />
<line x1="348.9" y1="404.3" x2="348.9" y2="416.3" stroke="#999" stroke-width="0.4" />
<rect x="338.2" y="416.3" width="1.5" height="24" fill="#8a8a8a" stroke="none" stroke-width="1" />
<rect x="341.2" y="416.3" width="1.5" height="24" fill="#bdbdbd" stroke="none" stroke-width="1" />
<rect x="344.2" y="416.3" width="1.5" height="24" fill="#8a8a8a" stroke="none" stroke-width="1" />
<rect x="347.2" y="416.3" width="1.5" height="24" fill="#bdbdbd" stroke="none" stroke-width="1" />
<polygon points="326.1,434.7 352.8,445.3 350.1,455.9 328.1,455.9" fill="#e4e4e4" stroke="none" stroke-width="1" />
<line x1="328.1" y1="455.9" x2="326.5" y2="435" stroke="#999" stroke-width="0.35" />
<line x1="329.79" y1="455.9" x2="328.46" y2="435.77" stroke="#999" stroke-width="0.35" />
<line x1="331.48" y1="455.9" x2="330.42" y2="436.54" stroke="#999" stroke-width="0.35" />
<line x1="333.18" y1="455.9" x2="332.38" y2="437.31" stroke="#999" stroke-width="0.35" />
<line x1="334.87" y1="455.9" x2="334.35" y2="438.08" stroke="#999" stroke-width="0.35" />
<line x1="336.56" y1="455.9" x2="336.31" y2="438.85" stroke="#999" stroke-width="0.35" />
<line x1="338.25" y1="455.9" x2="338.27" y2="439.62" stroke="#999" stroke-width="0.35" />
<line x1="339.95" y1="455.9" x2="340.23" y2="440.38" stroke="#999" stroke-width="0.35" />
<line x1="341.64" y1="455.9" x2="342.19" y2="441.15" stroke="#999" stroke-width="0.35" />
<line x1="343.33" y1="455.9" x2="344.15" y2="441.92" stroke="#999" stroke-width="0.35" />
<line x1="345.02" y1="455.9" x2="346.12" y2="442.69" stroke="#999" stroke-width="0.35" />
<line x1="346.72" y1="455.9" x2="348.08" y2="443.46" stroke="#999" stroke-width="0.35" />
<line x1="348.41" y1="455.9" x2="350.04" y2="444.23" stroke="#999" stroke-width="0.35" />
<line x1="350.1" y1="455.9" x2="352" y2="445" stroke="#999" stroke-width="0.35" />
<polyline points="328.1,402.9 323.6,434.7 328.1,455.9" fill="none" stroke="#aaa" stroke-width="0.4" />
<line x1="324.5" y1="410" x2="333" y2="404" stroke="#bbb" stroke-width="0.35" />
<line x1="325" y1="413" x2="333" y2="408.5" stroke="#bbb" stroke-width="0.35" />
<line x1="325.5" y1="416" x2="333" y2="413" stroke="#bbb" stroke-width="0.35" />
<line x1="326" y1="419" x2="333" y2="417.5" stroke="#bbb" stroke-width="0.35" />
<line x1="326.5" y1="422" x2="333" y2="422" stroke="#bbb" stroke-width="0.35" />
<line x1="327" y1="425" x2="333" y2="426.5" stroke="#bbb" stroke-width="0.35" />
<line x1="327.5" y1="428" x2="333" y2="431" stroke="#bbb" stroke-width="0.35" />
<line x1="328" y1="431" x2="333" y2="435.5" stroke="#bbb" stroke-width="0.35" />
<polyline points="252.9,403.8 261.1,403.8" fill="none" stroke="#111" stroke-width="0.7" />
<polyline points="252.9,413.8 261.1,413.8" fill="none" stroke="#111" stroke-width="0.7" />
<polyline points="252.9,423.3 261.1,423.3" fill="none" stroke="#111" stroke-width="0.7" />
<line x1="261.1" y1="402" x2="261.1" y2="457.9" stroke="#111" stroke-width="1.0" />
<rect x="252.9" y="429.3" width="8.2" height="22.2" fill="none" stroke="#888" stroke-width="0.4" />
<line x1="252.9" y1="429.3" x2="261.1" y2="451.5" stroke="#888" stroke-width="0.4" />
<line x1="261.1" y1="429.3" x2="252.9" y2="451.5" stroke="#888" stroke-width="0.4" />
<line x1="261.1" y1="449.7" x2="300.6" y2="449.7" stroke="#111" stroke-width="0.8" />
<rect x="276.8" y="449.9" width="23.8" height="8" fill="none" stroke="#222" stroke-width="0.6" />
<rect x="278.5" y="451" width="1.7" height="6.5" fill="#222" stroke="none" stroke-width="1" />
<rect x="283" y="451" width="1.7" height="6.5" fill="#222" stroke="none" stroke-width="1" />
<rect x="288" y="451" width="1.7" height="6.5" fill="#222" stroke="none" stroke-width="1" />
<rect x="292.5" y="451" width="1.7" height="6.5" fill="#222" stroke="none" stroke-width="1" />
<rect x="296.5" y="451" width="1.7" height="6.5" fill="#222" stroke="none" stroke-width="1" />
<line x1="252.9" y1="457.9" x2="300.6" y2="457.9" stroke="#111" stroke-width="0.8" />
<polyline points="240.6,408.3 209.6,408.3 197.1,414.8 197.1,435.5 209.6,442.9 228.1,442.9 228.1,478.3" fill="none" stroke="#222" stroke-width="0.7" />
<line x1="191.1" y1="415.8" x2="197.1" y2="415.8" stroke="#333" stroke-width="0.45" />
<line x1="191.1" y1="417.9" x2="197.1" y2="417.9" stroke="#333" stroke-width="0.45" />
<line x1="191.1" y1="420" x2="197.1" y2="420" stroke="#333" stroke-width="0.45" />
<line x1="191.1" y1="422.1" x2="197.1" y2="422.1" stroke="#333" stroke-width="0.45" />
<line x1="191.1" y1="424.2" x2="197.1" y2="424.2" stroke="#333" stroke-width="0.45" />
<line x1="191.1" y1="426.3" x2="197.1" y2="426.3" stroke="#333" stroke-width="0.45" />
<line x1="191.1" y1="428.4" x2="197.1" y2="428.4" stroke="#333" stroke-width="0.45" />
<line x1="191.1" y1="430.5" x2="197.1" y2="430.5" stroke="#333" stroke-width="0.45" />
<line x1="191.1" y1="432.6" x2="197.1" y2="432.6" stroke="#333" stroke-width="0.45" />
<line x1="191.1" y1="434.7" x2="197.1" y2="434.7" stroke="#333" stroke-width="0.45" />
<line x1="191.1" y1="414.8" x2="191.1" y2="434.8" stroke="#777" stroke-width="0.4" />
<line x1="201.5" y1="411.8" x2="201.5" y2="438.8" stroke="#aaa" stroke-width="0.45" />
<line x1="205.1" y1="411.8" x2="205.1" y2="438.8" stroke="#aaa" stroke-width="0.45" />
<line x1="209.6" y1="408.3" x2="209.6" y2="442.9" stroke="#aaa" stroke-width="0.45" />
<rect x="234" y="451.7" width="7.4" height="17" fill="none" stroke="#222" stroke-width="0.7" />
<line x1="235.1" y1="459.3" x2="240.6" y2="459.3" stroke="#444" stroke-width="0.4" />
<line x1="235.1" y1="460.9" x2="240.6" y2="460.9" stroke="#444" stroke-width="0.4" />
<line x1="235.1" y1="462.5" x2="240.6" y2="462.5" stroke="#444" stroke-width="0.4" />
<line x1="235.1" y1="464.1" x2="240.6" y2="464.1" stroke="#444" stroke-width="0.4" />
<line x1="235.1" y1="465.7" x2="240.6" y2="465.7" stroke="#444" stroke-width="0.4" />
<line x1="241.4" y1="398.3" x2="241.4" y2="477.6" stroke="#111" stroke-width="1.1" />
<rect x="233.8" y="451.1" width="7.6" height="18.2" fill="none" stroke="#333" stroke-width="0.6" />
<line x1="234.5" y1="458" x2="241" y2="458" stroke="#555" stroke-width="0.4" />
<line x1="234.5" y1="459.5" x2="241" y2="459.5" stroke="#555" stroke-width="0.4" />
<line x1="234.5" y1="461" x2="241" y2="461" stroke="#555" stroke-width="0.4" />
<line x1="234.5" y1="462.5" x2="241" y2="462.5" stroke="#555" stroke-width="0.4" />
<line x1="234.5" y1="464" x2="241" y2="464" stroke="#555" stroke-width="0.4" />
<line x1="234.5" y1="465.5" x2="241" y2="465.5" stroke="#555" stroke-width="0.4" />
<line x1="234.5" y1="467" x2="241" y2="467" stroke="#555" stroke-width="0.4" />
<line x1="241.4" y1="477.6" x2="261.3" y2="478" stroke="#111" stroke-width="0.9" />
<polyline points="261.3,462.7 301.6,462.7 301.6,478 261.3,478 261.3,462.7" fill="none" stroke="#111" stroke-width="1.2" />
<line x1="280.5" y1="462.7" x2="280.5" y2="478" stroke="#111" stroke-width="0.9" />
<rect x="253.7" y="462.7" width="7.6" height="15.3" fill="none" stroke="#888" stroke-width="0.4" />
<line x1="253.7" y1="462.7" x2="261.3" y2="478" stroke="#888" stroke-width="0.4" />
<line x1="261.3" y1="462.7" x2="253.7" y2="478" stroke="#888" stroke-width="0.4" />
<polyline points="301.6,450.7 305.7,451.7 329.5,466.2 340.9,467.3" fill="none" stroke="#111" stroke-width="0.9" />
<polyline points="340.9,467.3 348.1,462.1 348.1,490 355.3,490" fill="none" stroke="#555" stroke-width="0.5" />
<polyline points="301.6,478 305.7,479.6 320.1,490 340.9,490" fill="none" stroke="#111" stroke-width="1.1" />
<line x1="340.9" y1="467.3" x2="340.9" y2="490" stroke="#111" stroke-width="0.9" />
<polygon points="308.8,466.2 326.4,476.5 321.1,488.9 303.7,478.6" fill="none" stroke="#111" stroke-width="0.8" />
<polyline points="326.4,469.3 340.9,469.3" fill="none" stroke="#111" stroke-width="0.7" />
<line x1="326.4" y1="469.3" x2="326.4" y2="490" stroke="#111" stroke-width="0.8" />
<polygon points="313,452.5 317,451 331,461 328,464" fill="#ccc" stroke="none" stroke-width="1" />
<line x1="261.3" y1="478" x2="261.3" y2="515.8" stroke="#333" stroke-width="0.6" />
<polyline points="261.3,512.7 267.5,517.8 267.5,527.1" fill="none" stroke="#333" stroke-width="0.6" />
<line x1="261.8" y1="520.5" x2="267" y2="520.5" stroke="#666" stroke-width="0.4" />
<line x1="261.8" y1="521.9" x2="267" y2="521.9" stroke="#666" stroke-width="0.4" />
<line x1="261.8" y1="523.3" x2="267" y2="523.3" stroke="#666" stroke-width="0.4" />
<line x1="261.8" y1="524.7" x2="267" y2="524.7" stroke="#666" stroke-width="0.4" />
<line x1="261.8" y1="526.1" x2="267" y2="526.1" stroke="#666" stroke-width="0.4" />
<rect x="243.8" y="493.7" width="9.3" height="31.4" fill="none" stroke="#aaa" stroke-width="0.4" />
<line x1="243.8" y1="495.5" x2="253.1" y2="495.5" stroke="#aaa" stroke-width="0.35" />
<line x1="243.8" y1="497.5" x2="253.1" y2="497.5" stroke="#aaa" stroke-width="0.35" />
<line x1="243.8" y1="499.5" x2="253.1" y2="499.5" stroke="#aaa" stroke-width="0.35" />
<line x1="243.8" y1="501.5" x2="253.1" y2="501.5" stroke="#aaa" stroke-width="0.35" />
<line x1="243.8" y1="503.5" x2="253.1" y2="503.5" stroke="#aaa" stroke-width="0.35" />
<line x1="243.8" y1="505.5" x2="253.1" y2="505.5" stroke="#aaa" stroke-width="0.35" />
<line x1="243.8" y1="507.5" x2="253.1" y2="507.5" stroke="#aaa" stroke-width="0.35" />
<line x1="243.8" y1="509.5" x2="253.1" y2="509.5" stroke="#aaa" stroke-width="0.35" />
<line x1="243.8" y1="511.5" x2="253.1" y2="511.5" stroke="#aaa" stroke-width="0.35" />
<line x1="243.8" y1="513.5" x2="253.1" y2="513.5" stroke="#aaa" stroke-width="0.35" />
<line x1="243.8" y1="515.5" x2="253.1" y2="515.5" stroke="#aaa" stroke-width="0.35" />
<line x1="243.8" y1="517.5" x2="253.1" y2="517.5" stroke="#aaa" stroke-width="0.35" />
<line x1="243.8" y1="519.5" x2="253.1" y2="519.5" stroke="#aaa" stroke-width="0.35" />
<line x1="243.8" y1="521.5" x2="253.1" y2="521.5" stroke="#aaa" stroke-width="0.35" />
<line x1="243.8" y1="523.5" x2="253.1" y2="523.5" stroke="#aaa" stroke-width="0.35" />
<polyline points="244.8,527.6 285.1,527.6 319.1,544.7" fill="none" stroke="#111" stroke-width="1.0" />
<polyline points="314.1,539.5 347.1,539.5 347.1,568.5 302.6,568.5" fill="none" stroke="#555" stroke-width="0.5" />
<polyline points="302.6,550.9 340.9,550.9 340.9,568.5 302.6,568.5 302.6,550.9" fill="none" stroke="#111" stroke-width="1.0" />
<line x1="310.9" y1="552" x2="310.9" y2="568.5" stroke="#111" stroke-width="0.7" />
<line x1="320.2" y1="552" x2="320.2" y2="568.5" stroke="#111" stroke-width="0.7" />
<line x1="332.6" y1="552" x2="332.6" y2="568.5" stroke="#111" stroke-width="0.7" />
<rect x="268.6" y="528.2" width="10.3" height="6.1" fill="none" stroke="#333" stroke-width="0.6" />
<line x1="269.3" y1="529.4" x2="278.3" y2="529.4" stroke="#555" stroke-width="0.4" />
<line x1="269.3" y1="530.6" x2="278.3" y2="530.6" stroke="#555" stroke-width="0.4" />
<line x1="269.3" y1="531.8" x2="278.3" y2="531.8" stroke="#555" stroke-width="0.4" />
<line x1="269.3" y1="533" x2="278.3" y2="533" stroke="#555" stroke-width="0.4" />
<polyline points="241.7,539.5 279.9,539.5" fill="none" stroke="#111" stroke-width="0.9" />
<line x1="261.3" y1="527.6" x2="261.3" y2="559.2" stroke="#111" stroke-width="0.8" />
<line x1="241.7" y1="539.5" x2="241.7" y2="561" stroke="#111" stroke-width="0.8" />
<path d="M238.6,561.3 Q260.3,556.5 283.1,561.3" fill="none" stroke="#111" stroke-width="0.9" />
<line x1="279.9" y1="539.5" x2="279.9" y2="557.1" stroke="#111" stroke-width="0.8" />
<polyline points="279.9,557.1 285.1,543.7 289.1,541.6" fill="none" stroke="#111" stroke-width="0.7" />
<polyline points="279.9,557.1 299.5,567.3 302.6,568.5" fill="none" stroke="#111" stroke-width="0.8" />
<polygon points="287.32,531.97 292.23,534.45 289.53,539.8 284.62,537.33" fill="#fff" stroke="#222" stroke-width="0.6" />
<polygon points="287.81,533.23 290.76,534.71 288.87,538.46 285.92,536.98" fill="#666" stroke="none" stroke-width="1" />
<polygon points="294.02,535.35 298.93,537.82 296.23,543.18 291.32,540.7" fill="#fff" stroke="#222" stroke-width="0.6" />
<polygon points="294.51,536.6 297.45,538.09 295.56,541.84 292.62,540.35" fill="#666" stroke="none" stroke-width="1" />
<polygon points="300.72,538.72 305.63,541.2 302.93,546.55 298.02,544.08" fill="#fff" stroke="#222" stroke-width="0.6" />
<polygon points="301.2,539.98 304.15,541.46 302.26,545.21 299.31,543.73" fill="#666" stroke="none" stroke-width="1" />
<polygon points="307.41,542.1 312.33,544.57 309.63,549.93 304.71,547.45" fill="#fff" stroke="#222" stroke-width="0.6" />
<polygon points="307.9,543.35 310.85,544.84 308.96,548.59 306.01,547.1" fill="#666" stroke="none" stroke-width="1" />
<rect x="324.1" y="539.8" width="14.7" height="4.2" fill="#ddd" stroke="#777" stroke-width="0.4" />
<line x1="325" y1="539.8" x2="325" y2="544" stroke="#777" stroke-width="0.4" />
<line x1="326.3" y1="539.8" x2="326.3" y2="544" stroke="#777" stroke-width="0.4" />
<line x1="327.6" y1="539.8" x2="327.6" y2="544" stroke="#777" stroke-width="0.4" />
<line x1="328.9" y1="539.8" x2="328.9" y2="544" stroke="#777" stroke-width="0.4" />
<line x1="330.2" y1="539.8" x2="330.2" y2="544" stroke="#777" stroke-width="0.4" />
<line x1="331.5" y1="539.8" x2="331.5" y2="544" stroke="#777" stroke-width="0.4" />
<line x1="332.8" y1="539.8" x2="332.8" y2="544" stroke="#777" stroke-width="0.4" />
<line x1="334.1" y1="539.8" x2="334.1" y2="544" stroke="#777" stroke-width="0.4" />
<line x1="335.4" y1="539.8" x2="335.4" y2="544" stroke="#777" stroke-width="0.4" />
<line x1="336.7" y1="539.8" x2="336.7" y2="544" stroke="#777" stroke-width="0.4" />
<line x1="338" y1="539.8" x2="338" y2="544" stroke="#777" stroke-width="0.4" />
<polyline points="85.35,502.28 85.88,500.35 86.48,498.44 87.15,496.55 87.89,494.67 88.7,492.81 89.58,490.97 90.52,489.16 91.52,487.36 92.59,485.6 93.73,483.86 94.92,482.15 96.18,480.47 97.5,478.82 98.88,477.21 100.31,475.63 101.81,474.08 103.35,472.58 104.96,471.11 106.61,469.68 108.31,468.3 110.07,466.95 111.87,465.65 113.72,464.4 115.61,463.19 117.55,462.03 119.53,460.92 121.55,459.86 123.6,458.84 125.69,457.88 127.81,456.97 129.97,456.11 132.16,455.31 134.37,454.56 136.61,453.87 138.88,453.23 141.17,452.65 143.47,452.12 145.8,451.65 148.14,451.24 150.49,450.89 152.86,450.6 155.24,450.36 157.62,450.18 160.01,450.07 162.4,450.01 164.8,450.01 167.19,450.07 169.58,450.18 171.96,450.36 174.34,450.6 176.71,450.89 179.06,451.24 181.4,451.65 183.73,452.12 186.03,452.65 188.32,453.23 190.59,453.87 192.83,454.56 195.04,455.31 197.23,456.11 199.39,456.97 201.51,457.88 203.6,458.84 205.65,459.86 207.67,460.92 209.65,462.03 211.59,463.19 213.48,464.4 215.33,465.65 217.13,466.95" fill="none" stroke="#111" stroke-width="1.3" />
<polyline points="165,450.01 165.05,446.21 167.54,446.28 170.01,446.41 172.49,446.6 174.95,446.85 177.41,447.17 179.85,447.54 182.28,447.98 184.69,448.47 187.08,449.03 189.46,449.65 191.81,450.32 194.13,451.06 196.43,451.85 198.69,452.7 200.93,453.6 203.13,454.56 205.3,455.58 207.43,456.65 209.53,457.77 211.58,458.94 213.59,460.16 215.55,461.44 217.47,462.76 219.34,464.13" fill="none" stroke="#111" stroke-width="1.3" />
<polyline points="85.35,502.28 80.65,502.83 80.06,505.6 79.62,508.39 79.31,511.19 79.14,513.99 79.11,516.8 79.22,519.61 79.47,522.41 79.86,525.21 80.38,527.98 81.05,530.74 81.85,533.47 82.79,536.17" fill="none" stroke="#111" stroke-width="1.3" />
<polyline points="217.13,466.95 219.22,468.56 221.23,470.22 223.17,471.95 225.04,473.73 226.82,475.56 228.53,477.45 230.16,479.38 231.7,481.36 233.15,483.39 234.51,485.45 235.79,487.56 236.97,489.7 238.06,491.87 239.06,494.08 239.96,496.31 240.76,498.57 241.46,500.85 242.07,503.15 242.57,505.46 242.98,507.79 243.28,510.13 243.49,512.48 243.59,514.83 243.59,517.18 243.49,519.54 243.28,521.88 242.98,524.22 242.57,526.55 242.06,528.87 241.46,531.17 240.75,533.45 239.95,535.71 239.05,537.94 238.06,540.14 236.96,542.32 235.78,544.46 234.51,546.56 233.14,548.63 231.69,550.65 230.15,552.63 228.52,554.57 226.81,556.45 225.02,558.29 223.16,560.06 221.22,561.79 219.2,563.45 217.12,565.06 214.96,566.6 212.74,568.08 210.46,569.49 208.12,570.84 205.72,572.11 203.27,573.31 200.77,574.44 198.22,575.5 195.63,576.48 192.99,577.38 190.32,578.21 187.62,578.96 184.88,579.62 182.12,580.21 179.33,580.71 176.53,581.13 173.71,581.47 170.87,581.73 168.03,581.9 165.18,581.99 162.32,581.99 159.47,581.91 156.63,581.75" fill="none" stroke="#111" stroke-width="0.9" />
<polyline points="156.63,581.75 154.89,581.61 153.16,581.44 151.43,581.23 149.71,581 149.96,579.83 147.83,579.49 145.71,579.11 143.6,578.68 141.51,578.2 139.43,577.67 137.38,577.09 141.72,571.55 139.17,570.82 136.65,570.01 134.17,569.12 131.73,568.16 129.34,567.12 127,566 124.72,564.81 122.49,563.55 120.32,562.22 118.21,560.83 116.17,559.36 114.2,557.84 112.3,556.25 110.47,554.61 108.72,552.91 107.06,551.15 100.9,557 99.01,554.94 97.21,552.83 95.52,550.66 93.93,548.44 92.45,546.17 91.07,543.85 89.81,541.49 88.66,539.09 87.62,536.66 86.7,534.19" fill="none" stroke="#111" stroke-width="0.9" />
<line x1="219.34" y1="464.13" x2="212.48" y2="470.34" stroke="#111" stroke-width="1.1" />
<polygon points="112.25,461.31 117.57,458.13 118.56,459.63 113.36,462.73" fill="#fff" stroke="#777" stroke-width="0.35" />
<polygon points="120.65,456.51 126.39,453.89 127.19,455.5 121.57,458.06" fill="#fff" stroke="#777" stroke-width="0.35" />
<polygon points="129.68,452.6 135.76,450.58 136.36,452.28 130.41,454.24" fill="#fff" stroke="#777" stroke-width="0.35" />
<polygon points="139.22,449.63 145.55,448.25 145.94,450 139.74,451.35" fill="#fff" stroke="#777" stroke-width="0.35" />
<polygon points="149.12,447.65 155.61,446.92 155.78,448.71 149.43,449.43" fill="#fff" stroke="#777" stroke-width="0.35" />
<polyline points="93.17,503.82 93.76,501.74 94.45,499.68 95.22,497.64 96.09,495.63 97.05,493.64 98.09,491.69 99.22,489.76 100.44,487.87 101.74,486.02 103.12,484.21 104.58,482.44 106.12,480.71 107.74,479.03 109.43,477.4 111.19,475.82 113.02,474.3 114.92,472.83 116.88,471.41 118.91,470.06 120.99,468.76 123.13,467.53 125.32,466.37 127.57,465.27 129.86,464.23 132.2,463.27 134.58,462.37 136.99,461.55 139.45,460.8 141.93,460.12 144.45,459.51 146.98,458.98 149.54,458.53 152.12,458.15 154.72,457.85 157.32,457.62 159.94,457.48 162.56,457.41 165.18,457.41 167.8,457.5 170.41,457.66 173.02,457.9 175.61,458.22 178.18,458.61 180.74,459.08 183.27,459.63 185.78,460.25 188.26,460.94 190.7,461.71 193.11,462.55 195.49,463.46 197.81,464.44 200.1,465.49 202.33,466.6 204.51,467.78 206.64,469.02 208.72,470.33 210.73,471.7 212.68,473.12 214.56,474.6 216.38,476.14 218.13,477.73 219.8,479.37 221.4,481.06 222.93,482.8 224.37,484.58 225.74,486.4 227.02,488.26 228.22,490.15 229.33,492.09 230.36,494.05" fill="none" stroke="#111" stroke-width="1.0" />
<ellipse cx="165.7" cy="515.9" rx="54.9" ry="40.1" fill="none" stroke="#333" stroke-width="0.7" />
<polyline points="115.99,528.93 114.93,526.61 114.09,524.25 113.45,521.86 113.03,519.44 112.82,517.01 112.83,514.57 113.06,512.14 113.5,509.72 114.16,507.33 115.02,504.97 116.1,502.66 117.37,500.4 118.85,498.21 120.52,496.09 122.37,494.05 124.4,492.1 126.59,490.24 128.95,488.49 131.46,486.86 134.11,485.34 136.89,483.95 139.78,482.69 142.79,481.56 145.88,480.57 149.06,479.73 152.31,479.04 155.61,478.5 158.95,478.11 162.32,477.88 165.7,477.8 169.08,477.88 172.45,478.11 175.79,478.5 179.09,479.04 182.34,479.73 185.52,480.57 188.61,481.56 191.62,482.69 194.51,483.95 197.29,485.34 199.94,486.86 202.45,488.49 204.81,490.24 207,492.1 209.03,494.05 210.88,496.09 212.55,498.21 214.03,500.4 215.3,502.66 216.38,504.97 217.24,507.33 217.9,509.72 218.34,512.14 218.57,514.57 218.58,517.01 218.37,519.44 217.95,521.86 217.31,524.25 216.47,526.61 215.41,528.93" fill="none" stroke="#777" stroke-width="0.45" />
<polyline points="222.03,523.26 221.47,525.32 220.77,527.35 219.94,529.35 218.98,531.32 217.89,533.26 216.67,535.15 215.32,536.99 213.85,538.79 212.27,540.52 210.57,542.2 208.76,543.81 206.85,545.35 204.83,546.83 202.72,548.22 200.52,549.54 198.24,550.77 195.87,551.92 193.43,552.98 190.92,553.95 188.36,554.83 185.73,555.61 183.06,556.3 180.34,556.89 177.59,557.37 174.81,557.76 172.01,558.04 169.19,558.22 166.37,558.3 163.54,558.27 160.71,558.14 160.92,555.85" fill="none" stroke="#555" stroke-width="0.5" />
<polyline points="233.03,497.77 234.05,500.53 234.9,503.33 235.58,506.16 236.09,509.01 236.42,511.88 236.58,514.76 236.57,517.65 236.38,520.53 236.02,523.39 235.49,526.25 234.79,529.07 233.91,531.87 232.87,534.62 231.66,537.34 230.29,540 228.76,542.6 227.07,545.14 225.24,547.61 223.25,550.01 221.12,552.32" fill="none" stroke="#888" stroke-width="0.5" stroke-dasharray="4 2"/>
<line x1="121.7" y1="469.3" x2="130.8" y2="484.3" stroke="#111" stroke-width="0.9" />
<line x1="143.3" y1="461.5" x2="147.5" y2="477.3" stroke="#111" stroke-width="0.9" />
<line x1="163.3" y1="457.7" x2="164.2" y2="476.1" stroke="#111" stroke-width="0.9" />
<line x1="185" y1="461.6" x2="181.7" y2="477.2" stroke="#111" stroke-width="0.9" />
<line x1="206.7" y1="469.3" x2="198.3" y2="484.3" stroke="#111" stroke-width="0.9" />
<line x1="223.3" y1="483" x2="212.5" y2="495" stroke="#111" stroke-width="0.9" />
<line x1="105.8" y1="483" x2="116.7" y2="495" stroke="#111" stroke-width="0.9" />
<line x1="91.7" y1="504.3" x2="109.1" y2="508.2" stroke="#111" stroke-width="0.9" />
<polyline points="219.6,508.5 236.5,503.8 234.5,498" fill="none" stroke="#111" stroke-width="0.8" />
<rect x="228.5" y="504.5" width="3.3" height="3" fill="none" stroke="#333" stroke-width="0.4" />
<circle cx="204.72" cy="464.42" r="1.2" fill="none" stroke="#222" stroke-width="0.6" />
<circle cx="207.98" cy="466.25" r="1.2" fill="none" stroke="#222" stroke-width="0.6" />
<circle cx="211.11" cy="468.21" r="1.2" fill="none" stroke="#222" stroke-width="0.6" />
<rect x="104.78" y="478.98" width="11" height="1.8" fill="#fff" stroke="#222" stroke-width="0.5" transform="rotate(-44.13 110.28 479.88)"/>
<rect x="132.03" y="462.99" width="11" height="1.8" fill="#fff" stroke="#222" stroke-width="0.5" transform="rotate(-18.2 137.53 463.89)"/>
<polyline points="81.3,501.5 89.2,503.6" fill="none" stroke="#111" stroke-width="0.9" />
<polyline points="85.5,536.8 104,529.3 102.5,513.5" fill="none" stroke="#111" stroke-width="0.8" />
<polyline points="82.5,515.5 102.5,513.5 88,534 85,518 103,530" fill="none" stroke="#888" stroke-width="0.4" />
<ellipse cx="113.7" cy="548.3" rx="1.6" ry="2.6" fill="none" stroke="#999" stroke-width="0.4" />
<ellipse cx="127.9" cy="553.7" rx="6" ry="3.6" fill="none" stroke="#999" stroke-width="0.4" transform="rotate(-8 127.9 553.7)" />
<circle cx="160.3" cy="171" r="0.8" fill="#111" stroke="none" stroke-width="1" />
<circle cx="165.6" cy="185.8" r="0.8" fill="#111" stroke="none" stroke-width="1" />
<circle cx="141.1" cy="184.3" r="0.8" fill="#111" stroke="none" stroke-width="1" />
<circle cx="157.3" cy="197.6" r="0.8" fill="#111" stroke="none" stroke-width="1" />
<circle cx="130.8" cy="197.6" r="0.8" fill="#111" stroke="none" stroke-width="1" />
<circle cx="151.4" cy="207.9" r="0.8" fill="#111" stroke="none" stroke-width="1" />
<circle cx="124.9" cy="216.7" r="0.8" fill="#111" stroke="none" stroke-width="1" />
<circle cx="144.1" cy="222" r="0.8" fill="#111" stroke="none" stroke-width="1" />
<circle cx="121.1" cy="244.3" r="0.8" fill="#111" stroke="none" stroke-width="1" />
<circle cx="134" cy="244.3" r="0.8" fill="#111" stroke="none" stroke-width="1" />
<circle cx="149.1" cy="244.3" r="0.8" fill="#111" stroke="none" stroke-width="1" />
<circle cx="141.5" cy="244.3" r="0.8" fill="#111" stroke="none" stroke-width="1" />
<circle cx="170.01" cy="195.43" r="0.8" fill="#111" stroke="none" stroke-width="1" />
<circle cx="161.49" cy="200.88" r="0.8" fill="#111" stroke="none" stroke-width="1" />
<circle cx="155.02" cy="209.56" r="0.8" fill="#111" stroke="none" stroke-width="1" />
<circle cx="151.05" cy="219.47" r="0.8" fill="#111" stroke="none" stroke-width="1" />
<circle cx="149.01" cy="230.79" r="0.8" fill="#111" stroke="none" stroke-width="1" />
<circle cx="149.02" cy="242.74" r="0.8" fill="#111" stroke="none" stroke-width="1" />
<circle cx="151.29" cy="255.27" r="0.8" fill="#111" stroke="none" stroke-width="1" />
<circle cx="156.77" cy="268.55" r="0.8" fill="#111" stroke="none" stroke-width="1" />
<circle cx="167.58" cy="281.11" r="0.8" fill="#111" stroke="none" stroke-width="1" />
<circle cx="178.97" cy="285.85" r="0.8" fill="#111" stroke="none" stroke-width="1" />
<circle cx="199.75" cy="208.62" r="0.8" fill="#111" stroke="none" stroke-width="1" />
<circle cx="206.19" cy="221.95" r="0.8" fill="#111" stroke="none" stroke-width="1" />
<circle cx="209.38" cy="237.46" r="0.8" fill="#111" stroke="none" stroke-width="1" />
<circle cx="208.25" cy="257.07" r="0.8" fill="#111" stroke="none" stroke-width="1" />
<circle cx="201.67" cy="273.51" r="0.8" fill="#111" stroke="none" stroke-width="1" />
<circle cx="193.29" cy="282.26" r="0.8" fill="#111" stroke="none" stroke-width="1" />
<circle cx="149.6" cy="305" r="0.8" fill="#111" stroke="none" stroke-width="1" />
<circle cx="165.5" cy="283.7" r="0.8" fill="#111" stroke="none" stroke-width="1" />
<circle cx="179.5" cy="299.7" r="0.8" fill="#111" stroke="none" stroke-width="1" />
<circle cx="179.5" cy="314.5" r="0.8" fill="#111" stroke="none" stroke-width="1" />
<circle cx="188.5" cy="314.5" r="0.8" fill="#111" stroke="none" stroke-width="1" />
<circle cx="207.6" cy="299.7" r="0.8" fill="#111" stroke="none" stroke-width="1" />
<circle cx="207.6" cy="314.5" r="0.8" fill="#111" stroke="none" stroke-width="1" />
<circle cx="164.1" cy="311.6" r="0.8" fill="#111" stroke="none" stroke-width="1" />
<circle cx="158.9" cy="293" r="0.8" fill="#111" stroke="none" stroke-width="1" />
<circle cx="179.3" cy="166.4" r="0.8" fill="#111" stroke="none" stroke-width="1" />
<circle cx="186.9" cy="166.4" r="0.8" fill="#111" stroke="none" stroke-width="1" />
<circle cx="206.4" cy="166.4" r="0.8" fill="#111" stroke="none" stroke-width="1" />
<circle cx="186.9" cy="178.5" r="0.8" fill="#111" stroke="none" stroke-width="1" />
<circle cx="206.4" cy="178.5" r="0.8" fill="#111" stroke="none" stroke-width="1" />
<circle cx="206.4" cy="193.5" r="0.8" fill="#111" stroke="none" stroke-width="1" />
<circle cx="186.9" cy="187" r="0.8" fill="#111" stroke="none" stroke-width="1" />
<circle cx="244.9" cy="178.3" r="0.8" fill="#111" stroke="none" stroke-width="1" />
<circle cx="244.9" cy="193.8" r="0.8" fill="#111" stroke="none" stroke-width="1" />
<circle cx="244.9" cy="166.4" r="0.8" fill="#111" stroke="none" stroke-width="1" />
<circle cx="263.6" cy="178.3" r="0.8" fill="#111" stroke="none" stroke-width="1" />
<circle cx="263.6" cy="193.8" r="0.8" fill="#111" stroke="none" stroke-width="1" />
<circle cx="263.6" cy="166.4" r="0.8" fill="#111" stroke="none" stroke-width="1" />
<circle cx="282.6" cy="178.3" r="0.8" fill="#111" stroke="none" stroke-width="1" />
<circle cx="282.6" cy="193.8" r="0.8" fill="#111" stroke="none" stroke-width="1" />
<circle cx="282.6" cy="166.4" r="0.8" fill="#111" stroke="none" stroke-width="1" />
<circle cx="301.4" cy="178.3" r="0.8" fill="#111" stroke="none" stroke-width="1" />
<circle cx="301.4" cy="193.8" r="0.8" fill="#111" stroke="none" stroke-width="1" />
<circle cx="301.4" cy="166.4" r="0.8" fill="#111" stroke="none" stroke-width="1" />
<circle cx="320.1" cy="178.3" r="0.8" fill="#111" stroke="none" stroke-width="1" />
<circle cx="320.1" cy="193.8" r="0.8" fill="#111" stroke="none" stroke-width="1" />
<circle cx="320.1" cy="169.8" r="0.8" fill="#111" stroke="none" stroke-width="1" />
<circle cx="225.9" cy="178.3" r="0.8" fill="#111" stroke="none" stroke-width="1" />
<circle cx="225.9" cy="193.8" r="0.8" fill="#111" stroke="none" stroke-width="1" />
<circle cx="339.4" cy="178.3" r="0.8" fill="#111" stroke="none" stroke-width="1" />
<circle cx="339.4" cy="193.8" r="0.8" fill="#111" stroke="none" stroke-width="1" />
<circle cx="301.9" cy="166.4" r="0.8" fill="#111" stroke="none" stroke-width="1" />
<circle cx="248.9" cy="247.8" r="0.8" fill="#111" stroke="none" stroke-width="1" />
<circle cx="248.9" cy="263.8" r="0.8" fill="#111" stroke="none" stroke-width="1" />
<circle cx="271.9" cy="247.8" r="0.8" fill="#111" stroke="none" stroke-width="1" />
<circle cx="271.9" cy="263.8" r="0.8" fill="#111" stroke="none" stroke-width="1" />
<circle cx="295.1" cy="247.8" r="0.8" fill="#111" stroke="none" stroke-width="1" />
<circle cx="295.1" cy="263.8" r="0.8" fill="#111" stroke="none" stroke-width="1" />
<circle cx="308.6" cy="247.8" r="0.8" fill="#111" stroke="none" stroke-width="1" />
<circle cx="308.6" cy="263.8" r="0.8" fill="#111" stroke="none" stroke-width="1" />
<circle cx="244.9" cy="242" r="0.8" fill="#111" stroke="none" stroke-width="1" />
<circle cx="263.6" cy="242" r="0.8" fill="#111" stroke="none" stroke-width="1" />
<circle cx="282.6" cy="242" r="0.8" fill="#111" stroke="none" stroke-width="1" />
<circle cx="301.4" cy="242" r="0.8" fill="#111" stroke="none" stroke-width="1" />
<circle cx="320.1" cy="242" r="0.8" fill="#111" stroke="none" stroke-width="1" />
<circle cx="339.4" cy="242" r="0.8" fill="#111" stroke="none" stroke-width="1" />
<circle cx="244.9" cy="299.5" r="0.8" fill="#111" stroke="none" stroke-width="1" />
<circle cx="244.9" cy="314.5" r="0.8" fill="#111" stroke="none" stroke-width="1" />
<circle cx="263.6" cy="299.5" r="0.8" fill="#111" stroke="none" stroke-width="1" />
<circle cx="263.6" cy="314.5" r="0.8" fill="#111" stroke="none" stroke-width="1" />
<circle cx="282.6" cy="299.5" r="0.8" fill="#111" stroke="none" stroke-width="1" />
<circle cx="282.6" cy="314.5" r="0.8" fill="#111" stroke="none" stroke-width="1" />
<circle cx="301.4" cy="299.5" r="0.8" fill="#111" stroke="none" stroke-width="1" />
<circle cx="301.4" cy="314.5" r="0.8" fill="#111" stroke="none" stroke-width="1" />
<circle cx="320.1" cy="299.5" r="0.8" fill="#111" stroke="none" stroke-width="1" />
<circle cx="320.1" cy="314.5" r="0.8" fill="#111" stroke="none" stroke-width="1" />
<circle cx="225.9" cy="299.5" r="0.8" fill="#111" stroke="none" stroke-width="1" />
<circle cx="339.4" cy="299.5" r="0.8" fill="#111" stroke="none" stroke-width="1" />
<circle cx="339.4" cy="314.5" r="0.8" fill="#111" stroke="none" stroke-width="1" />
<circle cx="263.6" cy="287.8" r="0.8" fill="#111" stroke="none" stroke-width="1" />
<circle cx="282.6" cy="287.8" r="0.8" fill="#111" stroke="none" stroke-width="1" />
<circle cx="244.4" cy="287.8" r="0.8" fill="#111" stroke="none" stroke-width="1" />
<circle cx="225.9" cy="207.5" r="0.8" fill="#111" stroke="none" stroke-width="1" />
<circle cx="225.9" cy="223.5" r="0.8" fill="#111" stroke="none" stroke-width="1" />
<circle cx="225.9" cy="242" r="0.8" fill="#111" stroke="none" stroke-width="1" />
<circle cx="225.9" cy="263.8" r="0.8" fill="#111" stroke="none" stroke-width="1" />
<circle cx="225.9" cy="287.8" r="0.8" fill="#111" stroke="none" stroke-width="1" />
<circle cx="91.25" cy="383.9" r="0.8" fill="#111" stroke="none" stroke-width="1" />
<circle cx="91.25" cy="398.3" r="0.8" fill="#111" stroke="none" stroke-width="1" />
<circle cx="88.75" cy="404.3" r="0.8" fill="#111" stroke="none" stroke-width="1" />
<circle cx="88.75" cy="418.9" r="0.8" fill="#111" stroke="none" stroke-width="1" />
<circle cx="105.3" cy="383.9" r="0.8" fill="#111" stroke="none" stroke-width="1" />
<circle cx="105.3" cy="398.3" r="0.8" fill="#111" stroke="none" stroke-width="1" />
<circle cx="105.3" cy="404.3" r="0.8" fill="#111" stroke="none" stroke-width="1" />
<circle cx="105.3" cy="418.9" r="0.8" fill="#111" stroke="none" stroke-width="1" />
<circle cx="119.4" cy="383.9" r="0.8" fill="#111" stroke="none" stroke-width="1" />
<circle cx="119.4" cy="398.3" r="0.8" fill="#111" stroke="none" stroke-width="1" />
<circle cx="119.4" cy="404.3" r="0.8" fill="#111" stroke="none" stroke-width="1" />
<circle cx="119.4" cy="418.9" r="0.8" fill="#111" stroke="none" stroke-width="1" />
<circle cx="134.4" cy="383.9" r="0.8" fill="#111" stroke="none" stroke-width="1" />
<circle cx="134.4" cy="398.3" r="0.8" fill="#111" stroke="none" stroke-width="1" />
<circle cx="134.4" cy="404.3" r="0.8" fill="#111" stroke="none" stroke-width="1" />
<circle cx="134.4" cy="418.9" r="0.8" fill="#111" stroke="none" stroke-width="1" />
<circle cx="149.1" cy="383.9" r="0.8" fill="#111" stroke="none" stroke-width="1" />
<circle cx="149.1" cy="398.3" r="0.8" fill="#111" stroke="none" stroke-width="1" />
<circle cx="149.1" cy="404.3" r="0.8" fill="#111" stroke="none" stroke-width="1" />
<circle cx="149.1" cy="418.9" r="0.8" fill="#111" stroke="none" stroke-width="1" />
<circle cx="151.07" cy="382.6" r="0.8" fill="#111" stroke="none" stroke-width="1" />
<circle cx="159.36" cy="394.85" r="0.8" fill="#111" stroke="none" stroke-width="1" />
<circle cx="172.6" cy="368.04" r="0.8" fill="#111" stroke="none" stroke-width="1" />
<circle cx="180.89" cy="380.29" r="0.8" fill="#111" stroke="none" stroke-width="1" />
<circle cx="192.06" cy="354.88" r="0.8" fill="#111" stroke="none" stroke-width="1" />
<circle cx="200.34" cy="367.13" r="0.8" fill="#111" stroke="none" stroke-width="1" />
<circle cx="161.42" cy="375.6" r="0.8" fill="#111" stroke="none" stroke-width="1" />
<circle cx="169.71" cy="387.85" r="0.8" fill="#111" stroke="none" stroke-width="1" />
<circle cx="182.95" cy="361.04" r="0.8" fill="#111" stroke="none" stroke-width="1" />
<circle cx="191.24" cy="373.29" r="0.8" fill="#111" stroke="none" stroke-width="1" />
<circle cx="167.43" cy="395.19" r="0.8" fill="#111" stroke="none" stroke-width="1" />
<circle cx="175.04" cy="406.45" r="0.8" fill="#111" stroke="none" stroke-width="1" />
<circle cx="175.71" cy="389.59" r="0.8" fill="#111" stroke="none" stroke-width="1" />
<circle cx="183.32" cy="400.85" r="0.8" fill="#111" stroke="none" stroke-width="1" />
<circle cx="194.75" cy="376.71" r="0.8" fill="#111" stroke="none" stroke-width="1" />
<circle cx="202.37" cy="387.97" r="0.8" fill="#111" stroke="none" stroke-width="1" />
<circle cx="214.62" cy="363.27" r="0.8" fill="#111" stroke="none" stroke-width="1" />
<circle cx="222.24" cy="374.53" r="0.8" fill="#111" stroke="none" stroke-width="1" />
<circle cx="184.82" cy="383.43" r="0.8" fill="#111" stroke="none" stroke-width="1" />
<circle cx="192.43" cy="394.69" r="0.8" fill="#111" stroke="none" stroke-width="1" />
<circle cx="204.69" cy="369.99" r="0.8" fill="#111" stroke="none" stroke-width="1" />
<circle cx="212.3" cy="381.25" r="0.8" fill="#111" stroke="none" stroke-width="1" />
<circle cx="227.1" cy="352.3" r="0.8" fill="#111" stroke="none" stroke-width="1" />
<circle cx="244.9" cy="363.1" r="0.8" fill="#111" stroke="none" stroke-width="1" />
<circle cx="240.5" cy="371" r="0.8" fill="#111" stroke="none" stroke-width="1" />
<circle cx="221.1" cy="361.3" r="0.8" fill="#111" stroke="none" stroke-width="1" />
<circle cx="225.5" cy="373.7" r="0.8" fill="#111" stroke="none" stroke-width="1" />
<circle cx="249.4" cy="386.9" r="0.8" fill="#111" stroke="none" stroke-width="1" />
<circle cx="244.1" cy="396.7" r="0.8" fill="#111" stroke="none" stroke-width="1" />
<circle cx="218.4" cy="385.2" r="0.8" fill="#111" stroke="none" stroke-width="1" />
<circle cx="260" cy="370.1" r="0.8" fill="#111" stroke="none" stroke-width="1" />
<circle cx="253" cy="366" r="0.8" fill="#111" stroke="none" stroke-width="1" />
<circle cx="280.3" cy="370.1" r="0.8" fill="#111" stroke="none" stroke-width="1" />
<circle cx="280.3" cy="383.3" r="0.8" fill="#111" stroke="none" stroke-width="1" />
<circle cx="300.7" cy="370.1" r="0.8" fill="#111" stroke="none" stroke-width="1" />
<circle cx="300.7" cy="383.3" r="0.8" fill="#111" stroke="none" stroke-width="1" />
<circle cx="313.1" cy="370.1" r="0.8" fill="#111" stroke="none" stroke-width="1" />
<circle cx="313.1" cy="383.3" r="0.8" fill="#111" stroke="none" stroke-width="1" />
<circle cx="320.5" cy="370.1" r="0.8" fill="#111" stroke="none" stroke-width="1" />
<circle cx="320.5" cy="383.3" r="0.8" fill="#111" stroke="none" stroke-width="1" />
<circle cx="280.3" cy="389.1" r="0.8" fill="#111" stroke="none" stroke-width="1" />
<circle cx="280.3" cy="402" r="0.8" fill="#111" stroke="none" stroke-width="1" />
<circle cx="300.7" cy="389.1" r="0.8" fill="#111" stroke="none" stroke-width="1" />
<circle cx="300.7" cy="402" r="0.8" fill="#111" stroke="none" stroke-width="1" />
<circle cx="320.5" cy="389.1" r="0.8" fill="#111" stroke="none" stroke-width="1" />
<circle cx="320.5" cy="402" r="0.8" fill="#111" stroke="none" stroke-width="1" />
<circle cx="261.1" cy="370.1" r="0.8" fill="#111" stroke="none" stroke-width="1" />
<circle cx="261.1" cy="383.3" r="0.8" fill="#111" stroke="none" stroke-width="1" />
<circle cx="261.1" cy="389.1" r="0.8" fill="#111" stroke="none" stroke-width="1" />
<circle cx="261.1" cy="402" r="0.8" fill="#111" stroke="none" stroke-width="1" />
<circle cx="340.8" cy="370.1" r="0.8" fill="#111" stroke="none" stroke-width="1" />
<circle cx="340.8" cy="383.3" r="0.8" fill="#111" stroke="none" stroke-width="1" />
<circle cx="340.8" cy="389.1" r="0.8" fill="#111" stroke="none" stroke-width="1" />
<circle cx="340.8" cy="402" r="0.8" fill="#111" stroke="none" stroke-width="1" />
<circle cx="241.4" cy="410" r="0.8" fill="#111" stroke="none" stroke-width="1" />
<circle cx="241.4" cy="422" r="0.8" fill="#111" stroke="none" stroke-width="1" />
<circle cx="241.4" cy="434" r="0.8" fill="#111" stroke="none" stroke-width="1" />
<circle cx="241.4" cy="446" r="0.8" fill="#111" stroke="none" stroke-width="1" />
<circle cx="241.4" cy="458" r="0.8" fill="#111" stroke="none" stroke-width="1" />
<circle cx="241.4" cy="470" r="0.8" fill="#111" stroke="none" stroke-width="1" />
<circle cx="261.3" cy="462.7" r="0.8" fill="#111" stroke="none" stroke-width="1" />
<circle cx="280.5" cy="462.7" r="0.8" fill="#111" stroke="none" stroke-width="1" />
<circle cx="301.6" cy="462.7" r="0.8" fill="#111" stroke="none" stroke-width="1" />
<circle cx="261.3" cy="478" r="0.8" fill="#111" stroke="none" stroke-width="1" />
<circle cx="280.5" cy="478" r="0.8" fill="#111" stroke="none" stroke-width="1" />
<circle cx="301.6" cy="478" r="0.8" fill="#111" stroke="none" stroke-width="1" />
<circle cx="326.4" cy="469.3" r="0.8" fill="#111" stroke="none" stroke-width="1" />
<circle cx="340.9" cy="469.3" r="0.8" fill="#111" stroke="none" stroke-width="1" />
<circle cx="326.4" cy="490" r="0.8" fill="#111" stroke="none" stroke-width="1" />
<circle cx="340.9" cy="490" r="0.8" fill="#111" stroke="none" stroke-width="1" />
<circle cx="340.9" cy="478" r="0.8" fill="#111" stroke="none" stroke-width="1" />
<circle cx="305.7" cy="451.7" r="0.8" fill="#111" stroke="none" stroke-width="1" />
<circle cx="261.3" cy="539.5" r="0.8" fill="#111" stroke="none" stroke-width="1" />
<circle cx="279.9" cy="539.5" r="0.8" fill="#111" stroke="none" stroke-width="1" />
<circle cx="241.7" cy="539.5" r="0.8" fill="#111" stroke="none" stroke-width="1" />
<circle cx="302.6" cy="550.9" r="0.8" fill="#111" stroke="none" stroke-width="1" />
<circle cx="340.9" cy="550.9" r="0.8" fill="#111" stroke="none" stroke-width="1" />
<circle cx="302.6" cy="568.5" r="0.8" fill="#111" stroke="none" stroke-width="1" />
<circle cx="320.2" cy="568.5" r="0.8" fill="#111" stroke="none" stroke-width="1" />
<circle cx="332.6" cy="568.5" r="0.8" fill="#111" stroke="none" stroke-width="1" />
<circle cx="340.9" cy="568.5" r="0.8" fill="#111" stroke="none" stroke-width="1" />
<circle cx="261.3" cy="527.6" r="0.8" fill="#111" stroke="none" stroke-width="1" />
<circle cx="244.8" cy="527.6" r="0.8" fill="#111" stroke="none" stroke-width="1" />
<circle cx="121.7" cy="469.3" r="0.8" fill="#111" stroke="none" stroke-width="1" />
<circle cx="130.8" cy="484.3" r="0.8" fill="#111" stroke="none" stroke-width="1" />
<circle cx="143.3" cy="461.5" r="0.8" fill="#111" stroke="none" stroke-width="1" />
<circle cx="147.5" cy="477.3" r="0.8" fill="#111" stroke="none" stroke-width="1" />
<circle cx="163.3" cy="457.7" r="0.8" fill="#111" stroke="none" stroke-width="1" />
<circle cx="164.2" cy="476.1" r="0.8" fill="#111" stroke="none" stroke-width="1" />
<circle cx="185" cy="461.6" r="0.8" fill="#111" stroke="none" stroke-width="1" />
<circle cx="181.7" cy="477.2" r="0.8" fill="#111" stroke="none" stroke-width="1" />
<circle cx="206.7" cy="469.3" r="0.8" fill="#111" stroke="none" stroke-width="1" />
<circle cx="198.3" cy="484.3" r="0.8" fill="#111" stroke="none" stroke-width="1" />
<circle cx="223.3" cy="483" r="0.8" fill="#111" stroke="none" stroke-width="1" />
<circle cx="212.5" cy="495" r="0.8" fill="#111" stroke="none" stroke-width="1" />
<circle cx="105.8" cy="483" r="0.8" fill="#111" stroke="none" stroke-width="1" />
<circle cx="116.7" cy="495" r="0.8" fill="#111" stroke="none" stroke-width="1" />
<circle cx="91.7" cy="504.3" r="0.8" fill="#111" stroke="none" stroke-width="1" />
<circle cx="109.1" cy="508.2" r="0.8" fill="#111" stroke="none" stroke-width="1" />
<circle cx="84.04" cy="522.9" r="0.8" fill="#111" stroke="none" stroke-width="1" />
<circle cx="84.04" cy="509.1" r="0.8" fill="#111" stroke="none" stroke-width="1" />
<circle cx="87.52" cy="495.6" r="0.8" fill="#111" stroke="none" stroke-width="1" />
<circle cx="94.32" cy="483" r="0.8" fill="#111" stroke="none" stroke-width="1" />
<circle cx="104.15" cy="471.84" r="0.8" fill="#111" stroke="none" stroke-width="1" />
<circle cx="116.58" cy="462.6" r="0.8" fill="#111" stroke="none" stroke-width="1" />
<circle cx="131.06" cy="455.71" r="0.8" fill="#111" stroke="none" stroke-width="1" />
<circle cx="146.97" cy="451.44" r="0.8" fill="#111" stroke="none" stroke-width="1" />
<circle cx="163.6" cy="450" r="0.8" fill="#111" stroke="none" stroke-width="1" />
<circle cx="180.23" cy="451.44" r="0.8" fill="#111" stroke="none" stroke-width="1" />
<circle cx="196.14" cy="455.71" r="0.8" fill="#111" stroke="none" stroke-width="1" />
<circle cx="210.62" cy="462.6" r="0.8" fill="#111" stroke="none" stroke-width="1" />
<use href="#tree" transform="translate(280.3 409.9) scale(0.75)"/>
<use href="#tree" transform="translate(319.1 409.9) scale(0.75)"/>
<use href="#tree" transform="translate(287.4 422.8) scale(0.75)"/>
<use href="#tree" transform="translate(277.6 442.7) scale(0.75)"/>
<use href="#tree" transform="translate(318.9 445.3) scale(0.75)"/>
</g>
</g>
</svg>
</body></html>
